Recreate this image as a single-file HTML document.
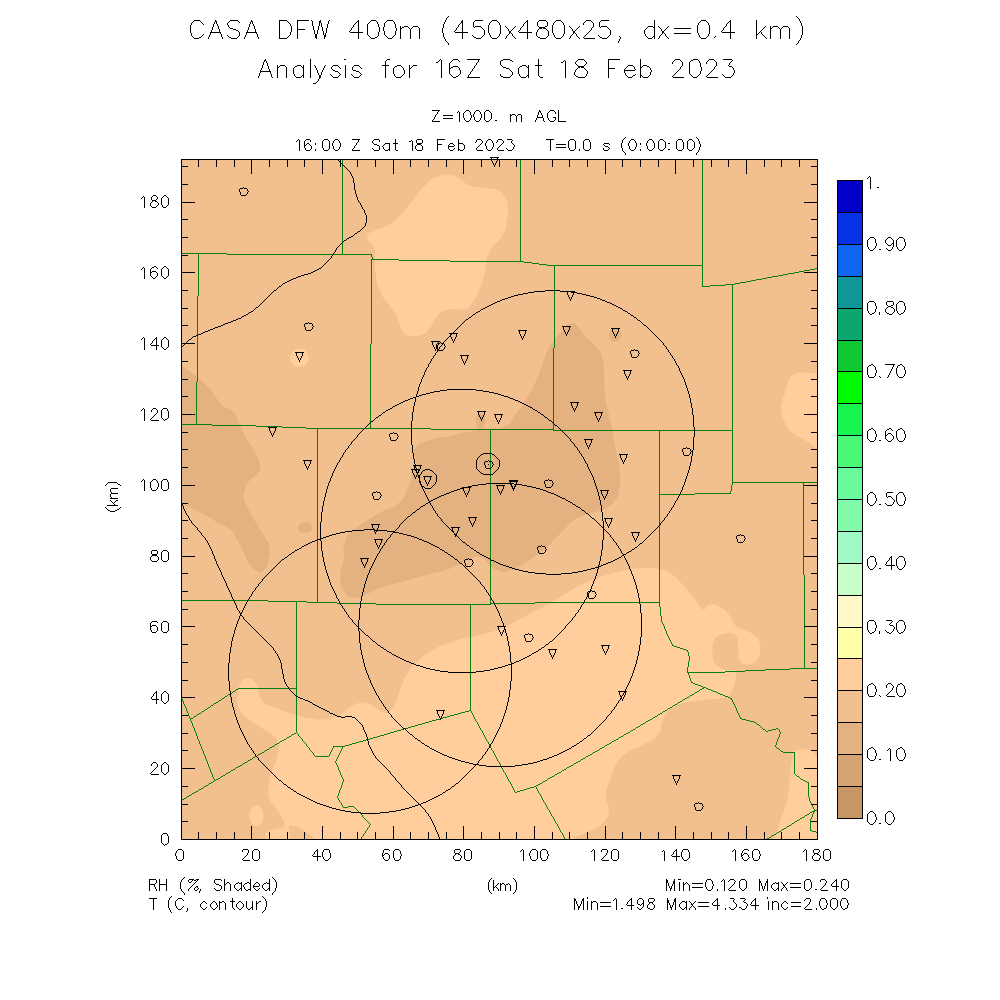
<!DOCTYPE html>
<html><head><meta charset="utf-8"><title>CASA DFW 400m</title>
<style>html,body{margin:0;padding:0;background:#fff;overflow:hidden;width:1000px;height:1000px;font-family:"Liberation Sans",sans-serif}svg{display:block}</style></head>
<body>
<svg width="1000" height="1000" viewBox="0 0 1000 1000" style="display:block">
<title>CASA DFW 400m (450x480x25, dx=0.4 km) Analysis for 16Z Sat 18 Feb 2023</title>
<desc>Z=1000. m AGL; 16:00 Z Sat 18 Feb 2023 T=0.0 s (0:00:00); RH (%, Shaded) Min=0.120 Max=0.240; T (C, contour) Min=1.498 Max=4.334 inc=2.000; axes in (km)</desc>
<rect width="1000" height="1000" fill="#fff"/>
<defs><clipPath id="cp"><rect x="181" y="159" width="637" height="681"/></clipPath></defs>
<g clip-path="url(#cp)">
<rect x="181" y="159" width="637" height="681" fill="#F1C08E"/>
<path d="M367.5,237.0 C367.8,231.2 368.3,234.3 375.0,230.5 C381.7,226.7 379.2,230.5 387.5,225.5 C395.8,220.5 391.7,223.8 400.0,215.5 C408.3,207.2 404.2,210.5 412.5,200.5 C420.8,190.5 416.7,193.3 425.0,185.5 C433.3,177.7 429.2,180.5 437.5,177.0 C445.8,173.5 442.5,174.3 450.0,175.0 C457.5,175.7 453.3,175.5 460.0,179.0 C466.7,182.5 461.7,182.5 470.0,185.5 C478.3,188.5 475.8,186.3 485.0,188.0 C494.2,189.7 490.8,187.2 497.5,190.5 C504.2,193.8 501.5,192.2 505.0,198.0 C508.5,203.8 507.3,200.5 508.0,208.0 C508.7,215.5 508.8,211.3 507.0,220.5 C505.2,229.7 507.3,226.7 502.5,235.5 C497.7,244.3 497.0,241.2 492.5,247.0 C488.0,252.8 491.2,247.7 489.0,253.0 C486.8,258.3 487.7,255.5 486.0,263.0 C484.3,270.5 486.3,266.3 484.0,275.5 C481.7,284.7 482.8,281.3 479.0,290.5 C475.2,299.7 477.2,296.8 472.5,303.0 C467.8,309.2 470.8,307.0 465.0,309.0 C459.2,311.0 461.7,308.5 455.0,309.0 C448.3,309.5 450.8,308.3 445.0,310.5 C439.2,312.7 442.5,309.7 437.5,315.5 C432.5,321.3 435.0,321.8 430.0,328.0 C425.0,334.2 428.3,331.3 422.5,334.0 C416.7,336.7 418.3,336.0 412.5,336.0 C406.7,336.0 409.2,337.5 405.0,334.0 C400.8,330.5 403.3,332.5 400.0,325.5 C396.7,318.5 399.2,320.5 395.0,313.0 C390.8,305.5 392.5,310.5 387.5,303.0 C382.5,295.5 383.8,299.7 380.0,290.5 C376.2,281.3 377.7,285.5 376.0,275.5 C374.3,265.5 375.7,269.7 375.0,260.5 C374.3,251.3 376.5,255.8 374.0,248.0 C371.5,240.2 367.2,242.8 367.5,237.0Z" fill="#FFCE9C"/>
<path d="M825.0,373.5 C822.5,347.3 824.2,373.8 817.5,373.5 C810.8,373.2 812.5,372.3 805.0,372.5 C797.5,372.7 800.3,371.3 795.0,374.0 C789.7,376.7 792.3,374.2 789.0,380.5 C785.7,386.8 787.3,385.8 785.0,393.0 C782.7,400.2 783.3,396.3 782.0,402.0 C780.7,407.7 780.2,403.2 781.2,410.0 C782.2,416.8 781.2,415.0 785.0,422.5 C788.8,430.0 785.8,426.7 792.5,432.5 C799.2,438.3 796.7,434.6 805.0,440.0 C813.3,445.4 810.8,444.7 817.5,448.7 C824.2,452.7 822.5,477.1 825.0,452.0 C827.5,426.9 827.5,399.7 825.0,373.5Z" fill="#FFCE9C"/>
<path d="M248.2,678.7 C252.6,678.7 251.5,678.7 254.8,682.0 C258.1,685.3 256.3,683.5 258.1,688.6 C259.9,693.7 257.7,692.3 260.3,697.4 C262.9,702.5 261.0,700.7 265.8,704.0 C270.6,707.3 268.0,704.7 274.6,707.3 C281.2,709.9 278.3,709.1 285.6,711.7 C292.9,714.3 288.5,712.8 296.6,715.0 C304.7,717.2 301.0,716.8 309.8,718.3 C318.6,719.8 314.9,719.8 323.0,719.4 C331.1,719.0 327.4,719.4 334.0,717.2 C340.6,715.0 336.9,716.5 342.8,712.8 C348.7,709.1 345.7,709.5 351.6,706.2 C357.5,702.9 354.5,703.6 360.4,702.9 C366.3,702.2 363.3,701.8 369.2,704.0 C375.1,706.2 372.9,706.6 378.0,709.5 C383.1,712.4 380.2,712.8 384.6,712.8 C389.0,712.8 387.4,713.1 391.2,709.5 C395.0,705.9 393.1,708.5 396.0,702.0 C398.9,695.5 396.0,699.7 400.0,690.0 C404.0,680.3 402.0,682.7 408.0,673.0 C414.0,663.3 409.7,668.7 418.0,661.0 C426.3,653.3 421.7,656.3 433.0,650.0 C444.3,643.7 439.7,646.3 452.0,642.0 C464.3,637.7 457.3,640.2 470.0,637.0 C482.7,633.8 478.3,636.0 490.0,632.5 C501.7,629.0 495.0,631.0 505.0,626.5 C515.0,622.0 510.0,624.2 520.0,619.0 C530.0,613.8 525.0,616.3 535.0,611.0 C545.0,605.7 540.0,608.7 550.0,603.0 C560.0,597.3 555.0,599.8 565.0,594.0 C575.0,588.2 570.0,590.5 580.0,585.5 C590.0,580.5 585.0,582.8 595.0,579.0 C605.0,575.2 600.0,576.8 610.0,574.0 C620.0,571.2 614.3,572.4 625.0,570.5 C635.7,568.6 631.0,568.8 642.0,568.3 C653.0,567.8 648.3,567.1 658.0,569.0 C667.7,570.9 662.3,568.3 671.0,574.0 C679.7,579.7 676.3,578.0 684.0,586.0 C691.7,594.0 687.8,590.3 694.0,598.0 C700.2,605.7 697.8,606.6 702.5,609.0 C707.2,611.4 704.0,606.7 708.0,605.2 C712.0,603.7 710.1,603.6 714.4,604.4 C718.7,605.2 716.5,604.9 720.8,607.6 C725.1,610.3 723.5,608.4 727.2,612.4 C730.9,616.4 728.8,614.8 732.0,619.6 C735.2,624.4 732.0,623.1 736.8,626.8 C741.6,630.5 740.5,627.9 746.4,630.8 C752.3,633.7 750.1,632.1 754.4,635.6 C758.7,639.1 757.3,636.1 759.2,641.2 C761.1,646.3 760.5,644.9 760.0,650.8 C759.5,656.7 760.5,654.5 757.6,658.8 C754.7,663.1 755.5,661.9 751.2,663.6 C746.9,665.3 748.5,665.0 744.8,663.9 C741.1,662.8 742.1,663.7 740.0,660.4 C737.9,657.1 739.1,659.3 738.4,654.0 C737.7,648.7 738.4,650.0 737.9,644.4 C737.4,638.8 738.8,640.8 736.8,637.2 C734.8,633.6 735.7,634.7 732.0,633.5 C728.3,632.3 730.4,632.5 725.6,633.5 C720.8,634.5 721.6,633.8 717.6,636.4 C713.6,639.0 715.3,636.4 713.6,641.2 C711.9,646.0 712.5,644.4 712.5,650.8 C712.5,657.2 712.2,655.6 713.6,660.4 C715.0,665.2 713.3,662.3 716.8,665.2 C720.3,668.1 719.5,667.6 724.0,669.2 C728.5,670.8 726.7,669.5 730.4,670.0 C734.1,670.5 733.3,669.2 735.2,670.8 C737.1,672.4 736.3,670.5 736.0,674.8 C735.7,679.1 735.7,678.3 734.4,683.6 C733.1,688.9 734.4,686.5 732.0,690.8 C729.6,695.1 732.5,693.7 727.2,696.4 C721.9,699.1 725.1,697.5 716.0,698.8 C706.9,700.1 710.7,699.1 700.0,700.4 C689.3,701.7 692.5,700.7 684.0,702.8 C675.5,704.9 679.7,703.7 674.4,706.8 C669.1,709.9 672.1,706.9 668.0,712.0 C663.9,717.1 665.5,714.3 662.0,722.0 C658.5,729.7 664.0,727.3 657.5,735.0 C651.0,742.7 652.5,739.2 642.5,745.0 C632.5,750.8 635.8,746.7 627.5,752.5 C619.2,758.3 622.9,754.2 617.5,762.5 C612.1,770.8 615.0,766.7 611.2,777.5 C607.4,788.3 607.0,784.2 606.2,795.0 C605.4,805.8 609.1,801.7 608.7,810.0 C608.3,818.3 609.2,814.0 605.0,820.0 C600.8,826.0 603.0,823.5 596.0,828.0 C589.0,832.5 591.8,829.7 584.0,833.5 C576.2,837.3 577.2,834.7 572.5,839.5 C567.8,844.3 672.5,845.2 570.0,848.0 C467.5,850.8 366.5,850.8 265.0,848.0 C163.5,845.2 265.2,844.2 265.5,839.5 C265.8,834.8 264.8,836.8 266.0,834.0 C267.2,831.2 266.0,832.5 269.0,831.0 C272.0,829.5 270.7,830.5 275.0,829.5 C279.3,828.5 278.8,829.5 282.0,828.0 C285.2,826.5 284.2,827.7 284.5,825.0 C284.8,822.3 284.5,823.7 283.0,820.0 C281.5,816.3 282.3,818.0 280.0,814.0 C277.7,810.0 278.7,811.7 276.0,808.0 C273.3,804.3 274.3,806.7 272.0,803.0 C269.7,799.3 270.2,802.0 269.0,797.0 C267.8,792.0 268.3,793.7 268.5,788.0 C268.7,782.3 268.7,785.0 269.5,780.0 C270.3,775.0 269.5,777.7 271.0,773.0 C272.5,768.3 271.9,771.4 274.0,766.0 C276.1,760.6 275.9,764.3 277.2,756.8 C278.5,749.3 279.5,750.9 277.9,743.6 C276.3,736.3 277.2,739.6 272.4,734.8 C267.6,730.0 270.2,733.7 263.6,729.3 C257.0,724.9 259.6,726.7 252.6,721.6 C245.6,716.5 247.7,719.8 242.7,713.9 C237.7,708.0 239.1,711.0 237.6,704.0 C236.1,697.0 237.0,700.3 238.3,693.0 C239.6,685.7 238.3,686.8 241.6,682.0 C244.9,677.2 243.8,678.7 248.2,678.7Z" fill="#FFCE9C"/>
<path d="M795.0,750.6 C799.7,748.7 804.0,749.1 810.0,750.5 C816.0,751.9 813.2,753.5 817.5,756.0 C821.8,758.5 823.7,735.5 826.0,760.0 C828.3,784.5 839.9,824.5 826.0,848.0 C812.1,871.5 787.8,850.5 774.0,848.0 C760.2,845.5 773.8,842.8 774.4,838.7 C775.0,834.6 775.1,835.8 776.2,832.5 C777.3,829.2 777.4,830.2 778.7,826.2 C780.0,822.2 779.5,822.5 781.2,817.5 C782.9,812.5 783.2,813.5 785.0,807.5 C786.8,801.5 786.9,801.7 788.1,795.0 C789.3,788.3 788.7,789.2 789.4,782.5 C790.1,775.8 789.8,776.7 790.6,770.0 C791.4,763.3 791.3,762.7 792.5,757.5 C793.7,752.3 790.3,752.5 795.0,750.6Z" fill="#FFCE9C"/>
<path d="M249.5,815.5 a7.0,10.5 0 1,0 14.0,0 a7.0,10.5 0 1,0 -14.0,0Z" fill="#FFCE9C"/>
<path d="M290.1,357.7 a9.3,9.3 0 1,0 18.6,0 a9.3,9.3 0 1,0 -18.6,0Z" fill="#FFCE9C"/>
<path d="M289.0,826.5 C290.2,824.9 291.1,825.6 294.0,826.0 C296.9,826.4 296.8,826.4 300.0,828.0 C303.2,829.6 302.8,829.9 306.0,832.0 C309.2,834.1 309.9,833.9 312.0,836.0 C314.1,838.1 313.5,836.8 314.0,840.0 C314.5,843.2 320.1,845.9 314.0,848.0 C307.9,850.1 297.3,850.4 291.0,848.0 C284.7,845.6 290.9,843.3 290.5,839.0 C290.1,834.7 289.9,835.3 289.5,832.0 C289.1,828.7 287.8,828.1 289.0,826.5Z" fill="#F1C08E"/>
<path d="M173.0,360.0 C175.7,315.0 173.7,359.8 181.0,365.0 C188.3,370.2 187.0,369.2 195.0,375.5 C203.0,381.8 199.2,378.3 205.0,384.0 C210.8,389.7 206.7,385.5 212.5,392.5 C218.3,399.5 215.4,398.3 222.5,405.0 C229.6,411.7 227.9,405.8 233.7,412.5 C239.5,419.2 235.4,415.8 240.0,425.0 C244.6,434.2 242.5,430.8 247.5,440.0 C252.5,449.2 250.8,444.2 255.0,452.5 C259.2,460.8 259.2,457.9 260.0,465.0 C260.8,472.1 260.8,468.7 257.5,473.7 C254.2,478.7 254.2,474.6 250.0,480.0 C245.8,485.4 246.8,483.3 245.0,490.0 C243.2,496.7 242.8,492.5 244.5,500.0 C246.2,507.5 245.7,504.2 250.0,512.5 C254.3,520.8 252.5,516.7 257.5,525.0 C262.5,533.3 261.0,530.0 265.0,537.5 C269.0,545.0 268.3,540.0 269.5,547.5 C270.7,555.0 270.6,552.5 268.7,560.0 C266.8,567.5 267.4,566.3 263.7,570.0 C260.0,573.7 262.1,572.9 257.5,571.2 C252.9,569.5 254.6,571.2 250.0,565.0 C245.4,558.8 247.9,560.8 243.7,552.5 C239.5,544.2 242.1,547.5 237.5,540.0 C232.9,532.5 236.7,535.8 230.0,530.0 C223.3,524.2 225.0,527.1 217.5,522.5 C210.0,517.9 215.0,520.4 207.5,516.2 C200.0,512.0 202.5,513.7 195.0,510.0 C187.5,506.3 192.3,508.3 185.0,505.0 C177.7,501.7 177.0,548.3 173.0,500.0 C169.0,451.7 170.3,405.0 173.0,360.0Z" fill="#E4B280"/>
<path d="M570.0,324.0 C575.0,322.5 572.5,322.0 577.5,326.0 C582.5,330.0 579.5,329.8 585.0,336.0 C590.5,342.2 588.3,337.5 594.0,344.5 C599.7,351.5 598.7,346.8 602.0,357.0 C605.3,367.2 603.0,362.3 604.0,375.0 C605.0,387.7 603.5,382.5 605.0,395.0 C606.5,407.5 606.0,400.8 608.5,412.5 C611.0,424.2 610.0,417.5 612.5,430.0 C615.0,442.5 613.7,436.7 616.0,450.0 C618.3,463.3 618.6,456.7 619.5,470.0 C620.4,483.3 620.9,479.0 618.7,490.0 C616.5,501.0 619.2,496.2 613.0,503.0 C606.8,509.8 609.3,506.5 600.0,510.5 C590.7,514.5 594.0,511.5 585.0,515.0 C576.0,518.5 580.0,516.0 573.0,521.0 C566.0,526.0 570.0,524.0 564.0,530.0 C558.0,536.0 561.0,533.0 555.0,539.0 C549.0,545.0 553.0,542.0 546.0,548.0 C539.0,554.0 542.0,551.5 534.0,557.0 C526.0,562.5 530.0,560.0 522.0,564.5 C514.0,569.0 518.0,568.5 510.0,570.5 C502.0,572.5 505.0,572.5 498.0,570.5 C491.0,568.5 495.0,569.0 489.0,564.5 C483.0,560.0 486.0,559.0 480.0,557.0 C474.0,555.0 478.0,556.0 471.0,558.5 C464.0,561.0 468.0,560.5 459.0,564.5 C450.0,568.5 455.0,567.0 444.0,570.5 C433.0,574.0 439.0,571.5 426.0,575.0 C413.0,578.5 419.0,577.0 405.0,581.0 C391.0,585.0 396.0,583.0 384.0,587.0 C372.0,591.0 379.0,589.5 369.0,593.0 C359.0,596.5 362.5,598.5 354.0,597.5 C345.5,596.5 348.0,597.5 343.5,590.0 C339.0,582.5 340.5,585.0 340.5,575.0 C340.5,565.0 342.0,571.0 343.5,560.0 C345.0,549.0 341.5,552.0 345.0,542.0 C348.5,532.0 346.0,537.5 354.0,530.0 C362.0,522.5 359.0,526.0 369.0,519.5 C379.0,513.0 374.0,516.0 384.0,510.5 C394.0,505.0 391.2,510.2 399.0,503.0 C406.8,495.8 403.2,498.0 407.5,489.0 C411.8,480.0 409.2,484.7 412.0,476.0 C414.8,467.3 415.0,472.0 416.0,463.0 C417.0,454.0 410.3,456.7 415.0,449.0 C419.7,441.3 418.3,444.3 430.0,440.0 C441.7,435.7 436.7,438.8 450.0,436.0 C463.3,433.2 456.7,433.9 470.0,431.5 C483.3,429.1 478.3,430.5 490.0,428.7 C501.7,426.9 496.7,430.6 505.0,426.0 C513.3,421.4 507.7,424.3 515.0,415.0 C522.3,405.7 520.0,409.3 527.0,398.0 C534.0,386.7 530.8,392.3 536.0,381.0 C541.2,369.7 538.7,374.2 542.5,364.0 C546.3,353.8 543.7,358.2 547.5,350.5 C551.3,342.8 549.0,347.7 554.0,341.0 C559.0,334.3 557.2,336.2 562.5,330.5 C567.8,324.8 565.0,325.5 570.0,324.0Z" fill="#E4B280"/>
<path d="M298.0,527.5 a7.0,5.5 0 1,0 14.0,0 a7.0,5.5 0 1,0 -14.0,0Z" fill="#E4B280"/>
<path d="M475.5,421.0 a5.0,8.0 0 1,0 10.0,0 a5.0,8.0 0 1,0 -10.0,0Z" fill="#E4B280"/>
<path d="M608.5,335.0 a6.5,6.5 0 1,0 13.0,0 a6.5,6.5 0 1,0 -13.0,0Z" fill="#E4B280"/>
<path d="M183,701v3h1v-3zM186,708v3h1v-3zM188,713v3h1v-3zM190,718v3h1v-3zM192,723v3h1v-3zM194,728v3h1v-3zM196,382v43h1v-43zM196,733v3h1v-3zM197,296v86h1v-86zM197,736v3h1v-3zM198,253v43h1v-43zM199,741v3h1v-3zM201,746v3h1v-3zM203,751v3h1v-3zM205,756v3h1v-3zM207,761v3h1v-3zM208,764v3h1v-3zM210,769v3h1v-3zM212,774v3h1v-3zM296,601v132h1v-132zM317,428v175h1v-175zM338,767v3h1v-3zM338,793v3h1v-3zM339,790v3h1v-3zM340,772v3h1v-3zM341,785v3h1v-3zM342,159v96h1v-96zM342,746v3h1v-3zM342,782v3h1v-3zM343,779v3h1v-3zM370,344v85h1v-85zM371,254v3h1v-3zM371,259v85h1v-85zM372,257v3h1v-3zM470,604v107h1v-107zM490,429v176h1v-176zM520,159v103h1v-103zM553,348v83h1v-83zM554,265v83h1v-83zM659,430v177h1v-177zM660,607v9h1v-9zM661,616v6h1v-6zM664,626v3h1v-3zM666,631v3h1v-3zM687,667v6h1v-6zM688,652v4h1v-4zM688,661v6h1v-6zM688,672v3h1v-3zM689,656v5h1v-5zM689,675v3h1v-3zM690,678v3h1v-3zM702,159v128h1v-128zM730,491v3h1v-3zM731,485v6h1v-6zM732,284v201h1v-201zM736,708v3h1v-3zM776,742v3h1v-3zM777,739v3h1v-3zM779,734v3h1v-3zM794,752v22h1v-22zM803,482v93h1v-93zM804,575v94h1v-94zM808,782v15h1v-15zM809,797v4h1v-4zM810,819v12h1v-12zM812,814v3h1v-3zM813,811v3h1v-3zM814,809v3h1v-3zM181,253h17v1h-17zM199,253h28v1h-28zM227,254h115v1h-115zM343,254h28v1h-28zM373,259h26v1h-26zM399,260h51v1h-51zM450,261h70v1h-70zM521,261h3v1h-3zM524,262h8v1h-8zM532,263h7v1h-7zM539,264h8v1h-8zM547,265h7v1h-7zM555,265h147v1h-147zM815,268h3v1h-3zM810,269h5v1h-5zM804,270h6v1h-6zM799,271h5v1h-5zM794,272h5v1h-5zM788,273h6v1h-6zM783,274h5v1h-5zM778,275h5v1h-5zM772,276h6v1h-6zM767,277h5v1h-5zM762,278h5v1h-5zM756,279h6v1h-6zM751,280h5v1h-5zM746,281h5v1h-5zM740,282h6v1h-6zM735,283h5v1h-5zM725,284h7v1h-7zM733,284h2v1h-2zM710,285h15v1h-15zM703,286h7v1h-7zM181,424h15v1h-15zM197,424h15v1h-15zM212,425h44v1h-44zM256,426h26v1h-26zM282,427h24v1h-24zM306,428h11v1h-11zM318,428h52v1h-52zM371,428h60v1h-60zM431,429h59v1h-59zM491,429h62v1h-62zM554,430h105v1h-105zM660,430h72v1h-72zM733,482h70v1h-70zM804,482h14v1h-14zM695,493h35v1h-35zM660,494h35v1h-35zM181,600h87v1h-87zM268,601h28v1h-28zM297,601h10v1h-10zM307,602h10v1h-10zM318,602h19v1h-19zM535,602h124v1h-124zM337,603h39v1h-39zM491,603h44v1h-44zM376,604h94v1h-94zM471,604h19v1h-19zM662,622h1v1h-1zM662,623h1v1h-1zM663,624h1v1h-1zM663,625h1v1h-1zM665,629h1v1h-1zM665,630h1v1h-1zM667,634h1v1h-1zM667,635h1v1h-1zM668,636h1v1h-1zM668,637h1v1h-1zM669,638h1v1h-1zM669,639h1v1h-1zM670,640h1v1h-1zM670,641h1v1h-1zM671,642h1v1h-1zM671,643h1v1h-1zM672,644h1v1h-1zM672,645h2v1h-2zM674,646h3v1h-3zM677,647h3v1h-3zM680,648h3v1h-3zM683,649h3v1h-3zM686,650h2v1h-2zM687,651h1v1h-1zM790,668h14v1h-14zM805,668h13v1h-13zM765,669h25v1h-25zM745,670h20v1h-20zM725,671h20v1h-20zM689,672h36v1h-36zM691,681h1v1h-1zM691,682h2v1h-2zM693,683h2v1h-2zM695,684h3v1h-3zM698,685h3v1h-3zM701,686h2v1h-2zM703,687h3v1h-3zM238,688h58v1h-58zM702,688h2v1h-2zM706,688h2v1h-2zM236,689h2v1h-2zM700,689h2v1h-2zM708,689h3v1h-3zM235,690h1v1h-1zM699,690h1v1h-1zM711,690h2v1h-2zM233,691h2v1h-2zM697,691h2v1h-2zM713,691h3v1h-3zM232,692h1v1h-1zM695,692h2v1h-2zM716,692h2v1h-2zM230,693h2v1h-2zM694,693h1v1h-1zM718,693h2v1h-2zM228,694h2v1h-2zM692,694h2v1h-2zM720,694h3v1h-3zM227,695h1v1h-1zM690,695h2v1h-2zM723,695h2v1h-2zM225,696h2v1h-2zM689,696h1v1h-1zM725,696h3v1h-3zM181,697h1v1h-1zM224,697h1v1h-1zM687,697h2v1h-2zM728,697h2v1h-2zM181,698h1v1h-1zM222,698h2v1h-2zM685,698h2v1h-2zM730,698h2v1h-2zM182,699h1v1h-1zM221,699h1v1h-1zM683,699h2v1h-2zM731,699h1v1h-1zM182,700h1v1h-1zM219,700h2v1h-2zM682,700h1v1h-1zM732,700h1v1h-1zM218,701h1v1h-1zM680,701h2v1h-2zM732,701h1v1h-1zM216,702h2v1h-2zM678,702h2v1h-2zM733,702h1v1h-1zM214,703h2v1h-2zM677,703h1v1h-1zM733,703h1v1h-1zM184,704h1v1h-1zM213,704h1v1h-1zM675,704h2v1h-2zM734,704h1v1h-1zM184,705h1v1h-1zM211,705h2v1h-2zM673,705h2v1h-2zM734,705h1v1h-1zM185,706h1v1h-1zM210,706h1v1h-1zM672,706h1v1h-1zM735,706h1v1h-1zM185,707h1v1h-1zM208,707h2v1h-2zM670,707h2v1h-2zM735,707h1v1h-1zM207,708h1v1h-1zM668,708h2v1h-2zM205,709h2v1h-2zM667,709h1v1h-1zM204,710h1v1h-1zM469,710h1v1h-1zM665,710h2v1h-2zM187,711h1v1h-1zM202,711h2v1h-2zM465,711h4v1h-4zM471,711h1v1h-1zM663,711h2v1h-2zM737,711h1v1h-1zM187,712h1v1h-1zM201,712h1v1h-1zM461,712h4v1h-4zM471,712h1v1h-1zM662,712h1v1h-1zM737,712h1v1h-1zM199,713h2v1h-2zM458,713h3v1h-3zM472,713h1v1h-1zM660,713h2v1h-2zM738,713h1v1h-1zM197,714h2v1h-2zM454,714h4v1h-4zM472,714h1v1h-1zM658,714h2v1h-2zM738,714h1v1h-1zM196,715h1v1h-1zM450,715h4v1h-4zM473,715h1v1h-1zM657,715h1v1h-1zM739,715h1v1h-1zM189,716h1v1h-1zM194,716h2v1h-2zM447,716h3v1h-3zM473,716h1v1h-1zM655,716h2v1h-2zM739,716h1v1h-1zM189,717h1v1h-1zM193,717h1v1h-1zM443,717h4v1h-4zM474,717h1v1h-1zM653,717h2v1h-2zM740,717h1v1h-1zM191,718h2v1h-2zM440,718h3v1h-3zM474,718h1v1h-1zM652,718h1v1h-1zM740,718h2v1h-2zM436,719h4v1h-4zM475,719h1v1h-1zM650,719h2v1h-2zM742,719h4v1h-4zM432,720h4v1h-4zM475,720h1v1h-1zM648,720h2v1h-2zM746,720h4v1h-4zM191,721h1v1h-1zM429,721h3v1h-3zM476,721h1v1h-1zM646,721h2v1h-2zM750,721h4v1h-4zM191,722h1v1h-1zM425,722h4v1h-4zM477,722h1v1h-1zM645,722h1v1h-1zM754,722h2v1h-2zM422,723h3v1h-3zM477,723h1v1h-1zM643,723h2v1h-2zM756,723h1v1h-1zM418,724h4v1h-4zM478,724h1v1h-1zM641,724h2v1h-2zM757,724h2v1h-2zM415,725h3v1h-3zM478,725h1v1h-1zM640,725h1v1h-1zM759,725h1v1h-1zM193,726h1v1h-1zM411,726h4v1h-4zM479,726h1v1h-1zM638,726h2v1h-2zM760,726h1v1h-1zM193,727h1v1h-1zM408,727h3v1h-3zM479,727h1v1h-1zM636,727h2v1h-2zM761,727h1v1h-1zM404,728h4v1h-4zM480,728h1v1h-1zM635,728h1v1h-1zM762,728h1v1h-1zM776,728h2v1h-2zM401,729h3v1h-3zM480,729h1v1h-1zM633,729h2v1h-2zM763,729h2v1h-2zM772,729h4v1h-4zM778,729h1v1h-1zM397,730h4v1h-4zM481,730h1v1h-1zM631,730h2v1h-2zM765,730h1v1h-1zM768,730h4v1h-4zM779,730h1v1h-1zM195,731h1v1h-1zM394,731h3v1h-3zM482,731h1v1h-1zM630,731h1v1h-1zM766,731h2v1h-2zM779,731h1v1h-1zM195,732h1v1h-1zM390,732h4v1h-4zM482,732h1v1h-1zM628,732h2v1h-2zM780,732h1v1h-1zM294,733h2v1h-2zM297,733h1v1h-1zM387,733h3v1h-3zM483,733h1v1h-1zM626,733h2v1h-2zM780,733h1v1h-1zM292,734h2v1h-2zM298,734h1v1h-1zM384,734h3v1h-3zM483,734h1v1h-1zM624,734h2v1h-2zM291,735h1v1h-1zM298,735h1v1h-1zM380,735h4v1h-4zM484,735h1v1h-1zM623,735h1v1h-1zM289,736h2v1h-2zM299,736h1v1h-1zM377,736h3v1h-3zM484,736h1v1h-1zM621,736h2v1h-2zM287,737h2v1h-2zM300,737h1v1h-1zM373,737h4v1h-4zM485,737h1v1h-1zM619,737h2v1h-2zM778,737h1v1h-1zM286,738h1v1h-1zM301,738h1v1h-1zM370,738h3v1h-3zM485,738h1v1h-1zM618,738h1v1h-1zM778,738h1v1h-1zM198,739h1v1h-1zM284,739h2v1h-2zM302,739h1v1h-1zM366,739h4v1h-4zM486,739h1v1h-1zM616,739h2v1h-2zM198,740h1v1h-1zM282,740h2v1h-2zM302,740h1v1h-1zM363,740h3v1h-3zM486,740h1v1h-1zM614,740h2v1h-2zM280,741h2v1h-2zM303,741h1v1h-1zM359,741h4v1h-4zM487,741h1v1h-1zM612,741h2v1h-2zM279,742h1v1h-1zM304,742h1v1h-1zM356,742h3v1h-3zM488,742h1v1h-1zM611,742h1v1h-1zM277,743h2v1h-2zM305,743h1v1h-1zM352,743h4v1h-4zM488,743h1v1h-1zM609,743h2v1h-2zM200,744h1v1h-1zM275,744h2v1h-2zM306,744h1v1h-1zM349,744h3v1h-3zM489,744h1v1h-1zM607,744h2v1h-2zM200,745h1v1h-1zM274,745h1v1h-1zM306,745h1v1h-1zM345,745h4v1h-4zM489,745h1v1h-1zM605,745h2v1h-2zM775,745h1v1h-1zM272,746h2v1h-2zM307,746h1v1h-1zM333,746h9v1h-9zM343,746h2v1h-2zM490,746h1v1h-1zM604,746h1v1h-1zM775,746h1v1h-1zM270,747h2v1h-2zM308,747h1v1h-1zM333,747h1v1h-1zM490,747h1v1h-1zM602,747h2v1h-2zM776,747h1v1h-1zM269,748h1v1h-1zM309,748h1v1h-1zM332,748h1v1h-1zM491,748h1v1h-1zM600,748h2v1h-2zM777,748h2v1h-2zM202,749h1v1h-1zM267,749h2v1h-2zM309,749h1v1h-1zM332,749h1v1h-1zM341,749h1v1h-1zM491,749h1v1h-1zM599,749h1v1h-1zM779,749h1v1h-1zM202,750h1v1h-1zM265,750h2v1h-2zM310,750h1v1h-1zM331,750h1v1h-1zM341,750h1v1h-1zM492,750h1v1h-1zM597,750h2v1h-2zM780,750h1v1h-1zM264,751h1v1h-1zM311,751h1v1h-1zM331,751h1v1h-1zM340,751h1v1h-1zM493,751h1v1h-1zM595,751h2v1h-2zM781,751h2v1h-2zM262,752h2v1h-2zM312,752h1v1h-1zM330,752h1v1h-1zM340,752h1v1h-1zM493,752h1v1h-1zM593,752h2v1h-2zM783,752h11v1h-11zM260,753h2v1h-2zM313,753h1v1h-1zM330,753h1v1h-1zM339,753h1v1h-1zM494,753h1v1h-1zM592,753h1v1h-1zM204,754h1v1h-1zM258,754h2v1h-2zM313,754h1v1h-1zM329,754h1v1h-1zM339,754h1v1h-1zM494,754h1v1h-1zM590,754h2v1h-2zM204,755h1v1h-1zM257,755h1v1h-1zM314,755h1v1h-1zM329,755h1v1h-1zM338,755h1v1h-1zM495,755h1v1h-1zM588,755h2v1h-2zM255,756h2v1h-2zM315,756h14v1h-14zM338,756h1v1h-1zM495,756h1v1h-1zM586,756h2v1h-2zM253,757h2v1h-2zM337,757h1v1h-1zM496,757h1v1h-1zM585,757h1v1h-1zM252,758h1v1h-1zM337,758h1v1h-1zM496,758h1v1h-1zM583,758h2v1h-2zM206,759h1v1h-1zM250,759h2v1h-2zM336,759h1v1h-1zM497,759h1v1h-1zM581,759h2v1h-2zM206,760h1v1h-1zM248,760h2v1h-2zM336,760h1v1h-1zM497,760h1v1h-1zM580,760h1v1h-1zM247,761h1v1h-1zM335,761h1v1h-1zM498,761h1v1h-1zM578,761h2v1h-2zM245,762h2v1h-2zM335,762h1v1h-1zM499,762h1v1h-1zM576,762h2v1h-2zM243,763h2v1h-2zM336,763h1v1h-1zM499,763h1v1h-1zM574,763h2v1h-2zM242,764h1v1h-1zM336,764h1v1h-1zM500,764h1v1h-1zM573,764h1v1h-1zM240,765h2v1h-2zM337,765h1v1h-1zM500,765h1v1h-1zM571,765h2v1h-2zM238,766h2v1h-2zM337,766h1v1h-1zM501,766h1v1h-1zM569,766h2v1h-2zM209,767h1v1h-1zM236,767h2v1h-2zM501,767h1v1h-1zM567,767h2v1h-2zM209,768h1v1h-1zM235,768h1v1h-1zM502,768h1v1h-1zM566,768h1v1h-1zM233,769h2v1h-2zM502,769h1v1h-1zM564,769h2v1h-2zM231,770h2v1h-2zM339,770h1v1h-1zM503,770h1v1h-1zM562,770h2v1h-2zM230,771h1v1h-1zM339,771h1v1h-1zM503,771h1v1h-1zM561,771h1v1h-1zM211,772h1v1h-1zM228,772h2v1h-2zM504,772h1v1h-1zM559,772h2v1h-2zM211,773h1v1h-1zM226,773h2v1h-2zM505,773h1v1h-1zM557,773h2v1h-2zM225,774h1v1h-1zM505,774h1v1h-1zM555,774h2v1h-2zM795,774h1v1h-1zM223,775h2v1h-2zM341,775h1v1h-1zM506,775h1v1h-1zM554,775h1v1h-1zM796,775h1v1h-1zM221,776h2v1h-2zM341,776h1v1h-1zM506,776h1v1h-1zM552,776h2v1h-2zM797,776h2v1h-2zM213,777h1v1h-1zM220,777h1v1h-1zM342,777h1v1h-1zM507,777h1v1h-1zM550,777h2v1h-2zM799,777h1v1h-1zM213,778h1v1h-1zM218,778h2v1h-2zM342,778h1v1h-1zM507,778h1v1h-1zM548,778h2v1h-2zM800,778h1v1h-1zM214,779h1v1h-1zM216,779h2v1h-2zM508,779h1v1h-1zM547,779h1v1h-1zM801,779h2v1h-2zM214,780h2v1h-2zM508,780h1v1h-1zM545,780h2v1h-2zM803,780h2v1h-2zM213,781h1v1h-1zM509,781h1v1h-1zM543,781h2v1h-2zM805,781h2v1h-2zM211,782h2v1h-2zM510,782h1v1h-1zM542,782h1v1h-1zM807,782h1v1h-1zM209,783h2v1h-2zM510,783h1v1h-1zM540,783h2v1h-2zM208,784h1v1h-1zM511,784h1v1h-1zM538,784h2v1h-2zM206,785h2v1h-2zM511,785h1v1h-1zM536,785h2v1h-2zM204,786h2v1h-2zM512,786h1v1h-1zM534,786h2v1h-2zM203,787h1v1h-1zM512,787h1v1h-1zM530,787h4v1h-4zM536,787h1v1h-1zM201,788h2v1h-2zM340,788h1v1h-1zM513,788h1v1h-1zM527,788h3v1h-3zM536,788h1v1h-1zM199,789h2v1h-2zM340,789h1v1h-1zM513,789h1v1h-1zM524,789h3v1h-3zM537,789h1v1h-1zM198,790h1v1h-1zM514,790h1v1h-1zM520,790h4v1h-4zM537,790h1v1h-1zM196,791h2v1h-2zM514,791h1v1h-1zM517,791h3v1h-3zM538,791h1v1h-1zM194,792h2v1h-2zM515,792h2v1h-2zM538,792h1v1h-1zM192,793h2v1h-2zM539,793h1v1h-1zM191,794h1v1h-1zM540,794h1v1h-1zM189,795h2v1h-2zM540,795h1v1h-1zM187,796h2v1h-2zM337,796h1v1h-1zM541,796h1v1h-1zM186,797h1v1h-1zM337,797h1v1h-1zM541,797h1v1h-1zM184,798h2v1h-2zM338,798h1v1h-1zM542,798h1v1h-1zM182,799h2v1h-2zM338,799h1v1h-1zM542,799h1v1h-1zM181,800h1v1h-1zM339,800h1v1h-1zM543,800h1v1h-1zM339,801h1v1h-1zM543,801h1v1h-1zM810,801h1v1h-1zM340,802h1v1h-1zM544,802h1v1h-1zM810,802h1v1h-1zM341,803h1v1h-1zM545,803h1v1h-1zM811,803h1v1h-1zM341,804h1v1h-1zM545,804h1v1h-1zM811,804h1v1h-1zM342,805h1v1h-1zM546,805h1v1h-1zM812,805h1v1h-1zM342,806h1v1h-1zM348,806h6v1h-6zM546,806h1v1h-1zM812,806h1v1h-1zM343,807h5v1h-5zM354,807h1v1h-1zM547,807h1v1h-1zM813,807h1v1h-1zM355,808h1v1h-1zM547,808h1v1h-1zM813,808h1v1h-1zM356,809h1v1h-1zM548,809h1v1h-1zM357,810h1v1h-1zM549,810h1v1h-1zM815,810h3v1h-3zM358,811h1v1h-1zM549,811h1v1h-1zM812,811h1v1h-1zM359,812h1v1h-1zM550,812h1v1h-1zM810,812h2v1h-2zM360,813h1v1h-1zM550,813h1v1h-1zM809,813h1v1h-1zM361,814h1v1h-1zM551,814h1v1h-1zM807,814h2v1h-2zM362,815h1v1h-1zM551,815h1v1h-1zM805,815h2v1h-2zM362,816h1v1h-1zM552,816h1v1h-1zM804,816h1v1h-1zM363,817h1v1h-1zM553,817h1v1h-1zM802,817h2v1h-2zM811,817h1v1h-1zM364,818h1v1h-1zM553,818h1v1h-1zM800,818h2v1h-2zM811,818h1v1h-1zM365,819h1v1h-1zM554,819h1v1h-1zM799,819h1v1h-1zM366,820h1v1h-1zM554,820h1v1h-1zM797,820h2v1h-2zM367,821h1v1h-1zM555,821h1v1h-1zM795,821h2v1h-2zM368,822h1v1h-1zM555,822h1v1h-1zM794,822h1v1h-1zM369,823h1v1h-1zM556,823h1v1h-1zM792,823h2v1h-2zM370,824h1v1h-1zM557,824h1v1h-1zM791,824h1v1h-1zM369,825h1v1h-1zM557,825h1v1h-1zM789,825h2v1h-2zM369,826h1v1h-1zM558,826h1v1h-1zM787,826h2v1h-2zM368,827h1v1h-1zM558,827h1v1h-1zM786,827h1v1h-1zM367,828h1v1h-1zM559,828h1v1h-1zM784,828h2v1h-2zM367,829h1v1h-1zM559,829h1v1h-1zM782,829h2v1h-2zM366,830h1v1h-1zM560,830h1v1h-1zM781,830h1v1h-1zM811,830h1v1h-1zM365,831h1v1h-1zM560,831h1v1h-1zM779,831h2v1h-2zM812,831h4v1h-4zM365,832h1v1h-1zM561,832h1v1h-1zM777,832h2v1h-2zM816,832h2v1h-2zM364,833h1v1h-1zM562,833h1v1h-1zM776,833h1v1h-1zM363,834h1v1h-1zM562,834h1v1h-1zM774,834h2v1h-2zM363,835h1v1h-1zM563,835h1v1h-1zM772,835h2v1h-2zM362,836h1v1h-1zM563,836h1v1h-1zM771,836h1v1h-1zM361,837h1v1h-1zM564,837h1v1h-1zM769,837h2v1h-2zM361,838h1v1h-1zM564,838h1v1h-1zM767,838h2v1h-2zM360,839h1v1h-1zM565,839h1v1h-1zM766,839h1v1h-1z" fill="#0A7D0A" shape-rendering="crispEdges"/>
<path d="M183,506v3h1v-3zM212,551v3h1v-3zM214,556v3h1v-3zM216,561v3h1v-3zM221,572v3h1v-3zM226,583v3h1v-3zM228,663v18h1v-18zM229,653v10h1v-10zM229,681v10h1v-10zM230,647v6h1v-6zM230,691v6h1v-6zM231,594v3h1v-3zM231,641v6h1v-6zM231,697v6h1v-6zM232,637v4h1v-4zM232,703v4h1v-4zM233,634v3h1v-3zM233,707v3h1v-3zM234,630v4h1v-4zM234,710v4h1v-4zM235,627v3h1v-3zM235,714v3h1v-3zM236,605v3h1v-3zM236,624v3h1v-3zM236,717v3h1v-3zM237,621v3h1v-3zM237,720v3h1v-3zM239,616v3h1v-3zM239,725v3h1v-3zM240,613v3h1v-3zM280,660v3h1v-3zM281,663v6h1v-6zM282,669v5h1v-5zM283,674v5h1v-5zM284,679v3h1v-3zM320,522v19h1v-19zM321,512v10h1v-10zM321,541v10h1v-10zM322,506v6h1v-6zM322,551v6h1v-6zM323,501v5h1v-5zM323,557v5h1v-5zM324,497v4h1v-4zM324,562v4h1v-4zM325,493v4h1v-4zM325,566v4h1v-4zM326,489v4h1v-4zM326,570v3h1v-3zM327,486v3h1v-3zM327,573v3h1v-3zM328,483v3h1v-3zM328,576v3h1v-3zM329,579v3h1v-3zM330,478v3h1v-3zM330,582v3h1v-3zM332,473v3h1v-3zM336,595v3h1v-3zM353,178v5h1v-5zM354,183v7h1v-7zM355,190v4h1v-4zM356,194v3h1v-3zM357,197v3h1v-3zM358,620v11h1v-11zM359,608v12h1v-12zM359,631v12h1v-12zM360,601v7h1v-7zM360,643v7h1v-7zM361,596v5h1v-5zM361,650v5h1v-5zM362,592v4h1v-4zM362,655v4h1v-4zM363,588v4h1v-4zM363,659v4h1v-4zM363,727v3h1v-3zM364,210v3h1v-3zM364,584v4h1v-4zM364,663v4h1v-4zM365,223v3h1v-3zM365,581v3h1v-3zM365,667v3h1v-3zM366,215v8h1v-8zM366,578v3h1v-3zM366,670v3h1v-3zM366,734v3h1v-3zM367,575v3h1v-3zM367,737v4h1v-4zM368,675v3h1v-3zM368,741v4h1v-4zM369,570v3h1v-3zM370,680v3h1v-3zM411,421v24h1v-24zM412,412v9h1v-9zM412,445v8h1v-8zM413,406v6h1v-6zM413,453v6h1v-6zM414,402v4h1v-4zM414,459v5h1v-5zM415,397v5h1v-5zM415,464v4h1v-4zM416,394v3h1v-3zM416,468v4h1v-4zM417,391v3h1v-3zM417,472v3h1v-3zM418,387v4h1v-4zM418,475v3h1v-3zM419,384v3h1v-3zM419,475v8h1v-8zM420,481v4h1v-4zM421,379v3h1v-3zM421,484v3h1v-3zM422,486v3h1v-3zM424,372v3h1v-3zM428,364v3h1v-3zM435,827v3h1v-3zM436,475v7h1v-7zM438,834v3h1v-3zM476,460v9h1v-9zM499,460v7h1v-7zM499,613v3h1v-3zM500,724v3h1v-3zM501,618v3h1v-3zM502,719v3h1v-3zM503,623v3h1v-3zM503,716v3h1v-3zM504,626v3h1v-3zM504,713v3h1v-3zM505,629v4h1v-4zM505,710v3h1v-3zM506,633v3h1v-3zM506,706v4h1v-4zM507,636v5h1v-5zM507,702v4h1v-4zM508,641v5h1v-5zM508,697v5h1v-5zM509,646v6h1v-6zM509,690v7h1v-7zM510,652v10h1v-10zM510,681v9h1v-9zM511,662v19h1v-19zM587,464v3h1v-3zM591,586v3h1v-3zM593,477v3h1v-3zM593,581v3h1v-3zM594,480v3h1v-3zM595,483v3h1v-3zM595,576v3h1v-3zM596,486v3h1v-3zM596,573v3h1v-3zM597,489v3h1v-3zM597,569v4h1v-4zM598,492v4h1v-4zM598,565v4h1v-4zM599,496v4h1v-4zM599,561v4h1v-4zM600,500v5h1v-5zM600,556v5h1v-5zM601,505v7h1v-7zM601,550v6h1v-6zM602,512v9h1v-9zM602,540v10h1v-10zM603,521v19h1v-19zM629,566v3h1v-3zM630,678v3h1v-3zM631,571v3h1v-3zM632,673v3h1v-3zM633,576v3h1v-3zM633,670v3h1v-3zM634,579v3h1v-3zM634,667v3h1v-3zM635,582v3h1v-3zM635,664v3h1v-3zM636,585v4h1v-4zM636,660v4h1v-4zM637,589v4h1v-4zM637,656v4h1v-4zM638,593v5h1v-5zM638,651v5h1v-5zM639,598v6h1v-6zM639,645v6h1v-6zM640,604v9h1v-9zM640,637v8h1v-8zM641,613v24h1v-24zM679,368v3h1v-3zM682,487v3h1v-3zM684,379v3h1v-3zM684,482v3h1v-3zM685,382v3h1v-3zM685,479v3h1v-3zM686,385v3h1v-3zM686,476v3h1v-3zM687,388v3h1v-3zM687,473v3h1v-3zM688,391v3h1v-3zM688,470v3h1v-3zM689,394v4h1v-4zM689,466v4h1v-4zM690,398v5h1v-5zM690,462v4h1v-4zM691,403v5h1v-5zM691,456v6h1v-6zM692,408v7h1v-7zM692,450v6h1v-6zM693,415v12h1v-12zM693,437v13h1v-13zM694,427v10h1v-10zM337,159h1v1h-1zM338,160h1v1h-1zM339,161h1v1h-1zM340,162h1v1h-1zM341,163h1v1h-1zM342,164h1v1h-1zM343,165h1v1h-1zM344,166h1v1h-1zM345,167h1v1h-1zM346,168h1v1h-1zM347,169h1v1h-1zM348,170h1v1h-1zM349,171h1v1h-1zM350,172h1v1h-1zM350,173h1v1h-1zM351,174h1v1h-1zM351,175h1v1h-1zM352,176h1v1h-1zM352,177h1v1h-1zM358,200h1v1h-1zM358,201h1v1h-1zM359,202h1v1h-1zM360,203h1v1h-1zM360,204h1v1h-1zM361,205h1v1h-1zM361,206h1v1h-1zM362,207h1v1h-1zM362,208h1v1h-1zM363,209h1v1h-1zM365,213h1v1h-1zM365,214h1v1h-1zM364,226h1v1h-1zM363,227h1v1h-1zM362,228h1v1h-1zM361,229h1v1h-1zM360,230h1v1h-1zM358,231h2v1h-2zM357,232h1v1h-1zM355,233h2v1h-2zM354,234h1v1h-1zM353,235h1v1h-1zM351,236h2v1h-2zM349,237h2v1h-2zM347,238h2v1h-2zM346,239h1v1h-1zM344,240h2v1h-2zM343,241h1v1h-1zM342,242h1v1h-1zM341,243h1v1h-1zM340,244h1v1h-1zM339,245h1v1h-1zM338,246h1v1h-1zM337,247h1v1h-1zM336,248h1v1h-1zM336,249h1v1h-1zM335,250h1v1h-1zM335,251h1v1h-1zM334,252h1v1h-1zM333,253h1v1h-1zM333,254h1v1h-1zM332,255h1v1h-1zM331,256h1v1h-1zM331,257h1v1h-1zM330,258h1v1h-1zM329,259h1v1h-1zM328,260h1v1h-1zM327,261h1v1h-1zM326,262h1v1h-1zM325,263h1v1h-1zM324,264h1v1h-1zM323,265h1v1h-1zM322,266h1v1h-1zM321,267h1v1h-1zM319,268h2v1h-2zM317,269h2v1h-2zM315,270h2v1h-2zM313,271h2v1h-2zM311,272h2v1h-2zM308,273h3v1h-3zM304,274h4v1h-4zM301,275h3v1h-3zM298,276h3v1h-3zM296,277h2v1h-2zM293,278h3v1h-3zM291,279h2v1h-2zM289,280h2v1h-2zM287,281h2v1h-2zM285,282h2v1h-2zM283,283h2v1h-2zM282,284h1v1h-1zM281,285h1v1h-1zM279,286h2v1h-2zM278,287h1v1h-1zM277,288h1v1h-1zM276,289h1v1h-1zM274,290h2v1h-2zM545,290h15v1h-15zM273,291h1v1h-1zM534,291h11v1h-11zM560,291h11v1h-11zM272,292h1v1h-1zM528,292h6v1h-6zM571,292h6v1h-6zM271,293h1v1h-1zM523,293h5v1h-5zM577,293h5v1h-5zM270,294h1v1h-1zM518,294h5v1h-5zM582,294h4v1h-4zM269,295h1v1h-1zM514,295h4v1h-4zM586,295h4v1h-4zM268,296h1v1h-1zM511,296h3v1h-3zM590,296h4v1h-4zM267,297h1v1h-1zM508,297h3v1h-3zM594,297h3v1h-3zM266,298h1v1h-1zM505,298h3v1h-3zM597,298h3v1h-3zM265,299h1v1h-1zM502,299h3v1h-3zM600,299h2v1h-2zM264,300h1v1h-1zM500,300h2v1h-2zM602,300h3v1h-3zM263,301h1v1h-1zM497,301h3v1h-3zM605,301h2v1h-2zM262,302h1v1h-1zM495,302h2v1h-2zM607,302h3v1h-3zM261,303h1v1h-1zM493,303h2v1h-2zM610,303h2v1h-2zM260,304h1v1h-1zM491,304h2v1h-2zM612,304h2v1h-2zM259,305h1v1h-1zM489,305h2v1h-2zM614,305h2v1h-2zM258,306h1v1h-1zM487,306h2v1h-2zM616,306h2v1h-2zM256,307h2v1h-2zM485,307h2v1h-2zM618,307h2v1h-2zM255,308h1v1h-1zM483,308h2v1h-2zM620,308h2v1h-2zM254,309h1v1h-1zM481,309h2v1h-2zM622,309h1v1h-1zM253,310h1v1h-1zM480,310h1v1h-1zM623,310h2v1h-2zM251,311h2v1h-2zM478,311h2v1h-2zM625,311h2v1h-2zM249,312h2v1h-2zM476,312h2v1h-2zM627,312h1v1h-1zM248,313h1v1h-1zM475,313h1v1h-1zM628,313h2v1h-2zM246,314h2v1h-2zM473,314h2v1h-2zM630,314h1v1h-1zM244,315h2v1h-2zM472,315h1v1h-1zM631,315h2v1h-2zM242,316h2v1h-2zM471,316h1v1h-1zM633,316h1v1h-1zM241,317h1v1h-1zM469,317h2v1h-2zM634,317h2v1h-2zM238,318h3v1h-3zM468,318h1v1h-1zM636,318h1v1h-1zM236,319h2v1h-2zM466,319h2v1h-2zM637,319h1v1h-1zM233,320h3v1h-3zM465,320h1v1h-1zM638,320h2v1h-2zM231,321h2v1h-2zM464,321h1v1h-1zM640,321h1v1h-1zM228,322h3v1h-3zM463,322h1v1h-1zM641,322h1v1h-1zM225,323h3v1h-3zM462,323h1v1h-1zM642,323h1v1h-1zM223,324h2v1h-2zM461,324h1v1h-1zM643,324h1v1h-1zM221,325h2v1h-2zM460,325h1v1h-1zM644,325h2v1h-2zM218,326h3v1h-3zM459,326h1v1h-1zM646,326h1v1h-1zM215,327h3v1h-3zM458,327h1v1h-1zM647,327h1v1h-1zM213,328h2v1h-2zM457,328h1v1h-1zM648,328h1v1h-1zM210,329h3v1h-3zM456,329h1v1h-1zM649,329h1v1h-1zM208,330h2v1h-2zM455,330h1v1h-1zM650,330h1v1h-1zM205,331h3v1h-3zM454,331h1v1h-1zM651,331h1v1h-1zM203,332h2v1h-2zM453,332h1v1h-1zM652,332h1v1h-1zM201,333h2v1h-2zM452,333h1v1h-1zM653,333h1v1h-1zM198,334h3v1h-3zM451,334h1v1h-1zM654,334h1v1h-1zM196,335h2v1h-2zM450,335h1v1h-1zM655,335h1v1h-1zM193,336h3v1h-3zM449,336h1v1h-1zM656,336h1v1h-1zM192,337h1v1h-1zM448,337h1v1h-1zM657,337h1v1h-1zM191,338h1v1h-1zM447,338h1v1h-1zM658,338h1v1h-1zM189,339h2v1h-2zM446,339h1v1h-1zM659,339h1v1h-1zM188,340h1v1h-1zM445,340h1v1h-1zM660,340h1v1h-1zM187,341h1v1h-1zM444,341h1v1h-1zM661,341h1v1h-1zM186,342h1v1h-1zM443,342h1v1h-1zM662,342h1v1h-1zM185,343h1v1h-1zM443,343h1v1h-1zM663,343h1v1h-1zM184,344h1v1h-1zM442,344h1v1h-1zM663,344h1v1h-1zM183,345h1v1h-1zM441,345h1v1h-1zM664,345h1v1h-1zM182,346h1v1h-1zM440,346h1v1h-1zM665,346h1v1h-1zM181,347h1v1h-1zM439,347h1v1h-1zM666,347h1v1h-1zM181,348h1v1h-1zM439,348h1v1h-1zM666,348h1v1h-1zM438,349h1v1h-1zM667,349h1v1h-1zM437,350h1v1h-1zM668,350h1v1h-1zM437,351h1v1h-1zM668,351h1v1h-1zM436,352h1v1h-1zM669,352h1v1h-1zM435,353h1v1h-1zM670,353h1v1h-1zM435,354h1v1h-1zM670,354h1v1h-1zM434,355h1v1h-1zM671,355h1v1h-1zM433,356h1v1h-1zM672,356h1v1h-1zM433,357h1v1h-1zM672,357h1v1h-1zM432,358h1v1h-1zM673,358h1v1h-1zM431,359h1v1h-1zM674,359h1v1h-1zM431,360h1v1h-1zM674,360h1v1h-1zM430,361h1v1h-1zM675,361h1v1h-1zM430,362h1v1h-1zM675,362h1v1h-1zM429,363h1v1h-1zM676,363h1v1h-1zM676,364h1v1h-1zM677,365h1v1h-1zM678,366h1v1h-1zM427,367h1v1h-1zM678,367h1v1h-1zM426,368h1v1h-1zM426,369h1v1h-1zM425,370h1v1h-1zM425,371h1v1h-1zM680,371h1v1h-1zM680,372h1v1h-1zM681,373h1v1h-1zM681,374h1v1h-1zM423,375h1v1h-1zM682,375h1v1h-1zM423,376h1v1h-1zM682,376h1v1h-1zM422,377h1v1h-1zM683,377h1v1h-1zM422,378h1v1h-1zM683,378h1v1h-1zM420,382h1v1h-1zM420,383h1v1h-1zM447,389h29v1h-29zM440,390h7v1h-7zM476,390h7v1h-7zM434,391h6v1h-6zM483,391h6v1h-6zM430,392h4v1h-4zM489,392h5v1h-5zM426,393h4v1h-4zM494,393h4v1h-4zM422,394h4v1h-4zM498,394h3v1h-3zM419,395h3v1h-3zM501,395h3v1h-3zM417,396h2v1h-2zM504,396h4v1h-4zM413,397h2v1h-2zM508,397h2v1h-2zM410,398h3v1h-3zM510,398h3v1h-3zM408,399h2v1h-2zM513,399h2v1h-2zM405,400h3v1h-3zM515,400h3v1h-3zM403,401h2v1h-2zM518,401h2v1h-2zM401,402h2v1h-2zM520,402h2v1h-2zM399,403h2v1h-2zM522,403h2v1h-2zM397,404h2v1h-2zM524,404h2v1h-2zM395,405h2v1h-2zM526,405h2v1h-2zM393,406h2v1h-2zM528,406h2v1h-2zM392,407h1v1h-1zM530,407h2v1h-2zM390,408h2v1h-2zM532,408h1v1h-1zM388,409h2v1h-2zM533,409h2v1h-2zM386,410h2v1h-2zM535,410h2v1h-2zM385,411h1v1h-1zM537,411h1v1h-1zM383,412h2v1h-2zM538,412h2v1h-2zM382,413h1v1h-1zM540,413h1v1h-1zM381,414h1v1h-1zM541,414h2v1h-2zM379,415h2v1h-2zM543,415h1v1h-1zM378,416h1v1h-1zM544,416h1v1h-1zM376,417h2v1h-2zM545,417h2v1h-2zM375,418h1v1h-1zM547,418h1v1h-1zM374,419h1v1h-1zM548,419h1v1h-1zM373,420h1v1h-1zM549,420h2v1h-2zM371,421h2v1h-2zM551,421h1v1h-1zM370,422h1v1h-1zM552,422h1v1h-1zM369,423h1v1h-1zM553,423h1v1h-1zM368,424h1v1h-1zM554,424h1v1h-1zM367,425h1v1h-1zM555,425h2v1h-2zM366,426h1v1h-1zM557,426h1v1h-1zM365,427h1v1h-1zM558,427h1v1h-1zM364,428h1v1h-1zM559,428h1v1h-1zM363,429h1v1h-1zM560,429h1v1h-1zM362,430h1v1h-1zM561,430h1v1h-1zM361,431h1v1h-1zM562,431h1v1h-1zM360,432h1v1h-1zM563,432h1v1h-1zM359,433h1v1h-1zM564,433h1v1h-1zM358,434h1v1h-1zM565,434h1v1h-1zM357,435h1v1h-1zM566,435h1v1h-1zM357,436h1v1h-1zM567,436h1v1h-1zM356,437h1v1h-1zM568,437h1v1h-1zM355,438h1v1h-1zM569,438h1v1h-1zM354,439h1v1h-1zM570,439h1v1h-1zM353,440h1v1h-1zM570,440h1v1h-1zM352,441h1v1h-1zM571,441h1v1h-1zM351,442h1v1h-1zM572,442h1v1h-1zM351,443h1v1h-1zM573,443h1v1h-1zM350,444h1v1h-1zM574,444h1v1h-1zM349,445h1v1h-1zM574,445h1v1h-1zM348,446h1v1h-1zM575,446h1v1h-1zM348,447h1v1h-1zM576,447h1v1h-1zM347,448h1v1h-1zM577,448h1v1h-1zM346,449h1v1h-1zM577,449h1v1h-1zM345,450h1v1h-1zM578,450h1v1h-1zM345,451h1v1h-1zM579,451h1v1h-1zM344,452h1v1h-1zM579,452h1v1h-1zM343,453h1v1h-1zM483,453h9v1h-9zM580,453h1v1h-1zM343,454h1v1h-1zM481,454h2v1h-2zM492,454h2v1h-2zM581,454h1v1h-1zM342,455h1v1h-1zM480,455h1v1h-1zM494,455h1v1h-1zM581,455h1v1h-1zM342,456h1v1h-1zM479,456h1v1h-1zM495,456h1v1h-1zM582,456h1v1h-1zM341,457h1v1h-1zM478,457h1v1h-1zM496,457h1v1h-1zM583,457h1v1h-1zM340,458h1v1h-1zM477,458h1v1h-1zM497,458h1v1h-1zM583,458h1v1h-1zM340,459h1v1h-1zM477,459h1v1h-1zM498,459h1v1h-1zM584,459h1v1h-1zM339,460h1v1h-1zM584,460h1v1h-1zM339,461h1v1h-1zM585,461h1v1h-1zM338,462h1v1h-1zM585,462h1v1h-1zM337,463h1v1h-1zM586,463h1v1h-1zM337,464h1v1h-1zM336,465h1v1h-1zM336,466h1v1h-1zM335,467h1v1h-1zM498,467h1v1h-1zM588,467h1v1h-1zM335,468h1v1h-1zM498,468h1v1h-1zM588,468h1v1h-1zM334,469h1v1h-1zM425,469h5v1h-5zM477,469h1v1h-1zM497,469h1v1h-1zM589,469h1v1h-1zM334,470h1v1h-1zM423,470h2v1h-2zM430,470h2v1h-2zM478,470h1v1h-1zM496,470h1v1h-1zM589,470h1v1h-1zM333,471h1v1h-1zM422,471h1v1h-1zM432,471h1v1h-1zM479,471h1v1h-1zM495,471h1v1h-1zM590,471h1v1h-1zM333,472h1v1h-1zM421,472h1v1h-1zM433,472h1v1h-1zM480,472h1v1h-1zM494,472h1v1h-1zM590,472h1v1h-1zM421,473h1v1h-1zM434,473h1v1h-1zM481,473h2v1h-2zM493,473h1v1h-1zM591,473h1v1h-1zM420,474h1v1h-1zM435,474h1v1h-1zM483,474h10v1h-10zM591,474h1v1h-1zM592,475h1v1h-1zM331,476h1v1h-1zM592,476h1v1h-1zM331,477h1v1h-1zM329,481h1v1h-1zM329,482h1v1h-1zM435,482h1v1h-1zM435,483h1v1h-1zM486,483h28v1h-28zM434,484h1v1h-1zM478,484h8v1h-8zM514,484h8v1h-8zM433,485h1v1h-1zM472,485h6v1h-6zM522,485h5v1h-5zM683,485h1v1h-1zM423,486h1v1h-1zM432,486h1v1h-1zM468,486h4v1h-4zM527,486h5v1h-5zM683,486h1v1h-1zM424,487h1v1h-1zM431,487h1v1h-1zM464,487h4v1h-4zM532,487h4v1h-4zM425,488h6v1h-6zM460,488h4v1h-4zM536,488h4v1h-4zM423,489h1v1h-1zM457,489h3v1h-3zM540,489h3v1h-3zM423,490h1v1h-1zM454,490h3v1h-3zM543,490h3v1h-3zM681,490h1v1h-1zM424,491h1v1h-1zM451,491h3v1h-3zM546,491h2v1h-2zM681,491h1v1h-1zM424,492h1v1h-1zM449,492h2v1h-2zM548,492h3v1h-3zM680,492h1v1h-1zM425,493h1v1h-1zM446,493h3v1h-3zM551,493h3v1h-3zM680,493h1v1h-1zM425,494h1v1h-1zM444,494h2v1h-2zM554,494h2v1h-2zM679,494h1v1h-1zM426,495h1v1h-1zM441,495h3v1h-3zM556,495h2v1h-2zM679,495h1v1h-1zM426,496h1v1h-1zM439,496h2v1h-2zM558,496h2v1h-2zM678,496h1v1h-1zM427,497h1v1h-1zM437,497h2v1h-2zM560,497h2v1h-2zM678,497h1v1h-1zM427,498h1v1h-1zM435,498h2v1h-2zM562,498h3v1h-3zM677,498h1v1h-1zM428,499h1v1h-1zM433,499h2v1h-2zM565,499h1v1h-1zM677,499h1v1h-1zM428,500h1v1h-1zM431,500h2v1h-2zM566,500h2v1h-2zM676,500h1v1h-1zM429,501h2v1h-2zM568,501h2v1h-2zM675,501h1v1h-1zM428,502h2v1h-2zM570,502h2v1h-2zM675,502h1v1h-1zM181,503h1v1h-1zM426,503h2v1h-2zM430,503h1v1h-1zM572,503h1v1h-1zM674,503h1v1h-1zM182,504h1v1h-1zM425,504h1v1h-1zM430,504h1v1h-1zM573,504h2v1h-2zM674,504h1v1h-1zM182,505h1v1h-1zM423,505h2v1h-2zM431,505h1v1h-1zM575,505h1v1h-1zM673,505h1v1h-1zM421,506h2v1h-2zM432,506h1v1h-1zM576,506h2v1h-2zM673,506h1v1h-1zM420,507h1v1h-1zM432,507h1v1h-1zM578,507h2v1h-2zM672,507h1v1h-1zM419,508h1v1h-1zM433,508h1v1h-1zM580,508h1v1h-1zM671,508h1v1h-1zM184,509h1v1h-1zM417,509h2v1h-2zM433,509h1v1h-1zM581,509h1v1h-1zM671,509h1v1h-1zM184,510h1v1h-1zM416,510h1v1h-1zM434,510h1v1h-1zM582,510h2v1h-2zM670,510h1v1h-1zM185,511h1v1h-1zM415,511h1v1h-1zM435,511h1v1h-1zM584,511h1v1h-1zM669,511h1v1h-1zM185,512h1v1h-1zM413,512h2v1h-2zM435,512h1v1h-1zM585,512h1v1h-1zM669,512h1v1h-1zM186,513h1v1h-1zM412,513h1v1h-1zM436,513h1v1h-1zM586,513h2v1h-2zM668,513h1v1h-1zM186,514h1v1h-1zM411,514h1v1h-1zM437,514h1v1h-1zM588,514h1v1h-1zM667,514h1v1h-1zM187,515h1v1h-1zM410,515h1v1h-1zM437,515h1v1h-1zM589,515h1v1h-1zM667,515h1v1h-1zM188,516h1v1h-1zM408,516h2v1h-2zM438,516h1v1h-1zM590,516h1v1h-1zM666,516h1v1h-1zM188,517h1v1h-1zM407,517h1v1h-1zM439,517h1v1h-1zM591,517h1v1h-1zM665,517h1v1h-1zM189,518h1v1h-1zM406,518h1v1h-1zM440,518h1v1h-1zM592,518h2v1h-2zM664,518h1v1h-1zM189,519h1v1h-1zM405,519h1v1h-1zM441,519h1v1h-1zM594,519h1v1h-1zM664,519h1v1h-1zM190,520h1v1h-1zM404,520h1v1h-1zM441,520h1v1h-1zM595,520h1v1h-1zM663,520h1v1h-1zM191,521h1v1h-1zM403,521h1v1h-1zM442,521h1v1h-1zM596,521h1v1h-1zM662,521h1v1h-1zM191,522h1v1h-1zM402,522h1v1h-1zM443,522h1v1h-1zM597,522h1v1h-1zM661,522h1v1h-1zM192,523h1v1h-1zM401,523h1v1h-1zM444,523h1v1h-1zM598,523h1v1h-1zM660,523h1v1h-1zM193,524h1v1h-1zM400,524h1v1h-1zM445,524h1v1h-1zM599,524h1v1h-1zM660,524h1v1h-1zM194,525h1v1h-1zM399,525h1v1h-1zM446,525h1v1h-1zM600,525h1v1h-1zM659,525h1v1h-1zM195,526h1v1h-1zM399,526h1v1h-1zM447,526h1v1h-1zM601,526h1v1h-1zM658,526h1v1h-1zM196,527h1v1h-1zM398,527h1v1h-1zM448,527h1v1h-1zM602,527h1v1h-1zM657,527h1v1h-1zM197,528h1v1h-1zM397,528h1v1h-1zM449,528h1v1h-1zM656,528h1v1h-1zM197,529h1v1h-1zM364,529h11v1h-11zM396,529h1v1h-1zM450,529h1v1h-1zM604,529h1v1h-1zM655,529h1v1h-1zM198,530h1v1h-1zM352,530h12v1h-12zM375,530h12v1h-12zM395,530h1v1h-1zM451,530h1v1h-1zM605,530h1v1h-1zM654,530h1v1h-1zM199,531h1v1h-1zM345,531h7v1h-7zM387,531h8v1h-8zM452,531h1v1h-1zM606,531h1v1h-1zM653,531h1v1h-1zM200,532h1v1h-1zM340,532h5v1h-5zM393,532h6v1h-6zM453,532h1v1h-1zM607,532h1v1h-1zM652,532h1v1h-1zM201,533h1v1h-1zM336,533h4v1h-4zM392,533h1v1h-1zM399,533h4v1h-4zM454,533h1v1h-1zM608,533h1v1h-1zM651,533h1v1h-1zM201,534h1v1h-1zM332,534h4v1h-4zM391,534h1v1h-1zM403,534h4v1h-4zM455,534h1v1h-1zM609,534h1v1h-1zM650,534h1v1h-1zM202,535h1v1h-1zM329,535h3v1h-3zM390,535h1v1h-1zM407,535h4v1h-4zM456,535h1v1h-1zM610,535h1v1h-1zM649,535h1v1h-1zM203,536h1v1h-1zM326,536h3v1h-3zM390,536h1v1h-1zM411,536h3v1h-3zM457,536h1v1h-1zM610,536h1v1h-1zM648,536h1v1h-1zM204,537h1v1h-1zM323,537h3v1h-3zM389,537h1v1h-1zM414,537h3v1h-3zM458,537h1v1h-1zM611,537h1v1h-1zM647,537h1v1h-1zM205,538h1v1h-1zM321,538h2v1h-2zM388,538h1v1h-1zM417,538h2v1h-2zM459,538h1v1h-1zM612,538h1v1h-1zM646,538h1v1h-1zM205,539h1v1h-1zM317,539h3v1h-3zM387,539h1v1h-1zM419,539h3v1h-3zM460,539h1v1h-1zM613,539h1v1h-1zM645,539h1v1h-1zM206,540h1v1h-1zM315,540h2v1h-2zM386,540h1v1h-1zM422,540h2v1h-2zM461,540h1v1h-1zM613,540h1v1h-1zM644,540h1v1h-1zM207,541h1v1h-1zM312,541h3v1h-3zM386,541h1v1h-1zM424,541h3v1h-3zM462,541h1v1h-1zM614,541h1v1h-1zM643,541h1v1h-1zM207,542h1v1h-1zM310,542h2v1h-2zM385,542h1v1h-1zM427,542h2v1h-2zM463,542h2v1h-2zM615,542h1v1h-1zM642,542h1v1h-1zM208,543h1v1h-1zM308,543h2v1h-2zM384,543h1v1h-1zM429,543h2v1h-2zM465,543h1v1h-1zM616,543h1v1h-1zM640,543h2v1h-2zM208,544h1v1h-1zM306,544h2v1h-2zM384,544h1v1h-1zM431,544h2v1h-2zM466,544h1v1h-1zM616,544h1v1h-1zM639,544h1v1h-1zM209,545h1v1h-1zM304,545h2v1h-2zM383,545h1v1h-1zM433,545h2v1h-2zM467,545h2v1h-2zM617,545h1v1h-1zM638,545h1v1h-1zM209,546h1v1h-1zM302,546h2v1h-2zM382,546h1v1h-1zM435,546h2v1h-2zM469,546h1v1h-1zM618,546h1v1h-1zM637,546h1v1h-1zM210,547h1v1h-1zM301,547h1v1h-1zM382,547h1v1h-1zM437,547h2v1h-2zM470,547h1v1h-1zM618,547h1v1h-1zM635,547h2v1h-2zM210,548h1v1h-1zM299,548h2v1h-2zM381,548h1v1h-1zM439,548h1v1h-1zM471,548h2v1h-2zM619,548h1v1h-1zM634,548h1v1h-1zM211,549h1v1h-1zM297,549h2v1h-2zM380,549h1v1h-1zM440,549h2v1h-2zM473,549h1v1h-1zM620,549h1v1h-1zM632,549h2v1h-2zM211,550h1v1h-1zM295,550h2v1h-2zM380,550h1v1h-1zM442,550h2v1h-2zM474,550h2v1h-2zM620,550h1v1h-1zM631,550h1v1h-1zM294,551h1v1h-1zM379,551h1v1h-1zM444,551h1v1h-1zM476,551h1v1h-1zM621,551h1v1h-1zM629,551h2v1h-2zM292,552h2v1h-2zM379,552h1v1h-1zM445,552h2v1h-2zM477,552h2v1h-2zM621,552h1v1h-1zM627,552h2v1h-2zM291,553h1v1h-1zM378,553h1v1h-1zM447,553h1v1h-1zM479,553h1v1h-1zM622,553h1v1h-1zM626,553h1v1h-1zM213,554h1v1h-1zM289,554h2v1h-2zM377,554h1v1h-1zM448,554h2v1h-2zM480,554h2v1h-2zM623,554h3v1h-3zM213,555h1v1h-1zM288,555h1v1h-1zM377,555h1v1h-1zM450,555h1v1h-1zM482,555h2v1h-2zM622,555h2v1h-2zM287,556h1v1h-1zM376,556h1v1h-1zM451,556h2v1h-2zM484,556h2v1h-2zM621,556h1v1h-1zM624,556h1v1h-1zM285,557h2v1h-2zM376,557h1v1h-1zM453,557h1v1h-1zM486,557h2v1h-2zM619,557h2v1h-2zM624,557h1v1h-1zM284,558h1v1h-1zM375,558h1v1h-1zM454,558h1v1h-1zM488,558h2v1h-2zM617,558h2v1h-2zM625,558h1v1h-1zM215,559h1v1h-1zM282,559h2v1h-2zM375,559h1v1h-1zM455,559h2v1h-2zM490,559h1v1h-1zM615,559h2v1h-2zM625,559h1v1h-1zM215,560h1v1h-1zM281,560h1v1h-1zM374,560h1v1h-1zM457,560h1v1h-1zM491,560h3v1h-3zM613,560h2v1h-2zM626,560h1v1h-1zM280,561h1v1h-1zM374,561h1v1h-1zM458,561h1v1h-1zM494,561h2v1h-2zM611,561h2v1h-2zM626,561h1v1h-1zM279,562h1v1h-1zM373,562h1v1h-1zM459,562h1v1h-1zM496,562h2v1h-2zM608,562h3v1h-3zM627,562h1v1h-1zM278,563h1v1h-1zM373,563h1v1h-1zM460,563h2v1h-2zM498,563h2v1h-2zM606,563h2v1h-2zM627,563h1v1h-1zM217,564h1v1h-1zM277,564h1v1h-1zM372,564h1v1h-1zM462,564h1v1h-1zM500,564h3v1h-3zM603,564h3v1h-3zM628,564h1v1h-1zM217,565h1v1h-1zM276,565h1v1h-1zM372,565h1v1h-1zM463,565h1v1h-1zM503,565h3v1h-3zM601,565h2v1h-2zM628,565h1v1h-1zM218,566h1v1h-1zM275,566h1v1h-1zM371,566h1v1h-1zM464,566h1v1h-1zM506,566h3v1h-3zM599,566h2v1h-2zM218,567h1v1h-1zM274,567h1v1h-1zM371,567h1v1h-1zM465,567h1v1h-1zM509,567h3v1h-3zM595,567h3v1h-3zM219,568h1v1h-1zM273,568h1v1h-1zM370,568h1v1h-1zM466,568h1v1h-1zM512,568h3v1h-3zM591,568h4v1h-4zM219,569h1v1h-1zM272,569h1v1h-1zM370,569h1v1h-1zM467,569h1v1h-1zM515,569h4v1h-4zM587,569h4v1h-4zM630,569h1v1h-1zM220,570h1v1h-1zM271,570h1v1h-1zM468,570h1v1h-1zM519,570h4v1h-4zM583,570h4v1h-4zM630,570h1v1h-1zM220,571h1v1h-1zM270,571h1v1h-1zM469,571h1v1h-1zM523,571h5v1h-5zM578,571h5v1h-5zM269,572h1v1h-1zM470,572h1v1h-1zM528,572h7v1h-7zM572,572h6v1h-6zM268,573h1v1h-1zM368,573h1v1h-1zM471,573h1v1h-1zM535,573h11v1h-11zM561,573h11v1h-11zM267,574h1v1h-1zM368,574h1v1h-1zM472,574h1v1h-1zM546,574h15v1h-15zM632,574h1v1h-1zM222,575h1v1h-1zM266,575h1v1h-1zM473,575h1v1h-1zM632,575h1v1h-1zM222,576h1v1h-1zM265,576h1v1h-1zM474,576h1v1h-1zM223,577h1v1h-1zM264,577h1v1h-1zM475,577h1v1h-1zM223,578h1v1h-1zM263,578h1v1h-1zM476,578h1v1h-1zM224,579h1v1h-1zM262,579h1v1h-1zM477,579h1v1h-1zM594,579h1v1h-1zM224,580h1v1h-1zM262,580h1v1h-1zM478,580h1v1h-1zM594,580h1v1h-1zM225,581h1v1h-1zM261,581h1v1h-1zM479,581h1v1h-1zM225,582h1v1h-1zM260,582h1v1h-1zM480,582h1v1h-1zM259,583h1v1h-1zM480,583h1v1h-1zM258,584h1v1h-1zM481,584h1v1h-1zM592,584h1v1h-1zM258,585h1v1h-1zM331,585h1v1h-1zM482,585h1v1h-1zM592,585h1v1h-1zM227,586h1v1h-1zM257,586h1v1h-1zM331,586h1v1h-1zM483,586h1v1h-1zM227,587h1v1h-1zM256,587h1v1h-1zM332,587h1v1h-1zM484,587h1v1h-1zM228,588h1v1h-1zM255,588h1v1h-1zM332,588h1v1h-1zM484,588h1v1h-1zM228,589h1v1h-1zM255,589h1v1h-1zM333,589h1v1h-1zM485,589h1v1h-1zM590,589h1v1h-1zM229,590h1v1h-1zM254,590h1v1h-1zM333,590h1v1h-1zM486,590h1v1h-1zM590,590h1v1h-1zM229,591h1v1h-1zM253,591h1v1h-1zM334,591h1v1h-1zM486,591h1v1h-1zM589,591h1v1h-1zM230,592h1v1h-1zM252,592h1v1h-1zM334,592h1v1h-1zM487,592h1v1h-1zM589,592h1v1h-1zM230,593h1v1h-1zM252,593h1v1h-1zM335,593h1v1h-1zM488,593h1v1h-1zM588,593h1v1h-1zM251,594h1v1h-1zM335,594h1v1h-1zM488,594h1v1h-1zM588,594h1v1h-1zM251,595h1v1h-1zM489,595h1v1h-1zM587,595h1v1h-1zM250,596h1v1h-1zM490,596h1v1h-1zM587,596h1v1h-1zM232,597h1v1h-1zM249,597h1v1h-1zM490,597h1v1h-1zM586,597h1v1h-1zM232,598h1v1h-1zM249,598h1v1h-1zM337,598h1v1h-1zM491,598h1v1h-1zM586,598h1v1h-1zM233,599h1v1h-1zM248,599h1v1h-1zM338,599h1v1h-1zM491,599h1v1h-1zM585,599h1v1h-1zM233,600h1v1h-1zM247,600h1v1h-1zM338,600h1v1h-1zM492,600h1v1h-1zM584,600h1v1h-1zM234,601h1v1h-1zM247,601h1v1h-1zM339,601h1v1h-1zM493,601h1v1h-1zM584,601h1v1h-1zM234,602h1v1h-1zM246,602h1v1h-1zM339,602h1v1h-1zM493,602h1v1h-1zM583,602h1v1h-1zM235,603h1v1h-1zM246,603h1v1h-1zM340,603h1v1h-1zM494,603h1v1h-1zM583,603h1v1h-1zM235,604h1v1h-1zM245,604h1v1h-1zM340,604h1v1h-1zM494,604h1v1h-1zM582,604h1v1h-1zM245,605h1v1h-1zM341,605h1v1h-1zM495,605h1v1h-1zM581,605h1v1h-1zM244,606h1v1h-1zM342,606h1v1h-1zM495,606h1v1h-1zM581,606h1v1h-1zM244,607h1v1h-1zM342,607h1v1h-1zM496,607h1v1h-1zM580,607h1v1h-1zM237,608h1v1h-1zM243,608h1v1h-1zM343,608h1v1h-1zM496,608h1v1h-1zM580,608h1v1h-1zM237,609h1v1h-1zM243,609h1v1h-1zM344,609h1v1h-1zM497,609h1v1h-1zM579,609h1v1h-1zM238,610h1v1h-1zM242,610h1v1h-1zM344,610h1v1h-1zM497,610h1v1h-1zM578,610h1v1h-1zM239,611h1v1h-1zM242,611h1v1h-1zM345,611h1v1h-1zM498,611h1v1h-1zM578,611h1v1h-1zM239,612h1v1h-1zM241,612h1v1h-1zM346,612h1v1h-1zM498,612h1v1h-1zM577,612h1v1h-1zM241,613h1v1h-1zM346,613h1v1h-1zM576,613h1v1h-1zM347,614h1v1h-1zM575,614h1v1h-1zM241,615h1v1h-1zM348,615h1v1h-1zM575,615h1v1h-1zM242,616h1v1h-1zM348,616h1v1h-1zM500,616h1v1h-1zM574,616h1v1h-1zM243,617h1v1h-1zM349,617h1v1h-1zM500,617h1v1h-1zM573,617h1v1h-1zM243,618h1v1h-1zM350,618h1v1h-1zM572,618h1v1h-1zM238,619h1v1h-1zM244,619h1v1h-1zM351,619h1v1h-1zM572,619h1v1h-1zM238,620h1v1h-1zM245,620h1v1h-1zM352,620h1v1h-1zM571,620h1v1h-1zM246,621h1v1h-1zM352,621h1v1h-1zM502,621h1v1h-1zM570,621h1v1h-1zM247,622h1v1h-1zM353,622h1v1h-1zM502,622h1v1h-1zM569,622h1v1h-1zM248,623h1v1h-1zM354,623h1v1h-1zM568,623h1v1h-1zM249,624h1v1h-1zM355,624h1v1h-1zM567,624h1v1h-1zM250,625h1v1h-1zM356,625h1v1h-1zM566,625h1v1h-1zM251,626h1v1h-1zM357,626h1v1h-1zM565,626h1v1h-1zM252,627h1v1h-1zM565,627h1v1h-1zM253,628h1v1h-1zM359,628h1v1h-1zM564,628h1v1h-1zM254,629h1v1h-1zM360,629h1v1h-1zM563,629h1v1h-1zM255,630h1v1h-1zM361,630h1v1h-1zM562,630h1v1h-1zM256,631h1v1h-1zM362,631h1v1h-1zM561,631h1v1h-1zM257,632h1v1h-1zM363,632h1v1h-1zM560,632h1v1h-1zM258,633h1v1h-1zM364,633h1v1h-1zM559,633h1v1h-1zM259,634h1v1h-1zM365,634h1v1h-1zM558,634h1v1h-1zM260,635h1v1h-1zM366,635h2v1h-2zM557,635h1v1h-1zM261,636h1v1h-1zM368,636h1v1h-1zM556,636h1v1h-1zM262,637h1v1h-1zM369,637h1v1h-1zM555,637h1v1h-1zM263,638h1v1h-1zM370,638h1v1h-1zM554,638h1v1h-1zM264,639h1v1h-1zM371,639h1v1h-1zM553,639h1v1h-1zM265,640h1v1h-1zM372,640h1v1h-1zM552,640h1v1h-1zM266,641h1v1h-1zM373,641h2v1h-2zM550,641h2v1h-2zM267,642h1v1h-1zM375,642h1v1h-1zM549,642h1v1h-1zM268,643h1v1h-1zM376,643h1v1h-1zM548,643h1v1h-1zM269,644h1v1h-1zM377,644h1v1h-1zM546,644h2v1h-2zM270,645h1v1h-1zM378,645h2v1h-2zM545,645h1v1h-1zM271,646h1v1h-1zM380,646h1v1h-1zM544,646h1v1h-1zM272,647h1v1h-1zM381,647h2v1h-2zM542,647h2v1h-2zM273,648h1v1h-1zM383,648h1v1h-1zM541,648h1v1h-1zM273,649h1v1h-1zM384,649h2v1h-2zM539,649h2v1h-2zM274,650h1v1h-1zM386,650h1v1h-1zM538,650h1v1h-1zM275,651h1v1h-1zM387,651h2v1h-2zM536,651h2v1h-2zM275,652h1v1h-1zM389,652h2v1h-2zM534,652h2v1h-2zM276,653h1v1h-1zM391,653h1v1h-1zM532,653h2v1h-2zM277,654h1v1h-1zM392,654h2v1h-2zM531,654h1v1h-1zM277,655h1v1h-1zM394,655h2v1h-2zM529,655h2v1h-2zM278,656h1v1h-1zM396,656h2v1h-2zM527,656h2v1h-2zM278,657h1v1h-1zM398,657h2v1h-2zM525,657h2v1h-2zM279,658h1v1h-1zM400,658h2v1h-2zM523,658h2v1h-2zM279,659h1v1h-1zM402,659h2v1h-2zM521,659h2v1h-2zM404,660h2v1h-2zM519,660h2v1h-2zM406,661h3v1h-3zM516,661h3v1h-3zM409,662h2v1h-2zM514,662h2v1h-2zM411,663h3v1h-3zM512,663h2v1h-2zM414,664h2v1h-2zM508,664h3v1h-3zM416,665h4v1h-4zM505,665h3v1h-3zM420,666h3v1h-3zM502,666h3v1h-3zM423,667h3v1h-3zM498,667h4v1h-4zM426,668h4v1h-4zM494,668h4v1h-4zM430,669h5v1h-5zM490,669h4v1h-4zM435,670h5v1h-5zM484,670h6v1h-6zM440,671h8v1h-8zM476,671h8v1h-8zM448,672h28v1h-28zM367,673h1v1h-1zM367,674h1v1h-1zM631,676h1v1h-1zM631,677h1v1h-1zM369,678h1v1h-1zM369,679h1v1h-1zM629,681h1v1h-1zM285,682h1v1h-1zM629,682h1v1h-1zM285,683h1v1h-1zM371,683h1v1h-1zM628,683h1v1h-1zM286,684h1v1h-1zM371,684h1v1h-1zM628,684h1v1h-1zM286,685h1v1h-1zM372,685h1v1h-1zM627,685h1v1h-1zM287,686h1v1h-1zM372,686h1v1h-1zM627,686h1v1h-1zM288,687h1v1h-1zM373,687h1v1h-1zM626,687h1v1h-1zM288,688h1v1h-1zM373,688h1v1h-1zM626,688h1v1h-1zM289,689h1v1h-1zM374,689h1v1h-1zM625,689h1v1h-1zM290,690h1v1h-1zM374,690h1v1h-1zM625,690h1v1h-1zM291,691h1v1h-1zM375,691h1v1h-1zM624,691h1v1h-1zM292,692h1v1h-1zM375,692h1v1h-1zM624,692h1v1h-1zM293,693h1v1h-1zM376,693h1v1h-1zM623,693h1v1h-1zM294,694h1v1h-1zM376,694h1v1h-1zM623,694h1v1h-1zM295,695h1v1h-1zM377,695h1v1h-1zM622,695h1v1h-1zM296,696h2v1h-2zM378,696h1v1h-1zM621,696h1v1h-1zM298,697h2v1h-2zM378,697h1v1h-1zM621,697h1v1h-1zM300,698h3v1h-3zM379,698h1v1h-1zM620,698h1v1h-1zM303,699h2v1h-2zM379,699h1v1h-1zM620,699h1v1h-1zM305,700h3v1h-3zM380,700h1v1h-1zM619,700h1v1h-1zM308,701h2v1h-2zM381,701h1v1h-1zM618,701h1v1h-1zM310,702h2v1h-2zM381,702h1v1h-1zM618,702h1v1h-1zM312,703h1v1h-1zM382,703h1v1h-1zM617,703h1v1h-1zM313,704h2v1h-2zM383,704h1v1h-1zM616,704h1v1h-1zM315,705h2v1h-2zM383,705h1v1h-1zM616,705h1v1h-1zM317,706h2v1h-2zM384,706h1v1h-1zM615,706h1v1h-1zM319,707h2v1h-2zM385,707h1v1h-1zM614,707h1v1h-1zM321,708h2v1h-2zM385,708h1v1h-1zM614,708h1v1h-1zM323,709h2v1h-2zM386,709h1v1h-1zM613,709h1v1h-1zM325,710h2v1h-2zM387,710h1v1h-1zM612,710h1v1h-1zM327,711h2v1h-2zM388,711h1v1h-1zM611,711h1v1h-1zM329,712h1v1h-1zM388,712h1v1h-1zM611,712h1v1h-1zM330,713h3v1h-3zM389,713h1v1h-1zM610,713h1v1h-1zM333,714h2v1h-2zM390,714h1v1h-1zM609,714h1v1h-1zM335,715h2v1h-2zM391,715h1v1h-1zM608,715h1v1h-1zM337,716h4v1h-4zM345,716h7v1h-7zM391,716h1v1h-1zM607,716h1v1h-1zM341,717h4v1h-4zM352,717h3v1h-3zM392,717h1v1h-1zM606,717h1v1h-1zM355,718h1v1h-1zM393,718h1v1h-1zM606,718h1v1h-1zM356,719h1v1h-1zM394,719h1v1h-1zM605,719h1v1h-1zM357,720h1v1h-1zM395,720h1v1h-1zM604,720h1v1h-1zM358,721h1v1h-1zM396,721h1v1h-1zM603,721h1v1h-1zM359,722h1v1h-1zM397,722h1v1h-1zM501,722h1v1h-1zM602,722h1v1h-1zM238,723h1v1h-1zM360,723h1v1h-1zM398,723h1v1h-1zM501,723h1v1h-1zM601,723h1v1h-1zM238,724h1v1h-1zM361,724h1v1h-1zM399,724h1v1h-1zM600,724h1v1h-1zM362,725h1v1h-1zM400,725h1v1h-1zM599,725h1v1h-1zM362,726h1v1h-1zM401,726h1v1h-1zM598,726h1v1h-1zM402,727h1v1h-1zM499,727h1v1h-1zM597,727h1v1h-1zM240,728h1v1h-1zM403,728h2v1h-2zM499,728h1v1h-1zM596,728h1v1h-1zM240,729h1v1h-1zM405,729h1v1h-1zM498,729h1v1h-1zM595,729h1v1h-1zM241,730h1v1h-1zM364,730h1v1h-1zM406,730h1v1h-1zM498,730h1v1h-1zM594,730h1v1h-1zM241,731h1v1h-1zM364,731h1v1h-1zM407,731h1v1h-1zM497,731h1v1h-1zM593,731h1v1h-1zM242,732h1v1h-1zM365,732h1v1h-1zM408,732h1v1h-1zM497,732h1v1h-1zM592,732h1v1h-1zM242,733h1v1h-1zM365,733h1v1h-1zM409,733h1v1h-1zM496,733h1v1h-1zM591,733h1v1h-1zM243,734h1v1h-1zM410,734h2v1h-2zM496,734h1v1h-1zM590,734h1v1h-1zM243,735h1v1h-1zM412,735h1v1h-1zM495,735h1v1h-1zM588,735h2v1h-2zM244,736h1v1h-1zM413,736h1v1h-1zM495,736h1v1h-1zM587,736h1v1h-1zM244,737h1v1h-1zM414,737h1v1h-1zM494,737h1v1h-1zM586,737h1v1h-1zM245,738h1v1h-1zM415,738h2v1h-2zM494,738h1v1h-1zM584,738h2v1h-2zM245,739h1v1h-1zM417,739h1v1h-1zM493,739h1v1h-1zM583,739h1v1h-1zM246,740h1v1h-1zM418,740h2v1h-2zM493,740h1v1h-1zM582,740h1v1h-1zM246,741h1v1h-1zM420,741h1v1h-1zM492,741h1v1h-1zM580,741h2v1h-2zM247,742h1v1h-1zM421,742h1v1h-1zM492,742h1v1h-1zM579,742h1v1h-1zM247,743h1v1h-1zM422,743h2v1h-2zM491,743h1v1h-1zM577,743h2v1h-2zM248,744h1v1h-1zM424,744h1v1h-1zM490,744h1v1h-1zM576,744h1v1h-1zM249,745h1v1h-1zM369,745h1v1h-1zM425,745h2v1h-2zM490,745h1v1h-1zM574,745h2v1h-2zM249,746h1v1h-1zM369,746h1v1h-1zM427,746h2v1h-2zM489,746h1v1h-1zM572,746h2v1h-2zM250,747h1v1h-1zM370,747h1v1h-1zM429,747h1v1h-1zM489,747h1v1h-1zM571,747h1v1h-1zM251,748h1v1h-1zM370,748h1v1h-1zM430,748h2v1h-2zM488,748h1v1h-1zM569,748h2v1h-2zM251,749h1v1h-1zM371,749h1v1h-1zM432,749h2v1h-2zM487,749h1v1h-1zM567,749h2v1h-2zM252,750h1v1h-1zM371,750h1v1h-1zM434,750h2v1h-2zM487,750h1v1h-1zM565,750h2v1h-2zM253,751h1v1h-1zM372,751h1v1h-1zM436,751h2v1h-2zM486,751h1v1h-1zM563,751h2v1h-2zM253,752h1v1h-1zM372,752h1v1h-1zM438,752h2v1h-2zM485,752h1v1h-1zM561,752h2v1h-2zM254,753h1v1h-1zM373,753h1v1h-1zM440,753h2v1h-2zM485,753h1v1h-1zM559,753h2v1h-2zM255,754h1v1h-1zM373,754h1v1h-1zM442,754h2v1h-2zM484,754h1v1h-1zM557,754h2v1h-2zM255,755h1v1h-1zM374,755h1v1h-1zM444,755h3v1h-3zM483,755h1v1h-1zM554,755h3v1h-3zM256,756h1v1h-1zM375,756h1v1h-1zM447,756h2v1h-2zM482,756h1v1h-1zM552,756h2v1h-2zM257,757h1v1h-1zM375,757h1v1h-1zM449,757h3v1h-3zM482,757h1v1h-1zM549,757h3v1h-3zM258,758h1v1h-1zM376,758h1v1h-1zM452,758h3v1h-3zM481,758h1v1h-1zM547,758h2v1h-2zM258,759h1v1h-1zM377,759h1v1h-1zM455,759h3v1h-3zM480,759h1v1h-1zM543,759h4v1h-4zM259,760h1v1h-1zM378,760h1v1h-1zM458,760h3v1h-3zM479,760h1v1h-1zM540,760h3v1h-3zM260,761h1v1h-1zM379,761h1v1h-1zM461,761h4v1h-4zM478,761h1v1h-1zM537,761h3v1h-3zM261,762h1v1h-1zM380,762h1v1h-1zM465,762h4v1h-4zM478,762h1v1h-1zM533,762h4v1h-4zM262,763h1v1h-1zM381,763h1v1h-1zM469,763h4v1h-4zM477,763h1v1h-1zM528,763h5v1h-5zM263,764h1v1h-1zM382,764h1v1h-1zM473,764h6v1h-6zM522,764h6v1h-6zM264,765h1v1h-1zM383,765h1v1h-1zM475,765h1v1h-1zM479,765h7v1h-7zM515,765h7v1h-7zM265,766h1v1h-1zM384,766h1v1h-1zM474,766h1v1h-1zM486,766h29v1h-29zM266,767h1v1h-1zM385,767h1v1h-1zM473,767h1v1h-1zM267,768h1v1h-1zM386,768h1v1h-1zM472,768h1v1h-1zM268,769h1v1h-1zM387,769h1v1h-1zM471,769h1v1h-1zM269,770h1v1h-1zM388,770h1v1h-1zM470,770h1v1h-1zM270,771h1v1h-1zM389,771h1v1h-1zM469,771h1v1h-1zM271,772h1v1h-1zM390,772h1v1h-1zM468,772h1v1h-1zM272,773h1v1h-1zM390,773h1v1h-1zM467,773h1v1h-1zM273,774h1v1h-1zM391,774h1v1h-1zM466,774h1v1h-1zM274,775h1v1h-1zM392,775h1v1h-1zM465,775h1v1h-1zM275,776h1v1h-1zM393,776h1v1h-1zM464,776h1v1h-1zM276,777h1v1h-1zM394,777h1v1h-1zM463,777h1v1h-1zM277,778h1v1h-1zM395,778h1v1h-1zM462,778h1v1h-1zM278,779h1v1h-1zM395,779h1v1h-1zM461,779h1v1h-1zM279,780h2v1h-2zM396,780h1v1h-1zM460,780h1v1h-1zM281,781h1v1h-1zM397,781h1v1h-1zM459,781h1v1h-1zM282,782h1v1h-1zM398,782h1v1h-1zM458,782h1v1h-1zM283,783h1v1h-1zM399,783h1v1h-1zM456,783h2v1h-2zM284,784h2v1h-2zM400,784h1v1h-1zM455,784h1v1h-1zM286,785h1v1h-1zM401,785h1v1h-1zM454,785h1v1h-1zM287,786h1v1h-1zM401,786h1v1h-1zM452,786h2v1h-2zM288,787h2v1h-2zM402,787h1v1h-1zM451,787h1v1h-1zM290,788h1v1h-1zM403,788h1v1h-1zM450,788h1v1h-1zM291,789h2v1h-2zM404,789h1v1h-1zM448,789h2v1h-2zM293,790h1v1h-1zM405,790h1v1h-1zM446,790h2v1h-2zM294,791h2v1h-2zM406,791h1v1h-1zM445,791h1v1h-1zM296,792h1v1h-1zM407,792h1v1h-1zM443,792h2v1h-2zM297,793h2v1h-2zM408,793h1v1h-1zM442,793h1v1h-1zM299,794h2v1h-2zM409,794h1v1h-1zM440,794h2v1h-2zM301,795h2v1h-2zM410,795h1v1h-1zM438,795h2v1h-2zM303,796h2v1h-2zM411,796h1v1h-1zM436,796h2v1h-2zM305,797h2v1h-2zM412,797h1v1h-1zM434,797h2v1h-2zM307,798h2v1h-2zM413,798h1v1h-1zM432,798h2v1h-2zM309,799h2v1h-2zM414,799h1v1h-1zM430,799h2v1h-2zM311,800h2v1h-2zM415,800h1v1h-1zM428,800h2v1h-2zM313,801h2v1h-2zM416,801h1v1h-1zM426,801h2v1h-2zM315,802h2v1h-2zM417,802h1v1h-1zM423,802h3v1h-3zM317,803h3v1h-3zM418,803h1v1h-1zM421,803h2v1h-2zM320,804h3v1h-3zM418,804h3v1h-3zM323,805h3v1h-3zM415,805h3v1h-3zM420,805h1v1h-1zM326,806h3v1h-3zM412,806h3v1h-3zM421,806h1v1h-1zM329,807h3v1h-3zM409,807h3v1h-3zM422,807h1v1h-1zM332,808h4v1h-4zM405,808h4v1h-4zM423,808h1v1h-1zM336,809h4v1h-4zM401,809h4v1h-4zM424,809h1v1h-1zM340,810h5v1h-5zM396,810h5v1h-5zM425,810h1v1h-1zM345,811h6v1h-6zM389,811h7v1h-7zM425,811h1v1h-1zM351,812h10v1h-10zM380,812h9v1h-9zM426,812h1v1h-1zM361,813h19v1h-19zM427,813h1v1h-1zM428,814h1v1h-1zM428,815h1v1h-1zM429,816h1v1h-1zM430,817h1v1h-1zM430,818h1v1h-1zM431,819h1v1h-1zM431,820h1v1h-1zM432,821h1v1h-1zM432,822h1v1h-1zM433,823h1v1h-1zM433,824h1v1h-1zM434,825h1v1h-1zM434,826h1v1h-1zM436,830h1v1h-1zM436,831h1v1h-1zM437,832h1v1h-1zM437,833h1v1h-1zM439,837h1v1h-1zM439,838h1v1h-1zM440,839h1v1h-1z" fill="#000" shape-rendering="crispEdges"/>
<g>
</g>
<path d="M295,352h9v1h-9zM296,353h1v1h-1zM302,353h1v1h-1zM296,354h1v1h-1zM302,354h1v1h-1zM296,355h1v1h-1zM302,355h1v1h-1zM297,356h1v1h-1zM301,356h1v1h-1zM297,357h1v1h-1zM301,357h1v1h-1zM298,358h1v1h-1zM300,358h1v1h-1zM298,359h1v1h-1zM300,359h1v1h-1zM299,360h1v1h-1zM299,361h1v1h-1zM268,427h9v1h-9zM269,428h1v1h-1zM275,428h1v1h-1zM269,429h1v1h-1zM275,429h1v1h-1zM269,430h1v1h-1zM275,430h1v1h-1zM270,431h1v1h-1zM274,431h1v1h-1zM270,432h1v1h-1zM274,432h1v1h-1zM271,433h1v1h-1zM273,433h1v1h-1zM271,434h1v1h-1zM273,434h1v1h-1zM272,435h1v1h-1zM272,436h1v1h-1zM303,460h9v1h-9zM304,461h1v1h-1zM310,461h1v1h-1zM304,462h1v1h-1zM310,462h1v1h-1zM304,463h1v1h-1zM310,463h1v1h-1zM305,464h1v1h-1zM309,464h1v1h-1zM305,465h1v1h-1zM309,465h1v1h-1zM306,466h1v1h-1zM308,466h1v1h-1zM306,467h1v1h-1zM308,467h1v1h-1zM307,468h1v1h-1zM307,469h1v1h-1zM371,524h9v1h-9zM372,525h1v1h-1zM378,525h1v1h-1zM372,526h1v1h-1zM378,526h1v1h-1zM372,527h1v1h-1zM378,527h1v1h-1zM373,528h1v1h-1zM377,528h1v1h-1zM373,529h1v1h-1zM377,529h1v1h-1zM374,530h1v1h-1zM376,530h1v1h-1zM374,531h1v1h-1zM376,531h1v1h-1zM375,532h1v1h-1zM375,533h1v1h-1zM374,539h9v1h-9zM375,540h1v1h-1zM381,540h1v1h-1zM375,541h1v1h-1zM381,541h1v1h-1zM375,542h1v1h-1zM381,542h1v1h-1zM376,543h1v1h-1zM380,543h1v1h-1zM376,544h1v1h-1zM380,544h1v1h-1zM377,545h1v1h-1zM379,545h1v1h-1zM377,546h1v1h-1zM379,546h1v1h-1zM378,547h1v1h-1zM378,548h1v1h-1zM360,558h9v1h-9zM361,559h1v1h-1zM367,559h1v1h-1zM361,560h1v1h-1zM367,560h1v1h-1zM361,561h1v1h-1zM367,561h1v1h-1zM362,562h1v1h-1zM366,562h1v1h-1zM362,563h1v1h-1zM366,563h1v1h-1zM363,564h1v1h-1zM365,564h1v1h-1zM363,565h1v1h-1zM365,565h1v1h-1zM364,566h1v1h-1zM364,567h1v1h-1zM413,465h9v1h-9zM414,466h1v1h-1zM420,466h1v1h-1zM414,467h1v1h-1zM420,467h1v1h-1zM414,468h1v1h-1zM420,468h1v1h-1zM415,469h1v1h-1zM419,469h1v1h-1zM415,470h1v1h-1zM419,470h1v1h-1zM416,471h1v1h-1zM418,471h1v1h-1zM416,472h1v1h-1zM418,472h1v1h-1zM417,473h1v1h-1zM417,474h1v1h-1zM411,469h9v1h-9zM412,470h1v1h-1zM418,470h1v1h-1zM412,471h1v1h-1zM418,471h1v1h-1zM412,472h1v1h-1zM418,472h1v1h-1zM413,473h1v1h-1zM417,473h1v1h-1zM413,474h1v1h-1zM417,474h1v1h-1zM414,475h1v1h-1zM416,475h1v1h-1zM414,476h1v1h-1zM416,476h1v1h-1zM415,477h1v1h-1zM415,478h1v1h-1zM423,476h9v1h-9zM424,477h1v1h-1zM430,477h1v1h-1zM424,478h1v1h-1zM430,478h1v1h-1zM424,479h1v1h-1zM430,479h1v1h-1zM425,480h1v1h-1zM429,480h1v1h-1zM425,481h1v1h-1zM429,481h1v1h-1zM426,482h1v1h-1zM428,482h1v1h-1zM426,483h1v1h-1zM428,483h1v1h-1zM427,484h1v1h-1zM427,485h1v1h-1zM477,411h9v1h-9zM478,412h1v1h-1zM484,412h1v1h-1zM478,413h1v1h-1zM484,413h1v1h-1zM478,414h1v1h-1zM484,414h1v1h-1zM479,415h1v1h-1zM483,415h1v1h-1zM479,416h1v1h-1zM483,416h1v1h-1zM480,417h1v1h-1zM482,417h1v1h-1zM480,418h1v1h-1zM482,418h1v1h-1zM481,419h1v1h-1zM481,420h1v1h-1zM494,414h9v1h-9zM495,415h1v1h-1zM501,415h1v1h-1zM495,416h1v1h-1zM501,416h1v1h-1zM495,417h1v1h-1zM501,417h1v1h-1zM496,418h1v1h-1zM500,418h1v1h-1zM496,419h1v1h-1zM500,419h1v1h-1zM497,420h1v1h-1zM499,420h1v1h-1zM497,421h1v1h-1zM499,421h1v1h-1zM498,422h1v1h-1zM498,423h1v1h-1zM462,487h9v1h-9zM463,488h1v1h-1zM469,488h1v1h-1zM463,489h1v1h-1zM469,489h1v1h-1zM463,490h1v1h-1zM469,490h1v1h-1zM464,491h1v1h-1zM468,491h1v1h-1zM464,492h1v1h-1zM468,492h1v1h-1zM465,493h1v1h-1zM467,493h1v1h-1zM465,494h1v1h-1zM467,494h1v1h-1zM466,495h1v1h-1zM466,496h1v1h-1zM496,485h9v1h-9zM497,486h1v1h-1zM503,486h1v1h-1zM497,487h1v1h-1zM503,487h1v1h-1zM497,488h1v1h-1zM503,488h1v1h-1zM498,489h1v1h-1zM502,489h1v1h-1zM498,490h1v1h-1zM502,490h1v1h-1zM499,491h1v1h-1zM501,491h1v1h-1zM499,492h1v1h-1zM501,492h1v1h-1zM500,493h1v1h-1zM500,494h1v1h-1zM509,481h9v1h-9zM510,482h1v1h-1zM516,482h1v1h-1zM510,483h1v1h-1zM516,483h1v1h-1zM510,484h1v1h-1zM516,484h1v1h-1zM511,485h1v1h-1zM515,485h1v1h-1zM511,486h1v1h-1zM515,486h1v1h-1zM512,487h1v1h-1zM514,487h1v1h-1zM512,488h1v1h-1zM514,488h1v1h-1zM513,489h1v1h-1zM513,490h1v1h-1zM509,480h9v1h-9zM510,481h1v1h-1zM516,481h1v1h-1zM510,482h1v1h-1zM516,482h1v1h-1zM510,483h1v1h-1zM516,483h1v1h-1zM511,484h1v1h-1zM515,484h1v1h-1zM511,485h1v1h-1zM515,485h1v1h-1zM512,486h1v1h-1zM514,486h1v1h-1zM512,487h1v1h-1zM514,487h1v1h-1zM513,488h1v1h-1zM513,489h1v1h-1zM468,517h9v1h-9zM469,518h1v1h-1zM475,518h1v1h-1zM469,519h1v1h-1zM475,519h1v1h-1zM469,520h1v1h-1zM475,520h1v1h-1zM470,521h1v1h-1zM474,521h1v1h-1zM470,522h1v1h-1zM474,522h1v1h-1zM471,523h1v1h-1zM473,523h1v1h-1zM471,524h1v1h-1zM473,524h1v1h-1zM472,525h1v1h-1zM472,526h1v1h-1zM451,527h9v1h-9zM452,528h1v1h-1zM458,528h1v1h-1zM452,529h1v1h-1zM458,529h1v1h-1zM452,530h1v1h-1zM458,530h1v1h-1zM453,531h1v1h-1zM457,531h1v1h-1zM453,532h1v1h-1zM457,532h1v1h-1zM454,533h1v1h-1zM456,533h1v1h-1zM454,534h1v1h-1zM456,534h1v1h-1zM455,535h1v1h-1zM455,536h1v1h-1zM449,333h9v1h-9zM450,334h1v1h-1zM456,334h1v1h-1zM450,335h1v1h-1zM456,335h1v1h-1zM450,336h1v1h-1zM456,336h1v1h-1zM451,337h1v1h-1zM455,337h1v1h-1zM451,338h1v1h-1zM455,338h1v1h-1zM452,339h1v1h-1zM454,339h1v1h-1zM452,340h1v1h-1zM454,340h1v1h-1zM453,341h1v1h-1zM453,342h1v1h-1zM431,341h9v1h-9zM432,342h1v1h-1zM438,342h1v1h-1zM432,343h1v1h-1zM438,343h1v1h-1zM432,344h1v1h-1zM438,344h1v1h-1zM433,345h1v1h-1zM437,345h1v1h-1zM433,346h1v1h-1zM437,346h1v1h-1zM434,347h1v1h-1zM436,347h1v1h-1zM434,348h1v1h-1zM436,348h1v1h-1zM435,349h1v1h-1zM435,350h1v1h-1zM460,355h9v1h-9zM461,356h1v1h-1zM467,356h1v1h-1zM461,357h1v1h-1zM467,357h1v1h-1zM461,358h1v1h-1zM467,358h1v1h-1zM462,359h1v1h-1zM466,359h1v1h-1zM462,360h1v1h-1zM466,360h1v1h-1zM463,361h1v1h-1zM465,361h1v1h-1zM463,362h1v1h-1zM465,362h1v1h-1zM464,363h1v1h-1zM464,364h1v1h-1zM518,330h9v1h-9zM519,331h1v1h-1zM525,331h1v1h-1zM519,332h1v1h-1zM525,332h1v1h-1zM519,333h1v1h-1zM525,333h1v1h-1zM520,334h1v1h-1zM524,334h1v1h-1zM520,335h1v1h-1zM524,335h1v1h-1zM521,336h1v1h-1zM523,336h1v1h-1zM521,337h1v1h-1zM523,337h1v1h-1zM522,338h1v1h-1zM522,339h1v1h-1zM566,291h9v1h-9zM567,292h1v1h-1zM573,292h1v1h-1zM567,293h1v1h-1zM573,293h1v1h-1zM567,294h1v1h-1zM573,294h1v1h-1zM568,295h1v1h-1zM572,295h1v1h-1zM568,296h1v1h-1zM572,296h1v1h-1zM569,297h1v1h-1zM571,297h1v1h-1zM569,298h1v1h-1zM571,298h1v1h-1zM570,299h1v1h-1zM570,300h1v1h-1zM562,326h9v1h-9zM563,327h1v1h-1zM569,327h1v1h-1zM563,328h1v1h-1zM569,328h1v1h-1zM563,329h1v1h-1zM569,329h1v1h-1zM564,330h1v1h-1zM568,330h1v1h-1zM564,331h1v1h-1zM568,331h1v1h-1zM565,332h1v1h-1zM567,332h1v1h-1zM565,333h1v1h-1zM567,333h1v1h-1zM566,334h1v1h-1zM566,335h1v1h-1zM611,328h9v1h-9zM612,329h1v1h-1zM618,329h1v1h-1zM612,330h1v1h-1zM618,330h1v1h-1zM612,331h1v1h-1zM618,331h1v1h-1zM613,332h1v1h-1zM617,332h1v1h-1zM613,333h1v1h-1zM617,333h1v1h-1zM614,334h1v1h-1zM616,334h1v1h-1zM614,335h1v1h-1zM616,335h1v1h-1zM615,336h1v1h-1zM615,337h1v1h-1zM623,370h9v1h-9zM624,371h1v1h-1zM630,371h1v1h-1zM624,372h1v1h-1zM630,372h1v1h-1zM624,373h1v1h-1zM630,373h1v1h-1zM625,374h1v1h-1zM629,374h1v1h-1zM625,375h1v1h-1zM629,375h1v1h-1zM626,376h1v1h-1zM628,376h1v1h-1zM626,377h1v1h-1zM628,377h1v1h-1zM627,378h1v1h-1zM627,379h1v1h-1zM570,402h9v1h-9zM571,403h1v1h-1zM577,403h1v1h-1zM571,404h1v1h-1zM577,404h1v1h-1zM571,405h1v1h-1zM577,405h1v1h-1zM572,406h1v1h-1zM576,406h1v1h-1zM572,407h1v1h-1zM576,407h1v1h-1zM573,408h1v1h-1zM575,408h1v1h-1zM573,409h1v1h-1zM575,409h1v1h-1zM574,410h1v1h-1zM574,411h1v1h-1zM594,412h9v1h-9zM595,413h1v1h-1zM601,413h1v1h-1zM595,414h1v1h-1zM601,414h1v1h-1zM595,415h1v1h-1zM601,415h1v1h-1zM596,416h1v1h-1zM600,416h1v1h-1zM596,417h1v1h-1zM600,417h1v1h-1zM597,418h1v1h-1zM599,418h1v1h-1zM597,419h1v1h-1zM599,419h1v1h-1zM598,420h1v1h-1zM598,421h1v1h-1zM584,439h9v1h-9zM585,440h1v1h-1zM591,440h1v1h-1zM585,441h1v1h-1zM591,441h1v1h-1zM585,442h1v1h-1zM591,442h1v1h-1zM586,443h1v1h-1zM590,443h1v1h-1zM586,444h1v1h-1zM590,444h1v1h-1zM587,445h1v1h-1zM589,445h1v1h-1zM587,446h1v1h-1zM589,446h1v1h-1zM588,447h1v1h-1zM588,448h1v1h-1zM619,454h9v1h-9zM620,455h1v1h-1zM626,455h1v1h-1zM620,456h1v1h-1zM626,456h1v1h-1zM620,457h1v1h-1zM626,457h1v1h-1zM621,458h1v1h-1zM625,458h1v1h-1zM621,459h1v1h-1zM625,459h1v1h-1zM622,460h1v1h-1zM624,460h1v1h-1zM622,461h1v1h-1zM624,461h1v1h-1zM623,462h1v1h-1zM623,463h1v1h-1zM600,490h9v1h-9zM601,491h1v1h-1zM607,491h1v1h-1zM601,492h1v1h-1zM607,492h1v1h-1zM601,493h1v1h-1zM607,493h1v1h-1zM602,494h1v1h-1zM606,494h1v1h-1zM602,495h1v1h-1zM606,495h1v1h-1zM603,496h1v1h-1zM605,496h1v1h-1zM603,497h1v1h-1zM605,497h1v1h-1zM604,498h1v1h-1zM604,499h1v1h-1zM604,518h9v1h-9zM605,519h1v1h-1zM611,519h1v1h-1zM605,520h1v1h-1zM611,520h1v1h-1zM605,521h1v1h-1zM611,521h1v1h-1zM606,522h1v1h-1zM610,522h1v1h-1zM606,523h1v1h-1zM610,523h1v1h-1zM607,524h1v1h-1zM609,524h1v1h-1zM607,525h1v1h-1zM609,525h1v1h-1zM608,526h1v1h-1zM608,527h1v1h-1zM631,532h9v1h-9zM632,533h1v1h-1zM638,533h1v1h-1zM632,534h1v1h-1zM638,534h1v1h-1zM632,535h1v1h-1zM638,535h1v1h-1zM633,536h1v1h-1zM637,536h1v1h-1zM633,537h1v1h-1zM637,537h1v1h-1zM634,538h1v1h-1zM636,538h1v1h-1zM634,539h1v1h-1zM636,539h1v1h-1zM635,540h1v1h-1zM635,541h1v1h-1zM497,626h9v1h-9zM498,627h1v1h-1zM504,627h1v1h-1zM498,628h1v1h-1zM504,628h1v1h-1zM498,629h1v1h-1zM504,629h1v1h-1zM499,630h1v1h-1zM503,630h1v1h-1zM499,631h1v1h-1zM503,631h1v1h-1zM500,632h1v1h-1zM502,632h1v1h-1zM500,633h1v1h-1zM502,633h1v1h-1zM501,634h1v1h-1zM501,635h1v1h-1zM548,649h9v1h-9zM549,650h1v1h-1zM555,650h1v1h-1zM549,651h1v1h-1zM555,651h1v1h-1zM549,652h1v1h-1zM555,652h1v1h-1zM550,653h1v1h-1zM554,653h1v1h-1zM550,654h1v1h-1zM554,654h1v1h-1zM551,655h1v1h-1zM553,655h1v1h-1zM551,656h1v1h-1zM553,656h1v1h-1zM552,657h1v1h-1zM552,658h1v1h-1zM601,645h9v1h-9zM602,646h1v1h-1zM608,646h1v1h-1zM602,647h1v1h-1zM608,647h1v1h-1zM602,648h1v1h-1zM608,648h1v1h-1zM603,649h1v1h-1zM607,649h1v1h-1zM603,650h1v1h-1zM607,650h1v1h-1zM604,651h1v1h-1zM606,651h1v1h-1zM604,652h1v1h-1zM606,652h1v1h-1zM605,653h1v1h-1zM605,654h1v1h-1zM618,691h9v1h-9zM619,692h1v1h-1zM625,692h1v1h-1zM619,693h1v1h-1zM625,693h1v1h-1zM619,694h1v1h-1zM625,694h1v1h-1zM620,695h1v1h-1zM624,695h1v1h-1zM620,696h1v1h-1zM624,696h1v1h-1zM621,697h1v1h-1zM623,697h1v1h-1zM621,698h1v1h-1zM623,698h1v1h-1zM622,699h1v1h-1zM622,700h1v1h-1zM436,710h9v1h-9zM437,711h1v1h-1zM443,711h1v1h-1zM437,712h1v1h-1zM443,712h1v1h-1zM437,713h1v1h-1zM443,713h1v1h-1zM438,714h1v1h-1zM442,714h1v1h-1zM438,715h1v1h-1zM442,715h1v1h-1zM439,716h1v1h-1zM441,716h1v1h-1zM439,717h1v1h-1zM441,717h1v1h-1zM440,718h1v1h-1zM440,719h1v1h-1zM672,775h9v1h-9zM673,776h1v1h-1zM679,776h1v1h-1zM673,777h1v1h-1zM679,777h1v1h-1zM673,778h1v1h-1zM679,778h1v1h-1zM674,779h1v1h-1zM678,779h1v1h-1zM674,780h1v1h-1zM678,780h1v1h-1zM675,781h1v1h-1zM677,781h1v1h-1zM675,782h1v1h-1zM677,782h1v1h-1zM676,783h1v1h-1zM676,784h1v1h-1zM243,187h1v1h-1zM240,188h3v1h-3zM244,188h3v1h-3zM239,189h1v1h-1zM247,189h1v1h-1zM239,190h1v1h-1zM247,190h1v1h-1zM239,191h1v1h-1zM248,191h1v1h-1zM240,192h1v1h-1zM247,192h1v1h-1zM240,193h1v1h-1zM247,193h1v1h-1zM240,194h1v1h-1zM246,194h1v1h-1zM241,195h5v1h-5zM308,322h1v1h-1zM305,323h3v1h-3zM309,323h3v1h-3zM304,324h1v1h-1zM312,324h1v1h-1zM304,325h1v1h-1zM312,325h1v1h-1zM304,326h1v1h-1zM313,326h1v1h-1zM305,327h1v1h-1zM312,327h1v1h-1zM305,328h1v1h-1zM312,328h1v1h-1zM305,329h1v1h-1zM311,329h1v1h-1zM306,330h5v1h-5zM440,342h1v1h-1zM437,343h3v1h-3zM441,343h3v1h-3zM436,344h1v1h-1zM444,344h1v1h-1zM436,345h1v1h-1zM444,345h1v1h-1zM436,346h1v1h-1zM445,346h1v1h-1zM437,347h1v1h-1zM444,347h1v1h-1zM437,348h1v1h-1zM444,348h1v1h-1zM437,349h1v1h-1zM443,349h1v1h-1zM438,350h5v1h-5zM634,349h1v1h-1zM631,350h3v1h-3zM635,350h3v1h-3zM630,351h1v1h-1zM638,351h1v1h-1zM630,352h1v1h-1zM638,352h1v1h-1zM630,353h1v1h-1zM639,353h1v1h-1zM631,354h1v1h-1zM638,354h1v1h-1zM631,355h1v1h-1zM638,355h1v1h-1zM631,356h1v1h-1zM637,356h1v1h-1zM632,357h5v1h-5zM393,432h1v1h-1zM390,433h3v1h-3zM394,433h3v1h-3zM389,434h1v1h-1zM397,434h1v1h-1zM389,435h1v1h-1zM397,435h1v1h-1zM389,436h1v1h-1zM398,436h1v1h-1zM390,437h1v1h-1zM397,437h1v1h-1zM390,438h1v1h-1zM397,438h1v1h-1zM390,439h1v1h-1zM396,439h1v1h-1zM391,440h5v1h-5zM686,447h1v1h-1zM683,448h3v1h-3zM687,448h3v1h-3zM682,449h1v1h-1zM690,449h1v1h-1zM682,450h1v1h-1zM690,450h1v1h-1zM682,451h1v1h-1zM691,451h1v1h-1zM683,452h1v1h-1zM690,452h1v1h-1zM683,453h1v1h-1zM690,453h1v1h-1zM683,454h1v1h-1zM689,454h1v1h-1zM684,455h5v1h-5zM376,491h1v1h-1zM373,492h3v1h-3zM377,492h3v1h-3zM372,493h1v1h-1zM380,493h1v1h-1zM372,494h1v1h-1zM380,494h1v1h-1zM372,495h1v1h-1zM381,495h1v1h-1zM373,496h1v1h-1zM380,496h1v1h-1zM373,497h1v1h-1zM380,497h1v1h-1zM373,498h1v1h-1zM379,498h1v1h-1zM374,499h5v1h-5zM488,460h1v1h-1zM485,461h3v1h-3zM489,461h3v1h-3zM484,462h1v1h-1zM492,462h1v1h-1zM484,463h1v1h-1zM492,463h1v1h-1zM484,464h1v1h-1zM493,464h1v1h-1zM485,465h1v1h-1zM492,465h1v1h-1zM485,466h1v1h-1zM492,466h1v1h-1zM485,467h1v1h-1zM491,467h1v1h-1zM486,468h5v1h-5zM548,479h1v1h-1zM545,480h3v1h-3zM549,480h3v1h-3zM544,481h1v1h-1zM552,481h1v1h-1zM544,482h1v1h-1zM552,482h1v1h-1zM544,483h1v1h-1zM553,483h1v1h-1zM545,484h1v1h-1zM552,484h1v1h-1zM545,485h1v1h-1zM552,485h1v1h-1zM545,486h1v1h-1zM551,486h1v1h-1zM546,487h5v1h-5zM541,545h1v1h-1zM538,546h3v1h-3zM542,546h3v1h-3zM537,547h1v1h-1zM545,547h1v1h-1zM537,548h1v1h-1zM545,548h1v1h-1zM537,549h1v1h-1zM546,549h1v1h-1zM538,550h1v1h-1zM545,550h1v1h-1zM538,551h1v1h-1zM545,551h1v1h-1zM538,552h1v1h-1zM544,552h1v1h-1zM539,553h5v1h-5zM468,558h1v1h-1zM465,559h3v1h-3zM469,559h3v1h-3zM464,560h1v1h-1zM472,560h1v1h-1zM464,561h1v1h-1zM472,561h1v1h-1zM464,562h1v1h-1zM473,562h1v1h-1zM465,563h1v1h-1zM472,563h1v1h-1zM465,564h1v1h-1zM472,564h1v1h-1zM465,565h1v1h-1zM471,565h1v1h-1zM466,566h5v1h-5zM591,590h1v1h-1zM588,591h3v1h-3zM592,591h3v1h-3zM587,592h1v1h-1zM595,592h1v1h-1zM587,593h1v1h-1zM595,593h1v1h-1zM587,594h1v1h-1zM596,594h1v1h-1zM588,595h1v1h-1zM595,595h1v1h-1zM588,596h1v1h-1zM595,596h1v1h-1zM588,597h1v1h-1zM594,597h1v1h-1zM589,598h5v1h-5zM528,633h1v1h-1zM525,634h3v1h-3zM529,634h3v1h-3zM524,635h1v1h-1zM532,635h1v1h-1zM524,636h1v1h-1zM532,636h1v1h-1zM524,637h1v1h-1zM533,637h1v1h-1zM525,638h1v1h-1zM532,638h1v1h-1zM525,639h1v1h-1zM532,639h1v1h-1zM525,640h1v1h-1zM531,640h1v1h-1zM526,641h5v1h-5zM740,534h1v1h-1zM737,535h3v1h-3zM741,535h3v1h-3zM736,536h1v1h-1zM744,536h1v1h-1zM736,537h1v1h-1zM744,537h1v1h-1zM736,538h1v1h-1zM745,538h1v1h-1zM737,539h1v1h-1zM744,539h1v1h-1zM737,540h1v1h-1zM744,540h1v1h-1zM737,541h1v1h-1zM743,541h1v1h-1zM738,542h5v1h-5zM698,802h1v1h-1zM695,803h3v1h-3zM699,803h3v1h-3zM694,804h1v1h-1zM702,804h1v1h-1zM694,805h1v1h-1zM702,805h1v1h-1zM694,806h1v1h-1zM703,806h1v1h-1zM695,807h1v1h-1zM702,807h1v1h-1zM695,808h1v1h-1zM702,808h1v1h-1zM695,809h1v1h-1zM701,809h1v1h-1zM696,810h5v1h-5zM488,464h1v1h-1z" fill="#000" shape-rendering="crispEdges"/>
</g>
<path d="M490,157h9v1h-9zM491,158h1v1h-1zM497,158h1v1h-1zM491,159h1v1h-1zM497,159h1v1h-1zM491,160h1v1h-1zM497,160h1v1h-1zM492,161h1v1h-1zM496,161h1v1h-1zM492,162h1v1h-1zM496,162h1v1h-1zM493,163h1v1h-1zM495,163h1v1h-1zM493,164h1v1h-1zM495,164h1v1h-1zM494,165h1v1h-1zM494,166h1v1h-1z" fill="#000" shape-rendering="crispEdges"/>
<g fill="none" stroke="#000" stroke-width="1" shape-rendering="crispEdges">
<rect x="181.5" y="159.5" width="636" height="680"/>
<path d="M181.5,839.5 v-13.5 M181.5,159.5 v14.5 M198.5,839.5 v-7.5 M198.5,159.5 v7.5 M216.5,839.5 v-7.5 M216.5,159.5 v7.5 M234.5,839.5 v-7.5 M234.5,159.5 v7.5 M251.5,839.5 v-13.5 M251.5,159.5 v14.5 M269.5,839.5 v-7.5 M269.5,159.5 v7.5 M287.5,839.5 v-7.5 M287.5,159.5 v7.5 M304.5,839.5 v-7.5 M304.5,159.5 v7.5 M322.5,839.5 v-13.5 M322.5,159.5 v14.5 M340.5,839.5 v-7.5 M340.5,159.5 v7.5 M357.5,839.5 v-7.5 M357.5,159.5 v7.5 M375.5,839.5 v-7.5 M375.5,159.5 v7.5 M393.5,839.5 v-13.5 M393.5,159.5 v14.5 M410.5,839.5 v-7.5 M410.5,159.5 v7.5 M428.5,839.5 v-7.5 M428.5,159.5 v7.5 M446.5,839.5 v-7.5 M446.5,159.5 v7.5 M463.5,839.5 v-13.5 M463.5,159.5 v14.5 M481.5,839.5 v-7.5 M481.5,159.5 v7.5 M499.5,839.5 v-7.5 M499.5,159.5 v7.5 M516.5,839.5 v-7.5 M516.5,159.5 v7.5 M534.5,839.5 v-13.5 M534.5,159.5 v14.5 M552.5,839.5 v-7.5 M552.5,159.5 v7.5 M569.5,839.5 v-7.5 M569.5,159.5 v7.5 M587.5,839.5 v-7.5 M587.5,159.5 v7.5 M605.5,839.5 v-13.5 M605.5,159.5 v14.5 M622.5,839.5 v-7.5 M622.5,159.5 v7.5 M640.5,839.5 v-7.5 M640.5,159.5 v7.5 M658.5,839.5 v-7.5 M658.5,159.5 v7.5 M675.5,839.5 v-13.5 M675.5,159.5 v14.5 M693.5,839.5 v-7.5 M693.5,159.5 v7.5 M711.5,839.5 v-7.5 M711.5,159.5 v7.5 M728.5,839.5 v-7.5 M728.5,159.5 v7.5 M746.5,839.5 v-13.5 M746.5,159.5 v14.5 M764.5,839.5 v-7.5 M764.5,159.5 v7.5 M781.5,839.5 v-7.5 M781.5,159.5 v7.5 M799.5,839.5 v-7.5 M799.5,159.5 v7.5 M817.5,839.5 v-13.5 M817.5,159.5 v14.5 M181.5,839.5 h13.5 M817.5,839.5 h-13.5 M181.5,821.5 h6.5 M817.5,821.5 h-6.5 M181.5,804.5 h6.5 M817.5,804.5 h-6.5 M181.5,786.5 h6.5 M817.5,786.5 h-6.5 M181.5,768.5 h13.5 M817.5,768.5 h-13.5 M181.5,750.5 h6.5 M817.5,750.5 h-6.5 M181.5,733.5 h6.5 M817.5,733.5 h-6.5 M181.5,715.5 h6.5 M817.5,715.5 h-6.5 M181.5,697.5 h13.5 M817.5,697.5 h-13.5 M181.5,680.5 h6.5 M817.5,680.5 h-6.5 M181.5,662.5 h6.5 M817.5,662.5 h-6.5 M181.5,644.5 h6.5 M817.5,644.5 h-6.5 M181.5,626.5 h13.5 M817.5,626.5 h-13.5 M181.5,609.5 h6.5 M817.5,609.5 h-6.5 M181.5,591.5 h6.5 M817.5,591.5 h-6.5 M181.5,573.5 h6.5 M817.5,573.5 h-6.5 M181.5,556.5 h13.5 M817.5,556.5 h-13.5 M181.5,538.5 h6.5 M817.5,538.5 h-6.5 M181.5,520.5 h6.5 M817.5,520.5 h-6.5 M181.5,503.5 h6.5 M817.5,503.5 h-6.5 M181.5,485.5 h13.5 M817.5,485.5 h-13.5 M181.5,467.5 h6.5 M817.5,467.5 h-6.5 M181.5,449.5 h6.5 M817.5,449.5 h-6.5 M181.5,432.5 h6.5 M817.5,432.5 h-6.5 M181.5,414.5 h13.5 M817.5,414.5 h-13.5 M181.5,396.5 h6.5 M817.5,396.5 h-6.5 M181.5,379.5 h6.5 M817.5,379.5 h-6.5 M181.5,361.5 h6.5 M817.5,361.5 h-6.5 M181.5,343.5 h13.5 M817.5,343.5 h-13.5 M181.5,325.5 h6.5 M817.5,325.5 h-6.5 M181.5,308.5 h6.5 M817.5,308.5 h-6.5 M181.5,290.5 h6.5 M817.5,290.5 h-6.5 M181.5,272.5 h13.5 M817.5,272.5 h-13.5 M181.5,255.5 h6.5 M817.5,255.5 h-6.5 M181.5,237.5 h6.5 M817.5,237.5 h-6.5 M181.5,219.5 h6.5 M817.5,219.5 h-6.5 M181.5,202.5 h13.5 M817.5,202.5 h-13.5 M181.5,184.5 h6.5 M817.5,184.5 h-6.5 M181.5,166.5 h6.5 M817.5,166.5 h-6.5"/>
</g>
<rect x="837.5" y="786.6" width="25.0" height="31.9" fill="#C89664" shape-rendering="crispEdges"/>
<rect x="837.5" y="754.7" width="25.0" height="31.9" fill="#D6A472" shape-rendering="crispEdges"/>
<rect x="837.5" y="722.8" width="25.0" height="31.9" fill="#E4B280" shape-rendering="crispEdges"/>
<rect x="837.5" y="690.9" width="25.0" height="31.9" fill="#F1C08E" shape-rendering="crispEdges"/>
<rect x="837.5" y="659.0" width="25.0" height="31.9" fill="#FFCE9C" shape-rendering="crispEdges"/>
<rect x="837.5" y="627.1" width="25.0" height="31.9" fill="#FFFFAA" shape-rendering="crispEdges"/>
<rect x="837.5" y="595.2" width="25.0" height="31.9" fill="#FFF8C8" shape-rendering="crispEdges"/>
<rect x="837.5" y="563.3" width="25.0" height="31.9" fill="#C8FFC8" shape-rendering="crispEdges"/>
<rect x="837.5" y="531.4" width="25.0" height="31.9" fill="#A0FAC8" shape-rendering="crispEdges"/>
<rect x="837.5" y="499.5" width="25.0" height="31.9" fill="#82FAAA" shape-rendering="crispEdges"/>
<rect x="837.5" y="467.6" width="25.0" height="31.9" fill="#69FA9B" shape-rendering="crispEdges"/>
<rect x="837.5" y="435.7" width="25.0" height="31.9" fill="#4BF878" shape-rendering="crispEdges"/>
<rect x="837.5" y="403.8" width="25.0" height="31.9" fill="#19F550" shape-rendering="crispEdges"/>
<rect x="837.5" y="371.9" width="25.0" height="31.9" fill="#00FA00" shape-rendering="crispEdges"/>
<rect x="837.5" y="340.0" width="25.0" height="31.9" fill="#0FC832" shape-rendering="crispEdges"/>
<rect x="837.5" y="308.1" width="25.0" height="31.9" fill="#0FA56E" shape-rendering="crispEdges"/>
<rect x="837.5" y="276.2" width="25.0" height="31.9" fill="#0F9696" shape-rendering="crispEdges"/>
<rect x="837.5" y="244.3" width="25.0" height="31.9" fill="#0F64F0" shape-rendering="crispEdges"/>
<rect x="837.5" y="212.4" width="25.0" height="31.9" fill="#0532E6" shape-rendering="crispEdges"/>
<rect x="837.5" y="180.5" width="25.0" height="31.9" fill="#0000C8" shape-rendering="crispEdges"/>
<path d="M837.5,180.5 H862.5 V818.5 H837.5 Z M837.5,212.5 H862.5 M837.5,244.5 H862.5 M837.5,276.5 H862.5 M837.5,308.5 H862.5 M837.5,340.5 H862.5 M837.5,371.5 H862.5 M837.5,403.5 H862.5 M837.5,435.5 H862.5 M837.5,467.5 H862.5 M837.5,499.5 H862.5 M837.5,531.5 H862.5 M837.5,563.5 H862.5 M837.5,595.5 H862.5 M837.5,627.5 H862.5 M837.5,658.5 H862.5 M837.5,690.5 H862.5 M837.5,722.5 H862.5 M837.5,754.5 H862.5 M837.5,786.5 H862.5" fill="none" stroke="#000" stroke-width="1" shape-rendering="crispEdges"/>
<path d="M110,489v3h1v-3zM110,494v3h1v-3zM144,197v11h1v-11zM144,268v11h1v-11zM144,338v12h1v-12zM144,409v12h1v-12zM144,480v11h1v-11zM149,879v12h1v-12zM150,203v3h1v-3zM150,269v7h1v-7zM150,482v6h1v-6zM150,557v3h1v-3zM150,623v7h1v-7zM151,197v3h1v-3zM151,551v3h1v-3zM153,898v12h1v-12zM154,884v3h1v-3zM156,337v13h1v-13zM156,691v13h1v-13zM156,880v3h1v-3zM157,273v3h1v-3zM157,410v3h1v-3zM157,551v3h1v-3zM157,627v4h1v-4zM157,764v3h1v-3zM158,483v4h1v-4zM158,557v3h1v-3zM159,879v12h1v-12zM161,198v7h1v-7zM161,269v7h1v-7zM161,340v7h1v-7zM161,410v8h1v-8zM161,481v8h1v-8zM161,552v8h1v-8zM161,623v8h1v-8zM161,694v7h1v-7zM161,765v7h1v-7zM161,835v8h1v-8zM166,879v12h1v-12zM168,198v7h1v-7zM168,269v7h1v-7zM168,340v7h1v-7zM168,411v7h1v-7zM168,482v7h1v-7zM168,552v8h1v-8zM168,623v8h1v-8zM168,694v7h1v-7zM168,765v7h1v-7zM168,836v7h1v-7zM168,900v8h1v-8zM175,853v3h1v-3zM175,901v5h1v-5zM176,856v3h1v-3zM180,882v7h1v-7zM183,851v8h1v-8zM187,908v3h1v-3zM190,25v8h1v-8zM191,33v3h1v-3zM200,904v3h1v-3zM210,32v3h1v-3zM210,904v3h1v-3zM211,30v3h1v-3zM212,27v3h1v-3zM213,24v3h1v-3zM214,880v3h1v-3zM216,21v3h1v-3zM218,26v3h1v-3zM219,29v4h1v-4zM219,901v9h1v-9zM221,34v3h1v-3zM221,886v3h1v-3zM224,879v12h1v-12zM225,903v7h1v-7zM230,884v7h1v-7zM232,898v10h1v-10zM234,885v3h1v-3zM236,904v3h1v-3zM239,32v4h1v-4zM241,882v9h1v-9zM243,904v3h1v-3zM246,32v3h1v-3zM246,901v7h1v-7zM247,30v3h1v-3zM248,27v3h1v-3zM248,850v3h1v-3zM249,24v3h1v-3zM250,879v12h1v-12zM252,21v3h1v-3zM252,851v8h1v-8zM252,901v9h1v-9zM253,885v3h1v-3zM254,26v3h1v-3zM255,29v4h1v-4zM256,901v9h1v-9zM257,34v3h1v-3zM259,73v3h1v-3zM259,851v8h1v-8zM260,70v3h1v-3zM262,65v3h1v-3zM262,885v3h1v-3zM263,62v3h1v-3zM265,907v3h1v-3zM266,901v6h1v-6zM267,63v3h1v-3zM268,66v3h1v-3zM269,69v3h1v-3zM269,879v12h1v-12zM270,71v3h1v-3zM271,74v3h1v-3zM275,888v3h1v-3zM276,882v6h1v-6zM277,65v13h1v-13zM279,20v19h1v-19zM286,67v11h1v-11zM290,32v3h1v-3zM291,26v6h1v-6zM293,68v6h1v-6zM297,20v19h1v-19zM299,140v11h1v-11zM303,65v13h1v-13zM304,141v7h1v-7zM310,59v19h1v-19zM311,146v3h1v-3zM312,21v5h1v-5zM313,26v4h1v-4zM314,30v4h1v-4zM315,34v4h1v-4zM316,34v5h1v-5zM317,30v4h1v-4zM317,70v3h1v-3zM317,849v12h1v-12zM318,26v4h1v-4zM319,21v5h1v-5zM319,75v4h1v-4zM320,20v3h1v-3zM320,75v3h1v-3zM321,23v4h1v-4zM321,72v3h1v-3zM322,27v4h1v-4zM322,141v7h1v-7zM322,852v5h1v-5zM323,31v4h1v-4zM324,35v4h1v-4zM325,33v4h1v-4zM326,28v5h1v-5zM327,24v4h1v-4zM328,21v3h1v-3zM329,141v8h1v-8zM329,850v3h1v-3zM330,853v5h1v-5zM332,143v3h1v-3zM333,146v3h1v-3zM340,143v4h1v-4zM345,65v13h1v-13zM352,67v3h1v-3zM358,20v19h1v-19zM358,139v3h1v-3zM367,24v11h1v-11zM378,24v3h1v-3zM378,32v4h1v-4zM379,27v5h1v-5zM379,146v4h1v-4zM382,853v4h1v-4zM383,27v4h1v-4zM383,850v3h1v-3zM384,23v4h1v-4zM384,31v4h1v-4zM385,61v17h1v-17zM389,143v8h1v-8zM389,855v4h1v-4zM393,68v6h1v-6zM393,851v7h1v-7zM395,24v4h1v-4zM395,31v4h1v-4zM395,139v11h1v-11zM396,28v3h1v-3zM400,26v13h1v-13zM400,851v3h1v-3zM400,856v3h1v-3zM404,70v4h1v-4zM409,65v13h1v-13zM410,29v10h1v-10zM412,141v10h1v-10zM415,146v3h1v-3zM416,140v3h1v-3zM419,28v11h1v-11zM422,140v3h1v-3zM422,146v4h1v-4zM437,139v12h1v-12zM441,60v18h1v-18zM442,28v5h1v-5zM443,24v4h1v-4zM443,33v4h1v-4zM448,145v4h1v-4zM449,63v11h1v-11zM453,856v3h1v-3zM454,850v3h1v-3zM458,139v12h1v-12zM459,112v10h1v-10zM460,70v4h1v-4zM462,20v19h1v-19zM463,113v5h1v-5zM464,145v4h1v-4zM464,851v8h1v-8zM468,75v3h1v-3zM470,112v3h1v-3zM471,115v3h1v-3zM471,851v8h1v-8zM473,22v5h1v-5zM473,114v3h1v-3zM474,117v3h1v-3zM478,59v3h1v-3zM481,114v4h1v-4zM484,30v5h1v-5zM484,112v8h1v-8zM485,143v3h1v-3zM486,146v3h1v-3zM488,25v8h1v-8zM488,882v8h1v-8zM491,113v6h1v-6zM493,143v4h1v-4zM493,880v11h1v-11zM500,25v9h1v-9zM500,61v4h1v-4zM500,883v8h1v-8zM505,885v6h1v-6zM509,31v3h1v-3zM510,114v8h1v-8zM510,885v6h1v-6zM512,72v3h1v-3zM516,116v6h1v-6zM516,882v8h1v-8zM518,68v6h1v-6zM521,115v7h1v-7zM523,850v11h1v-11zM527,20v19h1v-19zM528,65v13h1v-13zM529,853v3h1v-3zM530,856v3h1v-3zM536,32v4h1v-4zM537,22v4h1v-4zM537,115v3h1v-3zM537,851v8h1v-8zM538,59v17h1v-17zM538,112v3h1v-3zM540,851v7h1v-7zM542,115v3h1v-3zM543,118v3h1v-3zM547,22v4h1v-4zM547,113v5h1v-5zM547,851v3h1v-3zM547,856v3h1v-3zM548,31v5h1v-5zM550,139v12h1v-12zM552,25v8h1v-8zM555,117v3h1v-3zM558,110v12h1v-12zM564,25v9h1v-9zM565,61v17h1v-17zM568,141v7h1v-7zM573,31v3h1v-3zM574,72v3h1v-3zM574,898v12h1v-12zM575,141v8h1v-8zM576,901v3h1v-3zM578,906v4h1v-4zM581,901v3h1v-3zM583,141v8h1v-8zM583,898v12h1v-12zM587,71v3h1v-3zM587,901v9h1v-9zM590,142v7h1v-7zM591,901v9h1v-9zM593,23v4h1v-4zM594,850v11h1v-11zM597,903v7h1v-7zM599,22v5h1v-5zM607,850v3h1v-3zM608,59v19h1v-19zM610,30v5h1v-5zM611,851v8h1v-8zM616,899v11h1v-11zM618,851v8h1v-8zM621,143v5h1v-5zM622,140v3h1v-3zM622,148v3h1v-3zM624,69v4h1v-4zM628,143v3h1v-3zM629,146v3h1v-3zM631,898v12h1v-12zM636,143v4h1v-4zM637,900v4h1v-4zM640,59v19h1v-19zM643,900v7h1v-7zM644,30v4h1v-4zM646,143v3h1v-3zM647,146v3h1v-3zM647,905v3h1v-3zM648,899v3h1v-3zM650,72v3h1v-3zM654,20v19h1v-19zM654,143v5h1v-5zM654,905v3h1v-3zM658,141v8h1v-8zM662,31v3h1v-3zM664,851v10h1v-10zM665,142v6h1v-6zM666,879v12h1v-12zM667,880v3h1v-3zM667,898v12h1v-12zM668,883v3h1v-3zM668,900v3h1v-3zM670,888v3h1v-3zM670,905v3h1v-3zM671,886v3h1v-3zM671,907v3h1v-3zM673,881v3h1v-3zM673,902v3h1v-3zM674,879v12h1v-12zM674,899v3h1v-3zM675,898v12h1v-12zM676,141v8h1v-8zM676,849v12h1v-12zM679,882v9h1v-9zM679,904v3h1v-3zM681,852v5h1v-5zM682,62v4h1v-4zM683,142v7h1v-7zM683,882v9h1v-9zM686,901v9h1v-9zM687,141v8h1v-8zM689,62v12h1v-12zM689,852v6h1v-6zM689,885v6h1v-6zM694,142v6h1v-6zM697,25v8h1v-8zM699,141v3h1v-3zM699,147v3h1v-3zM700,63v4h1v-4zM700,71v3h1v-3zM700,144v3h1v-3zM701,67v4h1v-4zM705,882v5h1v-5zM709,25v9h1v-9zM712,881v3h1v-3zM712,886v3h1v-3zM716,62v4h1v-4zM717,898v12h1v-12zM724,880v11h1v-11zM730,20v19h1v-19zM734,70v3h1v-3zM735,850v11h1v-11zM736,904v3h1v-3zM739,881v7h1v-7zM741,853v4h1v-4zM746,881v7h1v-7zM752,851v7h1v-7zM755,898v12h1v-12zM756,20v19h1v-19zM759,851v3h1v-3zM759,856v3h1v-3zM759,879v12h1v-12zM761,883v3h1v-3zM762,886v3h1v-3zM764,886v3h1v-3zM765,883v3h1v-3zM767,879v12h1v-12zM768,901v9h1v-9zM770,26v13h1v-13zM771,885v3h1v-3zM772,901v9h1v-9zM778,882v9h1v-9zM778,903v7h1v-7zM780,29v10h1v-10zM781,904v3h1v-3zM789,28v11h1v-11zM801,23v3h1v-3zM801,35v3h1v-3zM802,26v9h1v-9zM804,881v8h1v-8zM806,850v11h1v-11zM810,899v3h1v-3zM811,882v6h1v-6zM812,856v3h1v-3zM813,850v3h1v-3zM819,901v5h1v-5zM823,851v8h1v-8zM826,900v3h1v-3zM826,905v3h1v-3zM830,851v8h1v-8zM830,900v7h1v-7zM836,879v12h1v-12zM837,900v7h1v-7zM840,901v5h1v-5zM841,881v7h1v-7zM847,900v3h1v-3zM847,905v3h1v-3zM848,881v7h1v-7zM867,240v7h1v-7zM867,303v8h1v-8zM867,367v8h1v-8zM867,431v8h1v-8zM867,495v8h1v-8zM867,559v7h1v-7zM867,622v8h1v-8zM867,686v8h1v-8zM867,750v8h1v-8zM867,814v8h1v-8zM870,177v12h1v-12zM875,239v4h1v-4zM875,303v3h1v-3zM875,309v3h1v-3zM875,367v3h1v-3zM875,373v3h1v-3zM875,431v3h1v-3zM875,437v3h1v-3zM875,495v3h1v-3zM875,558v4h1v-4zM875,622v3h1v-3zM875,628v3h1v-3zM875,686v3h1v-3zM875,692v3h1v-3zM875,750v3h1v-3zM875,756v3h1v-3zM875,814v3h1v-3zM876,243v3h1v-3zM876,306v3h1v-3zM876,370v3h1v-3zM876,434v3h1v-3zM876,498v3h1v-3zM876,562v3h1v-3zM876,625v3h1v-3zM876,689v3h1v-3zM876,753v3h1v-3zM876,817v3h1v-3zM879,312v3h1v-3zM879,631v3h1v-3zM885,240v3h1v-3zM885,309v3h1v-3zM885,431v8h1v-8zM885,814v8h1v-8zM886,302v3h1v-3zM886,493v4h1v-4zM886,685v3h1v-3zM890,749v12h1v-12zM891,556v14h1v-14zM893,240v7h1v-7zM893,302v3h1v-3zM893,364v3h1v-3zM893,436v3h1v-3zM893,814v3h1v-3zM894,309v3h1v-3zM894,817v3h1v-3zM896,240v7h1v-7zM896,304v7h1v-7zM896,368v6h1v-6zM896,431v7h1v-7zM896,495v7h1v-7zM896,559v7h1v-7zM896,623v7h1v-7zM896,687v6h1v-6zM896,750v7h1v-7zM904,239v3h1v-3zM904,303v3h1v-3zM904,367v3h1v-3zM904,431v3h1v-3zM904,501v3h1v-3zM904,558v3h1v-3zM904,622v3h1v-3zM904,686v3h1v-3zM904,750v3h1v-3zM905,242v4h1v-4zM905,306v4h1v-4zM905,370v4h1v-4zM905,434v4h1v-4zM905,497v4h1v-4zM905,561v4h1v-4zM905,625v4h1v-4zM905,689v4h1v-4zM905,753v4h1v-4zM448,16h1v1h-1zM796,16h1v1h-1zM447,17h1v1h-1zM797,17h1v1h-1zM446,18h1v1h-1zM798,18h1v1h-1zM446,19h1v1h-1zM799,19h1v1h-1zM194,20h6v1h-6zM215,20h1v1h-1zM230,20h8v1h-8zM251,20h1v1h-1zM280,20h7v1h-7zM298,20h11v1h-11zM311,20h1v1h-1zM329,20h1v1h-1zM371,20h5v1h-5zM387,20h6v1h-6zM445,20h1v1h-1zM475,20h8v1h-8zM492,20h5v1h-5zM539,20h7v1h-7zM556,20h5v1h-5zM586,20h5v1h-5zM601,20h8v1h-8zM701,20h5v1h-5zM799,20h1v1h-1zM193,21h1v1h-1zM200,21h1v1h-1zM215,21h1v1h-1zM229,21h1v1h-1zM238,21h1v1h-1zM251,21h1v1h-1zM287,21h1v1h-1zM357,21h1v1h-1zM370,21h1v1h-1zM376,21h1v1h-1zM386,21h1v1h-1zM393,21h1v1h-1zM445,21h1v1h-1zM461,21h1v1h-1zM474,21h1v1h-1zM491,21h1v1h-1zM497,21h1v1h-1zM526,21h1v1h-1zM538,21h1v1h-1zM546,21h1v1h-1zM555,21h1v1h-1zM561,21h1v1h-1zM585,21h1v1h-1zM591,21h1v1h-1zM600,21h1v1h-1zM700,21h1v1h-1zM706,21h1v1h-1zM729,21h1v1h-1zM800,21h1v1h-1zM192,22h1v1h-1zM201,22h1v1h-1zM214,22h1v1h-1zM228,22h1v1h-1zM239,22h1v1h-1zM250,22h1v1h-1zM288,22h1v1h-1zM356,22h1v1h-1zM369,22h1v1h-1zM377,22h1v1h-1zM385,22h1v1h-1zM394,22h1v1h-1zM444,22h1v1h-1zM461,22h1v1h-1zM490,22h1v1h-1zM498,22h1v1h-1zM525,22h1v1h-1zM554,22h1v1h-1zM562,22h1v1h-1zM584,22h1v1h-1zM592,22h1v1h-1zM699,22h1v1h-1zM707,22h1v1h-1zM728,22h1v1h-1zM800,22h1v1h-1zM191,23h1v1h-1zM202,23h1v1h-1zM214,23h1v1h-1zM227,23h1v1h-1zM250,23h1v1h-1zM289,23h1v1h-1zM355,23h1v1h-1zM368,23h1v1h-1zM377,23h1v1h-1zM394,23h1v1h-1zM444,23h1v1h-1zM460,23h1v1h-1zM489,23h1v1h-1zM499,23h1v1h-1zM524,23h1v1h-1zM553,23h1v1h-1zM563,23h1v1h-1zM583,23h1v1h-1zM698,23h1v1h-1zM708,23h1v1h-1zM727,23h1v1h-1zM191,24h1v1h-1zM203,24h1v1h-1zM217,24h1v1h-1zM227,24h1v1h-1zM253,24h1v1h-1zM290,24h1v1h-1zM354,24h1v1h-1zM459,24h1v1h-1zM489,24h1v1h-1zM499,24h1v1h-1zM523,24h1v1h-1zM553,24h1v1h-1zM563,24h1v1h-1zM583,24h1v1h-1zM698,24h1v1h-1zM708,24h1v1h-1zM726,24h1v1h-1zM217,25h1v1h-1zM228,25h1v1h-1zM253,25h1v1h-1zM290,25h1v1h-1zM353,25h1v1h-1zM458,25h1v1h-1zM523,25h1v1h-1zM726,25h1v1h-1zM228,26h1v1h-1zM353,26h1v1h-1zM404,26h4v1h-4zM413,26h5v1h-5zM458,26h1v1h-1zM475,26h6v1h-6zM505,26h1v1h-1zM515,26h1v1h-1zM522,26h1v1h-1zM538,26h1v1h-1zM545,26h2v1h-2zM569,26h1v1h-1zM579,26h1v1h-1zM601,26h6v1h-6zM648,26h5v1h-5zM658,26h1v1h-1zM668,26h1v1h-1zM725,26h1v1h-1zM765,26h1v1h-1zM773,26h5v1h-5zM783,26h5v1h-5zM229,27h1v1h-1zM352,27h1v1h-1zM402,27h2v1h-2zM408,27h1v1h-1zM412,27h1v1h-1zM418,27h1v1h-1zM457,27h1v1h-1zM474,27h1v1h-1zM481,27h1v1h-1zM506,27h1v1h-1zM514,27h1v1h-1zM521,27h1v1h-1zM539,27h6v1h-6zM570,27h1v1h-1zM578,27h1v1h-1zM592,27h1v1h-1zM600,27h1v1h-1zM607,27h1v1h-1zM647,27h1v1h-1zM653,27h1v1h-1zM659,27h1v1h-1zM667,27h1v1h-1zM724,27h1v1h-1zM764,27h1v1h-1zM772,27h1v1h-1zM778,27h1v1h-1zM782,27h1v1h-1zM788,27h1v1h-1zM230,28h3v1h-3zM351,28h1v1h-1zM401,28h1v1h-1zM409,28h1v1h-1zM411,28h1v1h-1zM456,28h1v1h-1zM482,28h1v1h-1zM507,28h1v1h-1zM513,28h1v1h-1zM520,28h1v1h-1zM539,28h3v1h-3zM543,28h3v1h-3zM571,28h1v1h-1zM577,28h1v1h-1zM591,28h1v1h-1zM608,28h1v1h-1zM646,28h1v1h-1zM660,28h1v1h-1zM666,28h1v1h-1zM674,28h17v1h-17zM723,28h1v1h-1zM763,28h1v1h-1zM771,28h1v1h-1zM779,28h1v1h-1zM781,28h1v1h-1zM233,29h3v1h-3zM298,29h7v1h-7zM351,29h1v1h-1zM456,29h1v1h-1zM483,29h1v1h-1zM508,29h1v1h-1zM512,29h1v1h-1zM520,29h1v1h-1zM538,29h1v1h-1zM546,29h1v1h-1zM572,29h1v1h-1zM576,29h1v1h-1zM591,29h1v1h-1zM609,29h1v1h-1zM645,29h1v1h-1zM661,29h1v1h-1zM665,29h1v1h-1zM723,29h1v1h-1zM762,29h1v1h-1zM236,30h2v1h-2zM350,30h1v1h-1zM455,30h1v1h-1zM508,30h1v1h-1zM511,30h1v1h-1zM519,30h1v1h-1zM537,30h1v1h-1zM547,30h1v1h-1zM572,30h1v1h-1zM575,30h1v1h-1zM590,30h1v1h-1zM661,30h1v1h-1zM664,30h1v1h-1zM722,30h1v1h-1zM761,30h1v1h-1zM238,31h1v1h-1zM349,31h1v1h-1zM454,31h1v1h-1zM510,31h1v1h-1zM518,31h1v1h-1zM537,31h1v1h-1zM574,31h1v1h-1zM589,31h1v1h-1zM663,31h1v1h-1zM721,31h1v1h-1zM760,31h1v1h-1zM212,32h7v1h-7zM220,32h1v1h-1zM248,32h7v1h-7zM256,32h1v1h-1zM350,32h8v1h-8zM359,32h4v1h-4zM455,32h7v1h-7zM463,32h5v1h-5zM510,32h1v1h-1zM519,32h8v1h-8zM528,32h4v1h-4zM574,32h1v1h-1zM588,32h1v1h-1zM663,32h1v1h-1zM722,32h8v1h-8zM731,32h4v1h-4zM759,32h1v1h-1zM761,32h1v1h-1zM220,33h1v1h-1zM256,33h1v1h-1zM489,33h1v1h-1zM511,33h1v1h-1zM553,33h1v1h-1zM575,33h1v1h-1zM587,33h1v1h-1zM664,33h1v1h-1zM674,33h17v1h-17zM698,33h1v1h-1zM758,33h1v1h-1zM761,33h1v1h-1zM203,34h1v1h-1zM489,34h1v1h-1zM499,34h1v1h-1zM508,34h1v1h-1zM512,34h1v1h-1zM553,34h1v1h-1zM563,34h1v1h-1zM572,34h1v1h-1zM576,34h1v1h-1zM586,34h1v1h-1zM645,34h1v1h-1zM661,34h1v1h-1zM665,34h1v1h-1zM698,34h1v1h-1zM708,34h1v1h-1zM757,34h1v1h-1zM762,34h1v1h-1zM202,35h1v1h-1zM209,35h1v1h-1zM227,35h1v1h-1zM245,35h1v1h-1zM289,35h1v1h-1zM368,35h1v1h-1zM385,35h1v1h-1zM394,35h1v1h-1zM472,35h1v1h-1zM483,35h1v1h-1zM490,35h1v1h-1zM499,35h1v1h-1zM507,35h1v1h-1zM512,35h1v1h-1zM554,35h1v1h-1zM563,35h1v1h-1zM571,35h1v1h-1zM576,35h1v1h-1zM585,35h1v1h-1zM598,35h1v1h-1zM609,35h1v1h-1zM645,35h1v1h-1zM660,35h1v1h-1zM665,35h1v1h-1zM699,35h1v1h-1zM708,35h1v1h-1zM763,35h1v1h-1zM192,36h1v1h-1zM201,36h1v1h-1zM209,36h1v1h-1zM228,36h1v1h-1zM238,36h1v1h-1zM245,36h1v1h-1zM288,36h1v1h-1zM369,36h1v1h-1zM377,36h1v1h-1zM386,36h1v1h-1zM393,36h1v1h-1zM473,36h1v1h-1zM482,36h1v1h-1zM490,36h1v1h-1zM498,36h1v1h-1zM506,36h1v1h-1zM513,36h1v1h-1zM537,36h1v1h-1zM547,36h1v1h-1zM554,36h1v1h-1zM562,36h1v1h-1zM570,36h1v1h-1zM577,36h1v1h-1zM584,36h1v1h-1zM599,36h1v1h-1zM608,36h1v1h-1zM619,36h1v1h-1zM646,36h1v1h-1zM653,36h1v1h-1zM659,36h1v1h-1zM666,36h1v1h-1zM699,36h1v1h-1zM707,36h1v1h-1zM715,36h1v1h-1zM764,36h1v1h-1zM193,37h1v1h-1zM199,37h2v1h-2zM208,37h1v1h-1zM222,37h1v1h-1zM229,37h2v1h-2zM237,37h1v1h-1zM244,37h1v1h-1zM258,37h1v1h-1zM287,37h1v1h-1zM370,37h1v1h-1zM375,37h2v1h-2zM387,37h1v1h-1zM392,37h1v1h-1zM444,37h1v1h-1zM474,37h2v1h-2zM481,37h1v1h-1zM491,37h1v1h-1zM497,37h1v1h-1zM506,37h1v1h-1zM514,37h1v1h-1zM538,37h2v1h-2zM546,37h1v1h-1zM555,37h1v1h-1zM561,37h1v1h-1zM570,37h1v1h-1zM578,37h1v1h-1zM583,37h1v1h-1zM600,37h2v1h-2zM607,37h1v1h-1zM620,37h1v1h-1zM647,37h1v1h-1zM652,37h1v1h-1zM659,37h1v1h-1zM667,37h1v1h-1zM700,37h1v1h-1zM706,37h1v1h-1zM714,37h1v1h-1zM765,37h1v1h-1zM194,38h5v1h-5zM208,38h1v1h-1zM222,38h1v1h-1zM231,38h6v1h-6zM244,38h1v1h-1zM258,38h1v1h-1zM280,38h7v1h-7zM371,38h4v1h-4zM388,38h4v1h-4zM444,38h1v1h-1zM476,38h5v1h-5zM492,38h5v1h-5zM505,38h1v1h-1zM515,38h1v1h-1zM540,38h6v1h-6zM556,38h5v1h-5zM569,38h1v1h-1zM579,38h1v1h-1zM584,38h11v1h-11zM602,38h5v1h-5zM620,38h1v1h-1zM648,38h4v1h-4zM658,38h1v1h-1zM668,38h1v1h-1zM701,38h5v1h-5zM766,38h1v1h-1zM800,38h1v1h-1zM445,39h1v1h-1zM619,39h1v1h-1zM800,39h1v1h-1zM445,40h1v1h-1zM619,40h1v1h-1zM799,40h1v1h-1zM446,41h1v1h-1zM618,41h1v1h-1zM798,41h1v1h-1zM447,42h1v1h-1zM618,42h1v1h-1zM798,42h1v1h-1zM448,43h1v1h-1zM797,43h1v1h-1zM448,44h1v1h-1zM796,44h1v1h-1zM265,59h1v1h-1zM344,59h2v1h-2zM387,59h3v1h-3zM440,59h1v1h-1zM453,59h5v1h-5zM467,59h11v1h-11zM479,59h1v1h-1zM503,59h7v1h-7zM578,59h6v1h-6zM609,59h11v1h-11zM675,59h5v1h-5zM693,59h5v1h-5zM709,59h5v1h-5zM723,59h9v1h-9zM264,60h2v1h-2zM386,60h1v1h-1zM439,60h1v1h-1zM452,60h1v1h-1zM458,60h1v1h-1zM501,60h2v1h-2zM510,60h2v1h-2zM564,60h1v1h-1zM577,60h1v1h-1zM584,60h1v1h-1zM674,60h1v1h-1zM680,60h1v1h-1zM691,60h2v1h-2zM698,60h1v1h-1zM708,60h1v1h-1zM714,60h1v1h-1zM732,60h1v1h-1zM264,61h1v1h-1zM266,61h1v1h-1zM438,61h1v1h-1zM451,61h1v1h-1zM459,61h1v1h-1zM512,61h1v1h-1zM563,61h1v1h-1zM576,61h1v1h-1zM585,61h1v1h-1zM673,61h1v1h-1zM681,61h1v1h-1zM690,61h1v1h-1zM699,61h1v1h-1zM707,61h1v1h-1zM715,61h1v1h-1zM731,61h1v1h-1zM266,62h1v1h-1zM436,62h2v1h-2zM450,62h1v1h-1zM477,62h1v1h-1zM561,62h2v1h-2zM575,62h1v1h-1zM586,62h1v1h-1zM672,62h1v1h-1zM699,62h1v1h-1zM706,62h1v1h-1zM730,62h1v1h-1zM476,63h1v1h-1zM575,63h1v1h-1zM586,63h1v1h-1zM672,63h1v1h-1zM706,63h1v1h-1zM729,63h1v1h-1zM476,64h1v1h-1zM576,64h1v1h-1zM585,64h1v1h-1zM729,64h1v1h-1zM280,65h5v1h-5zM297,65h4v1h-4zM314,65h1v1h-1zM325,65h1v1h-1zM333,65h5v1h-5zM354,65h5v1h-5zM382,65h3v1h-3zM386,65h3v1h-3zM397,65h4v1h-4zM413,65h4v1h-4zM475,65h1v1h-1zM501,65h1v1h-1zM522,65h4v1h-4zM535,65h3v1h-3zM539,65h3v1h-3zM577,65h1v1h-1zM584,65h1v1h-1zM628,65h5v1h-5zM643,65h4v1h-4zM728,65h1v1h-1zM279,66h1v1h-1zM285,66h1v1h-1zM295,66h2v1h-2zM301,66h1v1h-1zM315,66h1v1h-1zM324,66h1v1h-1zM332,66h1v1h-1zM338,66h1v1h-1zM353,66h1v1h-1zM359,66h1v1h-1zM395,66h2v1h-2zM401,66h1v1h-1zM412,66h1v1h-1zM453,66h5v1h-5zM474,66h1v1h-1zM502,66h1v1h-1zM520,66h2v1h-2zM526,66h1v1h-1zM578,66h6v1h-6zM627,66h1v1h-1zM633,66h1v1h-1zM642,66h1v1h-1zM647,66h2v1h-2zM681,66h1v1h-1zM715,66h1v1h-1zM729,66h3v1h-3zM278,67h1v1h-1zM294,67h1v1h-1zM302,67h1v1h-1zM315,67h1v1h-1zM324,67h1v1h-1zM331,67h1v1h-1zM339,67h1v1h-1zM360,67h1v1h-1zM394,67h1v1h-1zM402,67h1v1h-1zM411,67h1v1h-1zM451,67h2v1h-2zM458,67h1v1h-1zM474,67h1v1h-1zM503,67h3v1h-3zM519,67h1v1h-1zM527,67h1v1h-1zM578,67h2v1h-2zM581,67h3v1h-3zM626,67h1v1h-1zM634,67h1v1h-1zM641,67h1v1h-1zM649,67h1v1h-1zM680,67h1v1h-1zM714,67h1v1h-1zM732,67h1v1h-1zM261,68h1v1h-1zM316,68h1v1h-1zM323,68h1v1h-1zM331,68h1v1h-1zM340,68h1v1h-1zM361,68h1v1h-1zM403,68h1v1h-1zM410,68h1v1h-1zM450,68h1v1h-1zM459,68h1v1h-1zM473,68h1v1h-1zM506,68h3v1h-3zM577,68h1v1h-1zM584,68h1v1h-1zM609,68h6v1h-6zM625,68h1v1h-1zM634,68h1v1h-1zM650,68h1v1h-1zM680,68h1v1h-1zM714,68h1v1h-1zM733,68h1v1h-1zM261,69h1v1h-1zM316,69h1v1h-1zM323,69h1v1h-1zM332,69h1v1h-1zM403,69h1v1h-1zM459,69h1v1h-1zM472,69h1v1h-1zM509,69h1v1h-1zM576,69h1v1h-1zM585,69h1v1h-1zM635,69h1v1h-1zM650,69h1v1h-1zM679,69h1v1h-1zM713,69h1v1h-1zM733,69h1v1h-1zM322,70h1v1h-1zM333,70h2v1h-2zM353,70h3v1h-3zM472,70h1v1h-1zM510,70h1v1h-1zM575,70h1v1h-1zM586,70h1v1h-1zM625,70h10v1h-10zM651,70h1v1h-1zM678,70h1v1h-1zM712,70h1v1h-1zM261,71h8v1h-8zM322,71h1v1h-1zM335,71h3v1h-3zM356,71h3v1h-3zM471,71h1v1h-1zM511,71h1v1h-1zM575,71h1v1h-1zM651,71h1v1h-1zM677,71h1v1h-1zM711,71h1v1h-1zM338,72h1v1h-1zM359,72h1v1h-1zM470,72h1v1h-1zM676,72h1v1h-1zM710,72h1v1h-1zM318,73h1v1h-1zM339,73h1v1h-1zM360,73h1v1h-1zM470,73h1v1h-1zM625,73h1v1h-1zM675,73h1v1h-1zM709,73h1v1h-1zM733,73h1v1h-1zM294,74h1v1h-1zM318,74h1v1h-1zM330,74h1v1h-1zM340,74h1v1h-1zM351,74h1v1h-1zM361,74h1v1h-1zM394,74h1v1h-1zM403,74h1v1h-1zM450,74h1v1h-1zM459,74h1v1h-1zM469,74h1v1h-1zM500,74h1v1h-1zM519,74h1v1h-1zM586,74h1v1h-1zM625,74h1v1h-1zM635,74h1v1h-1zM674,74h1v1h-1zM690,74h1v1h-1zM699,74h1v1h-1zM708,74h1v1h-1zM722,74h1v1h-1zM733,74h1v1h-1zM294,75h1v1h-1zM302,75h1v1h-1zM331,75h1v1h-1zM339,75h1v1h-1zM352,75h1v1h-1zM360,75h1v1h-1zM394,75h1v1h-1zM402,75h1v1h-1zM451,75h1v1h-1zM458,75h1v1h-1zM500,75h1v1h-1zM511,75h1v1h-1zM519,75h1v1h-1zM527,75h1v1h-1zM575,75h1v1h-1zM586,75h1v1h-1zM626,75h1v1h-1zM633,75h2v1h-2zM641,75h1v1h-1zM649,75h1v1h-1zM673,75h1v1h-1zM691,75h1v1h-1zM698,75h1v1h-1zM707,75h1v1h-1zM723,75h1v1h-1zM732,75h1v1h-1zM258,76h1v1h-1zM295,76h1v1h-1zM301,76h1v1h-1zM332,76h1v1h-1zM338,76h1v1h-1zM353,76h1v1h-1zM359,76h1v1h-1zM395,76h1v1h-1zM401,76h1v1h-1zM452,76h1v1h-1zM456,76h2v1h-2zM501,76h2v1h-2zM510,76h1v1h-1zM520,76h1v1h-1zM526,76h1v1h-1zM539,76h1v1h-1zM576,76h2v1h-2zM585,76h1v1h-1zM627,76h1v1h-1zM632,76h1v1h-1zM642,76h1v1h-1zM648,76h1v1h-1zM672,76h1v1h-1zM692,76h1v1h-1zM697,76h1v1h-1zM706,76h1v1h-1zM724,76h1v1h-1zM731,76h1v1h-1zM258,77h1v1h-1zM272,77h1v1h-1zM296,77h5v1h-5zM333,77h5v1h-5zM354,77h5v1h-5zM396,77h5v1h-5zM453,77h3v1h-3zM467,77h1v1h-1zM469,77h11v1h-11zM503,77h7v1h-7zM521,77h5v1h-5zM540,77h3v1h-3zM578,77h7v1h-7zM628,77h4v1h-4zM643,77h5v1h-5zM673,77h11v1h-11zM693,77h4v1h-4zM707,77h11v1h-11zM725,77h6v1h-6zM318,79h1v1h-1zM318,80h1v1h-1zM317,81h1v1h-1zM316,82h1v1h-1zM313,83h3v1h-3zM432,110h8v1h-8zM466,110h3v1h-3zM476,110h3v1h-3zM486,110h3v1h-3zM539,110h1v1h-1zM550,110h4v1h-4zM438,111h1v1h-1zM458,111h1v1h-1zM465,111h1v1h-1zM469,111h1v1h-1zM475,111h1v1h-1zM479,111h1v1h-1zM485,111h1v1h-1zM489,111h1v1h-1zM539,111h2v1h-2zM549,111h1v1h-1zM554,111h1v1h-1zM437,112h1v1h-1zM457,112h1v1h-1zM464,112h1v1h-1zM474,112h1v1h-1zM480,112h1v1h-1zM490,112h1v1h-1zM540,112h1v1h-1zM548,112h1v1h-1zM555,112h1v1h-1zM437,113h1v1h-1zM474,113h1v1h-1zM480,113h1v1h-1zM541,113h1v1h-1zM555,113h1v1h-1zM436,114h1v1h-1zM512,114h3v1h-3zM518,114h3v1h-3zM541,114h1v1h-1zM435,115h1v1h-1zM443,115h10v1h-10zM511,115h1v1h-1zM515,115h1v1h-1zM517,115h1v1h-1zM435,116h1v1h-1zM434,117h1v1h-1zM538,117h4v1h-4zM553,117h2v1h-2zM434,118h1v1h-1zM443,118h10v1h-10zM464,118h1v1h-1zM470,118h1v1h-1zM480,118h1v1h-1zM536,118h1v1h-1zM548,118h1v1h-1zM433,119h1v1h-1zM464,119h1v1h-1zM470,119h1v1h-1zM480,119h1v1h-1zM490,119h1v1h-1zM536,119h1v1h-1zM548,119h1v1h-1zM432,120h1v1h-1zM465,120h1v1h-1zM469,120h1v1h-1zM475,120h1v1h-1zM479,120h1v1h-1zM485,120h1v1h-1zM489,120h1v1h-1zM495,120h2v1h-2zM535,120h1v1h-1zM549,120h1v1h-1zM554,120h1v1h-1zM432,121h8v1h-8zM466,121h3v1h-3zM476,121h3v1h-3zM486,121h3v1h-3zM535,121h1v1h-1zM544,121h1v1h-1zM550,121h4v1h-4zM559,121h7v1h-7zM625,137h1v1h-1zM696,137h1v1h-1zM624,138h1v1h-1zM697,138h1v1h-1zM298,139h1v1h-1zM306,139h4v1h-4zM324,139h4v1h-4zM335,139h3v1h-3zM352,139h6v1h-6zM359,139h1v1h-1zM374,139h5v1h-5zM417,139h5v1h-5zM438,139h7v1h-7zM477,139h4v1h-4zM488,139h3v1h-3zM498,139h4v1h-4zM507,139h5v1h-5zM546,139h4v1h-4zM551,139h3v1h-3zM570,139h4v1h-4zM585,139h4v1h-4zM623,139h1v1h-1zM631,139h3v1h-3zM649,139h3v1h-3zM660,139h3v1h-3zM678,139h4v1h-4zM689,139h3v1h-3zM698,139h1v1h-1zM297,140h1v1h-1zM305,140h1v1h-1zM310,140h1v1h-1zM323,140h1v1h-1zM328,140h1v1h-1zM334,140h1v1h-1zM338,140h1v1h-1zM373,140h1v1h-1zM379,140h1v1h-1zM411,140h1v1h-1zM476,140h1v1h-1zM481,140h1v1h-1zM487,140h1v1h-1zM491,140h1v1h-1zM497,140h1v1h-1zM502,140h1v1h-1zM512,140h1v1h-1zM569,140h1v1h-1zM574,140h1v1h-1zM584,140h1v1h-1zM589,140h1v1h-1zM630,140h1v1h-1zM634,140h1v1h-1zM648,140h1v1h-1zM652,140h1v1h-1zM659,140h1v1h-1zM663,140h1v1h-1zM677,140h1v1h-1zM682,140h1v1h-1zM688,140h1v1h-1zM692,140h1v1h-1zM698,140h1v1h-1zM296,141h1v1h-1zM310,141h1v1h-1zM333,141h1v1h-1zM339,141h1v1h-1zM372,141h1v1h-1zM379,141h1v1h-1zM409,141h2v1h-2zM476,141h1v1h-1zM482,141h1v1h-1zM486,141h1v1h-1zM492,141h1v1h-1zM497,141h1v1h-1zM503,141h1v1h-1zM511,141h1v1h-1zM589,141h1v1h-1zM629,141h1v1h-1zM635,141h1v1h-1zM647,141h1v1h-1zM653,141h1v1h-1zM664,141h1v1h-1zM682,141h1v1h-1zM693,141h1v1h-1zM333,142h1v1h-1zM339,142h1v1h-1zM357,142h1v1h-1zM372,142h1v1h-1zM475,142h1v1h-1zM482,142h1v1h-1zM486,142h1v1h-1zM492,142h1v1h-1zM496,142h1v1h-1zM503,142h1v1h-1zM511,142h1v1h-1zM629,142h1v1h-1zM635,142h1v1h-1zM647,142h1v1h-1zM653,142h1v1h-1zM307,143h2v1h-2zM315,143h1v1h-1zM356,143h1v1h-1zM373,143h1v1h-1zM385,143h4v1h-4zM393,143h2v1h-2zM396,143h2v1h-2zM417,143h5v1h-5zM450,143h3v1h-3zM459,143h4v1h-4zM481,143h1v1h-1zM502,143h1v1h-1zM512,143h1v1h-1zM604,143h5v1h-5zM640,143h1v1h-1zM668,143h2v1h-2zM306,144h1v1h-1zM309,144h1v1h-1zM315,144h1v1h-1zM356,144h1v1h-1zM374,144h3v1h-3zM384,144h1v1h-1zM417,144h4v1h-4zM438,144h4v1h-4zM449,144h1v1h-1zM453,144h1v1h-1zM463,144h1v1h-1zM480,144h1v1h-1zM501,144h1v1h-1zM513,144h1v1h-1zM556,144h10v1h-10zM603,144h1v1h-1zM609,144h1v1h-1zM640,144h1v1h-1zM305,145h1v1h-1zM310,145h1v1h-1zM355,145h1v1h-1zM377,145h2v1h-2zM383,145h1v1h-1zM416,145h1v1h-1zM421,145h1v1h-1zM454,145h1v1h-1zM479,145h1v1h-1zM500,145h1v1h-1zM514,145h1v1h-1zM604,145h1v1h-1zM354,146h1v1h-1zM382,146h1v1h-1zM449,146h5v1h-5zM478,146h1v1h-1zM499,146h1v1h-1zM514,146h1v1h-1zM605,146h3v1h-3zM339,147h1v1h-1zM354,147h1v1h-1zM383,147h1v1h-1zM477,147h1v1h-1zM492,147h1v1h-1zM498,147h1v1h-1zM513,147h1v1h-1zM556,147h10v1h-10zM608,147h1v1h-1zM635,147h1v1h-1zM305,148h1v1h-1zM323,148h1v1h-1zM339,148h1v1h-1zM353,148h1v1h-1zM372,148h1v1h-1zM383,148h1v1h-1zM454,148h1v1h-1zM476,148h1v1h-1zM492,148h1v1h-1zM497,148h1v1h-1zM506,148h1v1h-1zM513,148h1v1h-1zM569,148h1v1h-1zM603,148h1v1h-1zM609,148h1v1h-1zM635,148h1v1h-1zM653,148h1v1h-1zM664,148h1v1h-1zM693,148h1v1h-1zM305,149h1v1h-1zM310,149h1v1h-1zM315,149h1v1h-1zM323,149h1v1h-1zM328,149h1v1h-1zM334,149h1v1h-1zM338,149h1v1h-1zM352,149h1v1h-1zM373,149h1v1h-1zM384,149h1v1h-1zM388,149h1v1h-1zM416,149h1v1h-1zM449,149h1v1h-1zM453,149h1v1h-1zM459,149h1v1h-1zM463,149h1v1h-1zM476,149h1v1h-1zM487,149h1v1h-1zM491,149h1v1h-1zM497,149h1v1h-1zM507,149h1v1h-1zM512,149h1v1h-1zM569,149h1v1h-1zM574,149h1v1h-1zM579,149h1v1h-1zM584,149h1v1h-1zM589,149h1v1h-1zM603,149h1v1h-1zM608,149h1v1h-1zM630,149h1v1h-1zM634,149h1v1h-1zM640,149h1v1h-1zM648,149h1v1h-1zM652,149h1v1h-1zM659,149h1v1h-1zM663,149h1v1h-1zM668,149h2v1h-2zM677,149h1v1h-1zM682,149h1v1h-1zM688,149h1v1h-1zM692,149h1v1h-1zM306,150h4v1h-4zM315,150h1v1h-1zM324,150h4v1h-4zM335,150h3v1h-3zM352,150h8v1h-8zM374,150h5v1h-5zM385,150h3v1h-3zM396,150h2v1h-2zM417,150h5v1h-5zM450,150h3v1h-3zM460,150h3v1h-3zM477,150h6v1h-6zM488,150h3v1h-3zM498,150h6v1h-6zM508,150h4v1h-4zM570,150h4v1h-4zM579,150h1v1h-1zM585,150h4v1h-4zM604,150h4v1h-4zM631,150h3v1h-3zM640,150h1v1h-1zM649,150h3v1h-3zM660,150h3v1h-3zM678,150h4v1h-4zM689,150h3v1h-3zM698,150h1v1h-1zM623,151h1v1h-1zM698,151h1v1h-1zM624,152h1v1h-1zM697,152h1v1h-1zM625,153h1v1h-1zM696,153h1v1h-1zM625,154h1v1h-1zM696,154h1v1h-1zM869,176h1v1h-1zM868,177h1v1h-1zM867,178h1v1h-1zM877,187h2v1h-2zM153,195h3v1h-3zM164,195h2v1h-2zM143,196h1v1h-1zM152,196h1v1h-1zM156,196h1v1h-1zM163,196h1v1h-1zM166,196h1v1h-1zM142,197h1v1h-1zM157,197h1v1h-1zM162,197h1v1h-1zM167,197h1v1h-1zM141,198h1v1h-1zM157,198h1v1h-1zM156,199h1v1h-1zM152,200h4v1h-4zM152,201h1v1h-1zM155,201h2v1h-2zM151,202h1v1h-1zM157,202h1v1h-1zM158,203h1v1h-1zM158,204h1v1h-1zM157,205h1v1h-1zM162,205h1v1h-1zM167,205h1v1h-1zM151,206h1v1h-1zM156,206h1v1h-1zM162,206h1v1h-1zM166,206h1v1h-1zM152,207h4v1h-4zM163,207h3v1h-3zM870,237h4v1h-4zM888,237h3v1h-3zM899,237h4v1h-4zM869,238h1v1h-1zM874,238h1v1h-1zM887,238h1v1h-1zM891,238h1v1h-1zM898,238h1v1h-1zM903,238h1v1h-1zM868,239h1v1h-1zM886,239h1v1h-1zM892,239h1v1h-1zM897,239h1v1h-1zM886,243h1v1h-1zM892,243h1v1h-1zM887,244h1v1h-1zM891,244h1v1h-1zM888,245h3v1h-3zM875,246h1v1h-1zM904,246h1v1h-1zM868,247h1v1h-1zM875,247h1v1h-1zM892,247h1v1h-1zM897,247h1v1h-1zM904,247h1v1h-1zM868,248h1v1h-1zM874,248h1v1h-1zM886,248h1v1h-1zM892,248h1v1h-1zM897,248h1v1h-1zM903,248h1v1h-1zM869,249h1v1h-1zM873,249h1v1h-1zM879,249h2v1h-2zM887,249h1v1h-1zM891,249h1v1h-1zM898,249h1v1h-1zM902,249h1v1h-1zM870,250h3v1h-3zM888,250h3v1h-3zM899,250h3v1h-3zM154,266h2v1h-2zM164,266h2v1h-2zM143,267h1v1h-1zM152,267h2v1h-2zM156,267h1v1h-1zM163,267h1v1h-1zM166,267h1v1h-1zM142,268h1v1h-1zM151,268h1v1h-1zM157,268h1v1h-1zM162,268h1v1h-1zM167,268h1v1h-1zM141,269h1v1h-1zM152,271h4v1h-4zM151,272h1v1h-1zM156,272h1v1h-1zM151,276h1v1h-1zM156,276h1v1h-1zM162,276h1v1h-1zM167,276h1v1h-1zM152,277h1v1h-1zM155,277h1v1h-1zM163,277h1v1h-1zM166,277h1v1h-1zM153,278h2v1h-2zM164,278h2v1h-2zM869,301h5v1h-5zM887,301h6v1h-6zM899,301h4v1h-4zM868,302h1v1h-1zM874,302h1v1h-1zM898,302h1v1h-1zM903,302h1v1h-1zM897,303h1v1h-1zM887,305h1v1h-1zM891,305h2v1h-2zM888,306h3v1h-3zM887,307h1v1h-1zM891,307h2v1h-2zM886,308h1v1h-1zM893,308h1v1h-1zM904,310h1v1h-1zM868,311h1v1h-1zM897,311h1v1h-1zM904,311h1v1h-1zM868,312h1v1h-1zM874,312h1v1h-1zM886,312h1v1h-1zM893,312h1v1h-1zM897,312h1v1h-1zM903,312h1v1h-1zM869,313h1v1h-1zM872,313h2v1h-2zM887,313h2v1h-2zM892,313h1v1h-1zM898,313h1v1h-1zM901,313h2v1h-2zM870,314h2v1h-2zM889,314h3v1h-3zM899,314h2v1h-2zM143,337h1v1h-1zM164,337h2v1h-2zM142,338h1v1h-1zM155,338h1v1h-1zM163,338h1v1h-1zM166,338h1v1h-1zM141,339h1v1h-1zM154,339h1v1h-1zM162,339h1v1h-1zM167,339h1v1h-1zM153,340h1v1h-1zM152,341h1v1h-1zM152,342h1v1h-1zM151,343h1v1h-1zM150,344h1v1h-1zM151,345h5v1h-5zM157,345h2v1h-2zM162,347h1v1h-1zM167,347h1v1h-1zM163,348h1v1h-1zM166,348h1v1h-1zM164,349h2v1h-2zM871,364h2v1h-2zM885,364h8v1h-8zM894,364h1v1h-1zM900,364h2v1h-2zM869,365h2v1h-2zM873,365h1v1h-1zM898,365h2v1h-2zM902,365h1v1h-1zM868,366h1v1h-1zM874,366h1v1h-1zM897,366h1v1h-1zM903,366h1v1h-1zM892,367h1v1h-1zM897,367h1v1h-1zM892,368h1v1h-1zM891,369h1v1h-1zM891,370h1v1h-1zM890,371h1v1h-1zM890,372h1v1h-1zM889,373h1v1h-1zM889,374h1v1h-1zM897,374h1v1h-1zM904,374h1v1h-1zM868,375h1v1h-1zM888,375h1v1h-1zM897,375h1v1h-1zM904,375h1v1h-1zM868,376h1v1h-1zM874,376h1v1h-1zM879,376h1v1h-1zM888,376h1v1h-1zM898,376h1v1h-1zM903,376h1v1h-1zM869,377h5v1h-5zM880,377h1v1h-1zM887,377h1v1h-1zM899,377h4v1h-4zM143,408h1v1h-1zM153,408h3v1h-3zM163,408h4v1h-4zM142,409h1v1h-1zM152,409h1v1h-1zM156,409h1v1h-1zM162,409h1v1h-1zM167,409h1v1h-1zM141,410h1v1h-1zM151,410h1v1h-1zM167,410h1v1h-1zM151,411h1v1h-1zM156,413h1v1h-1zM155,414h1v1h-1zM154,415h1v1h-1zM153,416h1v1h-1zM152,417h1v1h-1zM151,418h1v1h-1zM162,418h1v1h-1zM167,418h1v1h-1zM150,419h1v1h-1zM163,419h1v1h-1zM165,419h2v1h-2zM151,420h8v1h-8zM164,420h1v1h-1zM871,428h2v1h-2zM889,428h2v1h-2zM900,428h2v1h-2zM869,429h2v1h-2zM873,429h1v1h-1zM887,429h2v1h-2zM891,429h1v1h-1zM898,429h2v1h-2zM902,429h1v1h-1zM868,430h1v1h-1zM874,430h1v1h-1zM886,430h1v1h-1zM892,430h1v1h-1zM897,430h1v1h-1zM903,430h1v1h-1zM888,433h3v1h-3zM887,434h1v1h-1zM891,434h1v1h-1zM886,435h1v1h-1zM892,435h1v1h-1zM897,438h1v1h-1zM904,438h1v1h-1zM868,439h1v1h-1zM886,439h1v1h-1zM892,439h1v1h-1zM897,439h1v1h-1zM904,439h1v1h-1zM869,440h1v1h-1zM874,440h1v1h-1zM879,440h2v1h-2zM887,440h1v1h-1zM891,440h1v1h-1zM898,440h1v1h-1zM903,440h1v1h-1zM870,441h4v1h-4zM888,441h3v1h-3zM899,441h4v1h-4zM143,479h1v1h-1zM153,479h3v1h-3zM163,479h4v1h-4zM142,480h1v1h-1zM152,480h1v1h-1zM156,480h1v1h-1zM162,480h1v1h-1zM167,480h1v1h-1zM141,481h1v1h-1zM151,481h1v1h-1zM157,481h1v1h-1zM167,481h1v1h-1zM108,482h9v1h-9zM157,482h1v1h-1zM107,483h1v1h-1zM117,483h1v1h-1zM106,484h1v1h-1zM118,484h2v1h-2zM105,485h1v1h-1zM120,485h1v1h-1zM157,487h1v1h-1zM111,488h7v1h-7zM151,488h1v1h-1zM157,488h1v1h-1zM151,489h1v1h-1zM156,489h1v1h-1zM162,489h1v1h-1zM167,489h1v1h-1zM152,490h4v1h-4zM163,490h4v1h-4zM111,492h1v1h-1zM870,492h3v1h-3zM887,492h6v1h-6zM899,492h4v1h-4zM111,493h7v1h-7zM869,493h1v1h-1zM873,493h1v1h-1zM898,493h1v1h-1zM903,493h1v1h-1zM868,494h1v1h-1zM874,494h1v1h-1zM897,494h1v1h-1zM903,494h1v1h-1zM904,495h1v1h-1zM888,496h3v1h-3zM904,496h1v1h-1zM111,497h1v1h-1zM887,497h1v1h-1zM891,497h1v1h-1zM110,498h8v1h-8zM892,498h1v1h-1zM893,499h1v1h-1zM110,500h1v1h-1zM116,500h2v1h-2zM894,500h1v1h-1zM111,501h1v1h-1zM115,501h1v1h-1zM875,501h1v1h-1zM894,501h1v1h-1zM112,502h1v1h-1zM114,502h1v1h-1zM875,502h1v1h-1zM893,502h1v1h-1zM897,502h1v1h-1zM113,503h1v1h-1zM868,503h1v1h-1zM874,503h1v1h-1zM885,503h1v1h-1zM893,503h1v1h-1zM897,503h1v1h-1zM114,504h1v1h-1zM869,504h1v1h-1zM873,504h1v1h-1zM879,504h2v1h-2zM886,504h1v1h-1zM892,504h1v1h-1zM898,504h1v1h-1zM903,504h1v1h-1zM107,505h11v1h-11zM870,505h3v1h-3zM887,505h5v1h-5zM899,505h4v1h-4zM105,507h1v1h-1zM120,507h1v1h-1zM106,508h1v1h-1zM119,508h1v1h-1zM107,509h1v1h-1zM117,509h2v1h-2zM108,510h2v1h-2zM115,510h2v1h-2zM110,511h5v1h-5zM152,550h5v1h-5zM163,550h4v1h-4zM162,551h1v1h-1zM167,551h1v1h-1zM152,554h5v1h-5zM152,555h5v1h-5zM151,556h1v1h-1zM157,556h1v1h-1zM870,556h4v1h-4zM899,556h4v1h-4zM869,557h1v1h-1zM874,557h1v1h-1zM890,557h1v1h-1zM898,557h1v1h-1zM903,557h1v1h-1zM868,558h1v1h-1zM889,558h1v1h-1zM897,558h1v1h-1zM889,559h1v1h-1zM151,560h1v1h-1zM157,560h1v1h-1zM162,560h1v1h-1zM167,560h1v1h-1zM888,560h1v1h-1zM152,561h5v1h-5zM163,561h4v1h-4zM887,561h1v1h-1zM886,562h1v1h-1zM886,563h1v1h-1zM885,564h1v1h-1zM875,565h1v1h-1zM886,565h5v1h-5zM892,565h3v1h-3zM904,565h1v1h-1zM868,566h1v1h-1zM875,566h1v1h-1zM897,566h1v1h-1zM904,566h1v1h-1zM868,567h1v1h-1zM874,567h1v1h-1zM897,567h1v1h-1zM903,567h1v1h-1zM869,568h1v1h-1zM873,568h1v1h-1zM879,568h2v1h-2zM898,568h1v1h-1zM902,568h1v1h-1zM870,569h3v1h-3zM899,569h3v1h-3zM869,620h5v1h-5zM886,620h6v1h-6zM899,620h4v1h-4zM152,621h5v1h-5zM163,621h4v1h-4zM868,621h1v1h-1zM874,621h1v1h-1zM892,621h1v1h-1zM898,621h1v1h-1zM903,621h1v1h-1zM151,622h1v1h-1zM157,622h1v1h-1zM162,622h1v1h-1zM167,622h1v1h-1zM891,622h1v1h-1zM897,622h1v1h-1zM890,623h1v1h-1zM889,624h1v1h-1zM152,625h4v1h-4zM890,625h3v1h-3zM151,626h1v1h-1zM156,626h1v1h-1zM893,626h1v1h-1zM894,627h1v1h-1zM894,628h1v1h-1zM893,629h1v1h-1zM904,629h1v1h-1zM151,630h1v1h-1zM868,630h1v1h-1zM885,630h1v1h-1zM893,630h1v1h-1zM897,630h1v1h-1zM904,630h1v1h-1zM151,631h1v1h-1zM156,631h1v1h-1zM162,631h1v1h-1zM167,631h1v1h-1zM868,631h1v1h-1zM874,631h1v1h-1zM886,631h1v1h-1zM892,631h1v1h-1zM897,631h1v1h-1zM903,631h1v1h-1zM152,632h4v1h-4zM163,632h4v1h-4zM869,632h1v1h-1zM872,632h2v1h-2zM887,632h2v1h-2zM891,632h1v1h-1zM898,632h1v1h-1zM901,632h2v1h-2zM870,633h2v1h-2zM889,633h2v1h-2zM899,633h2v1h-2zM871,683h2v1h-2zM888,683h3v1h-3zM900,683h2v1h-2zM869,684h2v1h-2zM873,684h1v1h-1zM887,684h1v1h-1zM891,684h1v1h-1zM898,684h2v1h-2zM902,684h1v1h-1zM868,685h1v1h-1zM874,685h1v1h-1zM892,685h1v1h-1zM897,685h1v1h-1zM903,685h1v1h-1zM893,686h1v1h-1zM897,686h1v1h-1zM893,687h1v1h-1zM892,688h1v1h-1zM892,689h1v1h-1zM891,690h1v1h-1zM164,691h2v1h-2zM890,691h1v1h-1zM155,692h1v1h-1zM163,692h1v1h-1zM166,692h1v1h-1zM889,692h1v1h-1zM154,693h1v1h-1zM162,693h1v1h-1zM167,693h1v1h-1zM888,693h1v1h-1zM897,693h1v1h-1zM904,693h1v1h-1zM153,694h1v1h-1zM868,694h1v1h-1zM887,694h1v1h-1zM897,694h1v1h-1zM904,694h1v1h-1zM153,695h1v1h-1zM868,695h1v1h-1zM874,695h1v1h-1zM879,695h1v1h-1zM886,695h1v1h-1zM898,695h1v1h-1zM903,695h1v1h-1zM152,696h1v1h-1zM869,696h5v1h-5zM880,696h1v1h-1zM887,696h8v1h-8zM899,696h4v1h-4zM151,697h1v1h-1zM151,698h1v1h-1zM152,699h4v1h-4zM157,699h2v1h-2zM162,701h1v1h-1zM167,701h1v1h-1zM163,702h1v1h-1zM166,702h1v1h-1zM164,703h2v1h-2zM871,747h2v1h-2zM900,747h2v1h-2zM869,748h2v1h-2zM873,748h1v1h-1zM889,748h1v1h-1zM898,748h2v1h-2zM902,748h1v1h-1zM868,749h1v1h-1zM874,749h1v1h-1zM888,749h1v1h-1zM897,749h1v1h-1zM903,749h1v1h-1zM887,750h1v1h-1zM897,757h1v1h-1zM904,757h1v1h-1zM868,758h1v1h-1zM897,758h1v1h-1zM904,758h1v1h-1zM869,759h1v1h-1zM874,759h1v1h-1zM879,759h2v1h-2zM898,759h1v1h-1zM903,759h1v1h-1zM870,760h4v1h-4zM899,760h4v1h-4zM153,762h3v1h-3zM164,762h2v1h-2zM152,763h1v1h-1zM156,763h1v1h-1zM163,763h1v1h-1zM166,763h1v1h-1zM151,764h1v1h-1zM162,764h1v1h-1zM167,764h1v1h-1zM151,765h1v1h-1zM156,767h1v1h-1zM155,768h1v1h-1zM154,769h1v1h-1zM153,770h1v1h-1zM152,771h1v1h-1zM151,772h1v1h-1zM162,772h1v1h-1zM167,772h1v1h-1zM150,773h1v1h-1zM163,773h1v1h-1zM166,773h1v1h-1zM151,774h8v1h-8zM164,774h2v1h-2zM870,811h3v1h-3zM888,811h3v1h-3zM869,812h1v1h-1zM873,812h1v1h-1zM887,812h1v1h-1zM891,812h1v1h-1zM868,813h1v1h-1zM874,813h1v1h-1zM886,813h1v1h-1zM892,813h1v1h-1zM875,820h1v1h-1zM893,820h1v1h-1zM875,821h1v1h-1zM893,821h1v1h-1zM868,822h1v1h-1zM874,822h1v1h-1zM886,822h1v1h-1zM892,822h1v1h-1zM869,823h1v1h-1zM873,823h1v1h-1zM879,823h2v1h-2zM887,823h1v1h-1zM891,823h1v1h-1zM870,824h3v1h-3zM888,824h3v1h-3zM163,833h4v1h-4zM162,834h1v1h-1zM167,834h1v1h-1zM167,835h1v1h-1zM162,843h1v1h-1zM167,843h1v1h-1zM163,844h1v1h-1zM165,844h2v1h-2zM164,845h1v1h-1zM178,849h4v1h-4zM243,849h5v1h-5zM254,849h4v1h-4zM324,849h5v1h-5zM384,849h5v1h-5zM395,849h4v1h-4zM455,849h5v1h-5zM466,849h4v1h-4zM522,849h1v1h-1zM532,849h4v1h-4zM542,849h4v1h-4zM593,849h1v1h-1zM602,849h5v1h-5zM613,849h4v1h-4zM683,849h5v1h-5zM734,849h1v1h-1zM744,849h4v1h-4zM754,849h4v1h-4zM805,849h1v1h-1zM814,849h5v1h-5zM825,849h4v1h-4zM177,850h1v1h-1zM182,850h1v1h-1zM242,850h1v1h-1zM253,850h1v1h-1zM258,850h1v1h-1zM316,850h1v1h-1zM323,850h1v1h-1zM389,850h1v1h-1zM394,850h1v1h-1zM399,850h1v1h-1zM460,850h1v1h-1zM465,850h1v1h-1zM470,850h1v1h-1zM521,850h1v1h-1zM531,850h1v1h-1zM536,850h1v1h-1zM541,850h1v1h-1zM546,850h1v1h-1zM592,850h1v1h-1zM601,850h1v1h-1zM612,850h1v1h-1zM617,850h1v1h-1zM663,850h1v1h-1zM675,850h1v1h-1zM682,850h1v1h-1zM688,850h1v1h-1zM733,850h1v1h-1zM743,850h1v1h-1zM748,850h1v1h-1zM753,850h1v1h-1zM758,850h1v1h-1zM804,850h1v1h-1zM819,850h1v1h-1zM824,850h1v1h-1zM829,850h1v1h-1zM176,851h1v1h-1zM242,851h1v1h-1zM315,851h1v1h-1zM323,851h1v1h-1zM460,851h1v1h-1zM520,851h1v1h-1zM530,851h1v1h-1zM591,851h1v1h-1zM601,851h1v1h-1zM662,851h1v1h-1zM674,851h1v1h-1zM682,851h1v1h-1zM688,851h1v1h-1zM732,851h1v1h-1zM742,851h1v1h-1zM803,851h1v1h-1zM819,851h1v1h-1zM176,852h1v1h-1zM314,852h1v1h-1zM459,852h1v1h-1zM530,852h1v1h-1zM673,852h1v1h-1zM742,852h1v1h-1zM818,852h1v1h-1zM247,853h1v1h-1zM314,853h1v1h-1zM385,853h3v1h-3zM455,853h4v1h-4zM606,853h1v1h-1zM673,853h1v1h-1zM744,853h3v1h-3zM814,853h4v1h-4zM247,854h1v1h-1zM313,854h1v1h-1zM384,854h1v1h-1zM388,854h1v1h-1zM401,854h1v1h-1zM455,854h1v1h-1zM458,854h2v1h-2zM548,854h1v1h-1zM606,854h1v1h-1zM672,854h1v1h-1zM743,854h1v1h-1zM747,854h1v1h-1zM760,854h1v1h-1zM814,854h1v1h-1zM817,854h2v1h-2zM246,855h1v1h-1zM312,855h1v1h-1zM383,855h1v1h-1zM401,855h1v1h-1zM454,855h1v1h-1zM460,855h1v1h-1zM548,855h1v1h-1zM605,855h1v1h-1zM671,855h1v1h-1zM742,855h1v1h-1zM748,855h1v1h-1zM760,855h1v1h-1zM813,855h1v1h-1zM819,855h1v1h-1zM245,856h1v1h-1zM313,856h4v1h-4zM318,856h3v1h-3zM461,856h1v1h-1zM604,856h1v1h-1zM672,856h4v1h-4zM677,856h3v1h-3zM748,856h1v1h-1zM820,856h1v1h-1zM244,857h1v1h-1zM323,857h1v1h-1zM383,857h1v1h-1zM461,857h1v1h-1zM603,857h1v1h-1zM682,857h1v1h-1zM742,857h1v1h-1zM749,857h1v1h-1zM820,857h1v1h-1zM243,858h1v1h-1zM323,858h1v1h-1zM329,858h1v1h-1zM383,858h1v1h-1zM394,858h1v1h-1zM460,858h1v1h-1zM541,858h1v1h-1zM602,858h1v1h-1zM682,858h1v1h-1zM688,858h1v1h-1zM742,858h1v1h-1zM748,858h1v1h-1zM753,858h1v1h-1zM819,858h1v1h-1zM177,859h1v1h-1zM182,859h1v1h-1zM242,859h1v1h-1zM253,859h1v1h-1zM258,859h1v1h-1zM324,859h1v1h-1zM328,859h1v1h-1zM384,859h1v1h-1zM388,859h1v1h-1zM394,859h1v1h-1zM399,859h1v1h-1zM454,859h1v1h-1zM460,859h1v1h-1zM465,859h1v1h-1zM470,859h1v1h-1zM531,859h1v1h-1zM536,859h1v1h-1zM541,859h1v1h-1zM546,859h1v1h-1zM601,859h1v1h-1zM612,859h1v1h-1zM617,859h1v1h-1zM683,859h1v1h-1zM687,859h1v1h-1zM743,859h1v1h-1zM747,859h1v1h-1zM753,859h1v1h-1zM758,859h1v1h-1zM813,859h1v1h-1zM819,859h1v1h-1zM824,859h1v1h-1zM829,859h1v1h-1zM178,860h4v1h-4zM243,860h7v1h-7zM254,860h4v1h-4zM325,860h3v1h-3zM385,860h3v1h-3zM395,860h4v1h-4zM455,860h5v1h-5zM466,860h4v1h-4zM532,860h4v1h-4zM542,860h4v1h-4zM602,860h7v1h-7zM613,860h4v1h-4zM684,860h3v1h-3zM744,860h3v1h-3zM754,860h4v1h-4zM814,860h5v1h-5zM825,860h4v1h-4zM184,877h1v1h-1zM272,877h1v1h-1zM183,878h1v1h-1zM273,878h1v1h-1zM491,878h1v1h-1zM513,878h1v1h-1zM150,879h6v1h-6zM182,879h1v1h-1zM189,879h5v1h-5zM196,879h3v1h-3zM215,879h6v1h-6zM274,879h1v1h-1zM490,879h1v1h-1zM514,879h1v1h-1zM678,879h3v1h-3zM707,879h4v1h-4zM723,879h1v1h-1zM730,879h4v1h-4zM741,879h4v1h-4zM806,879h4v1h-4zM821,879h4v1h-4zM843,879h4v1h-4zM181,880h1v1h-1zM188,880h1v1h-1zM192,880h1v1h-1zM194,880h2v1h-2zM197,880h1v1h-1zM221,880h1v1h-1zM275,880h1v1h-1zM489,880h1v1h-1zM515,880h1v1h-1zM706,880h1v1h-1zM711,880h1v1h-1zM722,880h1v1h-1zM729,880h1v1h-1zM734,880h1v1h-1zM740,880h1v1h-1zM745,880h1v1h-1zM805,880h1v1h-1zM810,880h1v1h-1zM820,880h1v1h-1zM825,880h1v1h-1zM835,880h1v1h-1zM842,880h1v1h-1zM847,880h1v1h-1zM181,881h1v1h-1zM188,881h1v1h-1zM191,881h1v1h-1zM196,881h1v1h-1zM275,881h1v1h-1zM489,881h1v1h-1zM515,881h1v1h-1zM706,881h1v1h-1zM721,881h1v1h-1zM728,881h1v1h-1zM735,881h1v1h-1zM760,881h1v1h-1zM766,881h1v1h-1zM810,881h1v1h-1zM820,881h1v1h-1zM826,881h1v1h-1zM834,881h1v1h-1zM189,882h2v1h-2zM195,882h1v1h-1zM227,882h2v1h-2zM238,882h1v1h-1zM247,882h2v1h-2zM256,882h2v1h-2zM266,882h1v1h-1zM686,882h1v1h-1zM734,882h1v1h-1zM760,882h1v1h-1zM766,882h1v1h-1zM775,882h1v1h-1zM781,882h1v1h-1zM787,882h1v1h-1zM826,882h1v1h-1zM833,882h1v1h-1zM155,883h1v1h-1zM194,883h1v1h-1zM215,883h1v1h-1zM226,883h1v1h-1zM229,883h1v1h-1zM236,883h2v1h-2zM239,883h2v1h-2zM245,883h2v1h-2zM249,883h1v1h-1zM255,883h1v1h-1zM258,883h1v1h-1zM264,883h2v1h-2zM267,883h2v1h-2zM498,883h1v1h-1zM502,883h2v1h-2zM508,883h1v1h-1zM685,883h1v1h-1zM687,883h1v1h-1zM692,883h11v1h-11zM734,883h1v1h-1zM773,883h2v1h-2zM776,883h2v1h-2zM782,883h1v1h-1zM786,883h1v1h-1zM790,883h11v1h-11zM825,883h1v1h-1zM832,883h1v1h-1zM150,884h4v1h-4zM160,884h6v1h-6zM193,884h1v1h-1zM216,884h3v1h-3zM225,884h1v1h-1zM235,884h1v1h-1zM244,884h1v1h-1zM254,884h1v1h-1zM259,884h1v1h-1zM263,884h1v1h-1zM497,884h1v1h-1zM501,884h1v1h-1zM504,884h1v1h-1zM506,884h2v1h-2zM509,884h1v1h-1zM672,884h1v1h-1zM684,884h1v1h-1zM688,884h1v1h-1zM713,884h1v1h-1zM733,884h1v1h-1zM772,884h1v1h-1zM783,884h1v1h-1zM785,884h1v1h-1zM825,884h1v1h-1zM831,884h1v1h-1zM192,885h1v1h-1zM219,885h2v1h-2zM243,885h1v1h-1zM259,885h1v1h-1zM496,885h1v1h-1zM672,885h1v1h-1zM713,885h1v1h-1zM732,885h1v1h-1zM783,885h2v1h-2zM824,885h1v1h-1zM831,885h1v1h-1zM191,886h1v1h-1zM196,886h2v1h-2zM243,886h1v1h-1zM254,886h5v1h-5zM495,886h1v1h-1zM669,886h1v1h-1zM731,886h1v1h-1zM784,886h1v1h-1zM823,886h1v1h-1zM832,886h4v1h-4zM837,886h2v1h-2zM155,887h1v1h-1zM190,887h1v1h-1zM195,887h1v1h-1zM197,887h1v1h-1zM244,887h1v1h-1zM494,887h1v1h-1zM496,887h1v1h-1zM669,887h1v1h-1zM692,887h11v1h-11zM706,887h1v1h-1zM730,887h1v1h-1zM783,887h1v1h-1zM785,887h1v1h-1zM790,887h11v1h-11zM822,887h1v1h-1zM155,888h1v1h-1zM189,888h1v1h-1zM194,888h1v1h-1zM198,888h1v1h-1zM214,888h1v1h-1zM235,888h1v1h-1zM240,888h1v1h-1zM244,888h1v1h-1zM254,888h1v1h-1zM259,888h1v1h-1zM263,888h1v1h-1zM268,888h1v1h-1zM497,888h1v1h-1zM706,888h1v1h-1zM729,888h1v1h-1zM740,888h1v1h-1zM745,888h1v1h-1zM772,888h1v1h-1zM777,888h1v1h-1zM782,888h1v1h-1zM786,888h1v1h-1zM810,888h1v1h-1zM821,888h1v1h-1zM842,888h1v1h-1zM847,888h1v1h-1zM156,889h1v1h-1zM181,889h1v1h-1zM188,889h1v1h-1zM194,889h1v1h-1zM197,889h1v1h-1zM200,889h1v1h-1zM215,889h1v1h-1zM220,889h1v1h-1zM236,889h1v1h-1zM239,889h1v1h-1zM245,889h1v1h-1zM248,889h2v1h-2zM255,889h1v1h-1zM258,889h1v1h-1zM264,889h1v1h-1zM267,889h1v1h-1zM498,889h1v1h-1zM707,889h1v1h-1zM711,889h1v1h-1zM717,889h1v1h-1zM728,889h1v1h-1zM741,889h1v1h-1zM744,889h1v1h-1zM763,889h1v1h-1zM773,889h1v1h-1zM776,889h1v1h-1zM781,889h1v1h-1zM786,889h1v1h-1zM805,889h1v1h-1zM809,889h1v1h-1zM815,889h2v1h-2zM820,889h1v1h-1zM843,889h1v1h-1zM846,889h1v1h-1zM156,890h1v1h-1zM181,890h1v1h-1zM188,890h1v1h-1zM195,890h2v1h-2zM200,890h1v1h-1zM216,890h4v1h-4zM237,890h2v1h-2zM246,890h2v1h-2zM256,890h2v1h-2zM265,890h2v1h-2zM489,890h1v1h-1zM498,890h1v1h-1zM515,890h1v1h-1zM708,890h3v1h-3zM717,890h1v1h-1zM729,890h7v1h-7zM742,890h2v1h-2zM763,890h1v1h-1zM774,890h2v1h-2zM781,890h1v1h-1zM787,890h1v1h-1zM806,890h3v1h-3zM821,890h7v1h-7zM844,890h2v1h-2zM182,891h1v1h-1zM199,891h1v1h-1zM274,891h1v1h-1zM489,891h1v1h-1zM515,891h1v1h-1zM183,892h1v1h-1zM199,892h1v1h-1zM273,892h1v1h-1zM490,892h1v1h-1zM514,892h1v1h-1zM184,893h1v1h-1zM272,893h1v1h-1zM491,893h1v1h-1zM513,893h1v1h-1zM184,894h1v1h-1zM272,894h1v1h-1zM171,896h1v1h-1zM262,896h1v1h-1zM170,897h1v1h-1zM263,897h1v1h-1zM587,897h1v1h-1zM767,897h1v1h-1zM149,898h4v1h-4zM154,898h3v1h-3zM169,898h1v1h-1zM178,898h4v1h-4zM264,898h1v1h-1zM587,898h1v1h-1zM615,898h1v1h-1zM639,898h3v1h-3zM649,898h5v1h-5zM730,898h4v1h-4zM740,898h5v1h-5zM767,898h1v1h-1zM806,898h4v1h-4zM821,898h4v1h-4zM832,898h4v1h-4zM842,898h4v1h-4zM169,899h1v1h-1zM177,899h1v1h-1zM182,899h1v1h-1zM265,899h1v1h-1zM575,899h1v1h-1zM582,899h1v1h-1zM614,899h1v1h-1zM630,899h1v1h-1zM638,899h1v1h-1zM642,899h1v1h-1zM654,899h1v1h-1zM716,899h1v1h-1zM734,899h1v1h-1zM745,899h1v1h-1zM754,899h1v1h-1zM805,899h1v1h-1zM820,899h1v1h-1zM825,899h1v1h-1zM831,899h1v1h-1zM836,899h1v1h-1zM841,899h1v1h-1zM846,899h1v1h-1zM176,900h1v1h-1zM183,900h1v1h-1zM265,900h1v1h-1zM575,900h1v1h-1zM582,900h1v1h-1zM613,900h1v1h-1zM629,900h1v1h-1zM654,900h1v1h-1zM715,900h1v1h-1zM733,900h1v1h-1zM744,900h1v1h-1zM753,900h1v1h-1zM804,900h1v1h-1zM820,900h1v1h-1zM841,900h1v1h-1zM203,901h2v1h-2zM213,901h2v1h-2zM222,901h2v1h-2zM230,901h2v1h-2zM233,901h2v1h-2zM239,901h2v1h-2zM259,901h2v1h-2zM593,901h3v1h-3zM628,901h1v1h-1zM653,901h1v1h-1zM682,901h3v1h-3zM689,901h1v1h-1zM695,901h1v1h-1zM714,901h1v1h-1zM733,901h1v1h-1zM743,901h1v1h-1zM752,901h1v1h-1zM774,901h3v1h-3zM784,901h2v1h-2zM202,902h1v1h-1zM205,902h1v1h-1zM212,902h1v1h-1zM215,902h1v1h-1zM220,902h2v1h-2zM224,902h1v1h-1zM238,902h1v1h-1zM241,902h1v1h-1zM258,902h1v1h-1zM592,902h1v1h-1zM596,902h1v1h-1zM600,902h11v1h-11zM627,902h1v1h-1zM649,902h4v1h-4zM681,902h1v1h-1zM685,902h1v1h-1zM690,902h1v1h-1zM694,902h1v1h-1zM698,902h11v1h-11zM713,902h1v1h-1zM734,902h1v1h-1zM744,902h2v1h-2zM751,902h1v1h-1zM773,902h1v1h-1zM777,902h1v1h-1zM783,902h1v1h-1zM786,902h1v1h-1zM791,902h10v1h-10zM809,902h1v1h-1zM201,903h1v1h-1zM206,903h1v1h-1zM211,903h1v1h-1zM216,903h1v1h-1zM237,903h1v1h-1zM242,903h1v1h-1zM257,903h1v1h-1zM627,903h1v1h-1zM642,903h1v1h-1zM649,903h1v1h-1zM652,903h1v1h-1zM669,903h1v1h-1zM680,903h1v1h-1zM691,903h1v1h-1zM693,903h1v1h-1zM712,903h1v1h-1zM735,903h1v1h-1zM746,903h1v1h-1zM751,903h1v1h-1zM782,903h1v1h-1zM787,903h1v1h-1zM809,903h1v1h-1zM827,903h1v1h-1zM848,903h1v1h-1zM216,904h1v1h-1zM577,904h1v1h-1zM580,904h1v1h-1zM626,904h1v1h-1zM638,904h2v1h-2zM641,904h1v1h-1zM648,904h1v1h-1zM653,904h1v1h-1zM669,904h1v1h-1zM691,904h2v1h-2zM712,904h1v1h-1zM747,904h1v1h-1zM750,904h1v1h-1zM808,904h1v1h-1zM827,904h1v1h-1zM848,904h1v1h-1zM217,905h1v1h-1zM577,905h1v1h-1zM580,905h1v1h-1zM627,905h4v1h-4zM632,905h2v1h-2zM640,905h1v1h-1zM672,905h1v1h-1zM692,905h1v1h-1zM713,905h4v1h-4zM718,905h2v1h-2zM747,905h1v1h-1zM751,905h4v1h-4zM756,905h3v1h-3zM807,905h1v1h-1zM176,906h1v1h-1zM183,906h1v1h-1zM217,906h1v1h-1zM579,906h1v1h-1zM600,906h11v1h-11zM672,906h1v1h-1zM691,906h1v1h-1zM693,906h1v1h-1zM698,906h11v1h-11zM746,906h1v1h-1zM791,906h10v1h-10zM806,906h1v1h-1zM820,906h1v1h-1zM841,906h1v1h-1zM176,907h1v1h-1zM182,907h1v1h-1zM201,907h1v1h-1zM206,907h1v1h-1zM211,907h1v1h-1zM216,907h1v1h-1zM237,907h1v1h-1zM242,907h1v1h-1zM251,907h1v1h-1zM579,907h1v1h-1zM637,907h1v1h-1zM642,907h1v1h-1zM680,907h1v1h-1zM685,907h1v1h-1zM690,907h1v1h-1zM694,907h1v1h-1zM729,907h1v1h-1zM735,907h1v1h-1zM739,907h2v1h-2zM746,907h1v1h-1zM782,907h1v1h-1zM787,907h1v1h-1zM805,907h1v1h-1zM820,907h1v1h-1zM831,907h1v1h-1zM836,907h1v1h-1zM841,907h1v1h-1zM169,908h1v1h-1zM177,908h1v1h-1zM181,908h1v1h-1zM202,908h1v1h-1zM205,908h1v1h-1zM212,908h1v1h-1zM215,908h1v1h-1zM233,908h1v1h-1zM238,908h1v1h-1zM241,908h1v1h-1zM247,908h1v1h-1zM250,908h1v1h-1zM621,908h2v1h-2zM638,908h1v1h-1zM641,908h1v1h-1zM648,908h2v1h-2zM653,908h1v1h-1zM681,908h1v1h-1zM684,908h1v1h-1zM689,908h1v1h-1zM695,908h1v1h-1zM725,908h1v1h-1zM730,908h1v1h-1zM734,908h1v1h-1zM741,908h1v1h-1zM745,908h1v1h-1zM783,908h1v1h-1zM786,908h1v1h-1zM804,908h1v1h-1zM816,908h1v1h-1zM821,908h1v1h-1zM824,908h2v1h-2zM832,908h1v1h-1zM835,908h1v1h-1zM842,908h1v1h-1zM845,908h2v1h-2zM169,909h1v1h-1zM178,909h3v1h-3zM203,909h2v1h-2zM213,909h2v1h-2zM234,909h1v1h-1zM239,909h2v1h-2zM248,909h2v1h-2zM639,909h2v1h-2zM650,909h3v1h-3zM682,909h2v1h-2zM689,909h1v1h-1zM695,909h1v1h-1zM725,909h1v1h-1zM731,909h3v1h-3zM742,909h3v1h-3zM784,909h2v1h-2zM805,909h7v1h-7zM816,909h1v1h-1zM822,909h2v1h-2zM833,909h2v1h-2zM843,909h2v1h-2zM170,910h1v1h-1zM264,910h1v1h-1zM170,911h1v1h-1zM186,911h1v1h-1zM263,911h1v1h-1zM171,912h1v1h-1zM262,912h1v1h-1z" fill="#000" shape-rendering="crispEdges"/>
</svg>
</body></html>
